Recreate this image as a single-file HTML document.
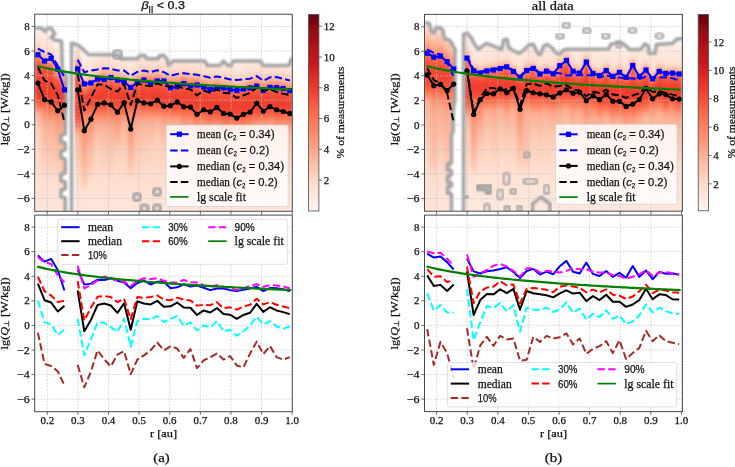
<!DOCTYPE html>
<html><head><meta charset="utf-8"><title>figure</title>
<style>html,body{margin:0;padding:0;background:#fff;width:735px;height:467px;overflow:hidden} svg{display:block}</style>
</head><body>
<svg width="735" height="467" viewBox="0 0 735 467">
<defs>
<style>text{stroke:#111;stroke-width:0.25;paint-order:stroke}</style>
<clipPath id="clipTL"><rect x="34.7" y="14.2" width="257.60" height="197.10"/></clipPath>
<clipPath id="clipBL"><rect x="34.7" y="215.1" width="257.60" height="196.60"/></clipPath>
<clipPath id="clipTR"><rect x="424.5" y="14.4" width="257.90" height="196.80"/></clipPath>
<clipPath id="clipBR"><rect x="424.5" y="215.1" width="257.90" height="196.50"/></clipPath>
<filter id="hblur" x="-5%" y="-5%" width="110%" height="110%"><feGaussianBlur stdDeviation="1.6"/></filter>
<filter id="gblur" x="-10%" y="-10%" width="120%" height="120%"><feGaussianBlur stdDeviation="0.9"/></filter>
<filter id="lblur"><feGaussianBlur stdDeviation="0.35"/></filter>
<linearGradient id="cbL" x1="0" y1="0" x2="0" y2="1"><stop offset="0.000" stop-color="#67000d"/><stop offset="0.050" stop-color="#800610"/><stop offset="0.100" stop-color="#990c13"/><stop offset="0.150" stop-color="#ad1117"/><stop offset="0.200" stop-color="#bc141a"/><stop offset="0.250" stop-color="#cb181d"/><stop offset="0.300" stop-color="#d92623"/><stop offset="0.350" stop-color="#e83429"/><stop offset="0.400" stop-color="#f14432"/><stop offset="0.450" stop-color="#f6573e"/><stop offset="0.500" stop-color="#fb6a4a"/><stop offset="0.550" stop-color="#fb7a5a"/><stop offset="0.600" stop-color="#fc8a6a"/><stop offset="0.650" stop-color="#fc9a7b"/><stop offset="0.700" stop-color="#fcab8e"/><stop offset="0.750" stop-color="#fcbba1"/><stop offset="0.800" stop-color="#fdcab5"/><stop offset="0.850" stop-color="#fed9c8"/><stop offset="0.900" stop-color="#fee4d8"/><stop offset="0.950" stop-color="#ffede4"/><stop offset="1.000" stop-color="#fff5f0"/></linearGradient>
<linearGradient id="cbR" x1="0" y1="0" x2="0" y2="1"><stop offset="0.000" stop-color="#67000d"/><stop offset="0.050" stop-color="#800610"/><stop offset="0.100" stop-color="#980c13"/><stop offset="0.150" stop-color="#ac1117"/><stop offset="0.200" stop-color="#bb141a"/><stop offset="0.250" stop-color="#ca181d"/><stop offset="0.300" stop-color="#d92523"/><stop offset="0.350" stop-color="#e73329"/><stop offset="0.400" stop-color="#f14331"/><stop offset="0.450" stop-color="#f6563d"/><stop offset="0.500" stop-color="#fb6949"/><stop offset="0.550" stop-color="#fb7959"/><stop offset="0.600" stop-color="#fc8969"/><stop offset="0.650" stop-color="#fc997a"/><stop offset="0.700" stop-color="#fca98c"/><stop offset="0.750" stop-color="#fcb99f"/><stop offset="0.800" stop-color="#fdc8b2"/><stop offset="0.850" stop-color="#fed7c6"/><stop offset="0.900" stop-color="#fee3d6"/><stop offset="0.950" stop-color="#ffebe2"/><stop offset="1.000" stop-color="#fff4ee"/></linearGradient>
<filter id="global" x="0" y="0" width="100%" height="100%" filterUnits="userSpaceOnUse"><feGaussianBlur stdDeviation="0.45"/></filter>
</defs>
<rect width="735" height="467" fill="#fff"/>
<g filter="url(#global)">
<g clip-path="url(#clipTL)"><g filter="url(#hblur)"><defs><linearGradient id="gTL0" gradientUnits="userSpaceOnUse" x1="0" y1="8.1" x2="0" y2="216.8"><stop offset="0.000" stop-color="#ffffff"/><stop offset="0.053" stop-color="#ffffff"/><stop offset="0.071" stop-color="#fff4ef"/><stop offset="0.088" stop-color="#fff1ea"/><stop offset="0.106" stop-color="#ffece3"/><stop offset="0.124" stop-color="#fee8dd"/><stop offset="0.141" stop-color="#fee4d8"/><stop offset="0.159" stop-color="#fee0d2"/><stop offset="0.176" stop-color="#fed9c9"/><stop offset="0.194" stop-color="#fdccb8"/><stop offset="0.212" stop-color="#fcb397"/><stop offset="0.229" stop-color="#fc8f6f"/><stop offset="0.247" stop-color="#fb6e4e"/><stop offset="0.265" stop-color="#f6573e"/><stop offset="0.282" stop-color="#f44f39"/><stop offset="0.300" stop-color="#f34b36"/><stop offset="0.318" stop-color="#f24834"/><stop offset="0.335" stop-color="#f14432"/><stop offset="0.353" stop-color="#f14130"/><stop offset="0.371" stop-color="#f03e2e"/><stop offset="0.388" stop-color="#ef3b2c"/><stop offset="0.406" stop-color="#ee3a2c"/><stop offset="0.424" stop-color="#f14130"/><stop offset="0.441" stop-color="#f4513a"/><stop offset="0.459" stop-color="#fa6446"/><stop offset="0.476" stop-color="#fb7c5c"/><stop offset="0.494" stop-color="#fc9c7e"/><stop offset="0.512" stop-color="#fcb398"/><stop offset="0.529" stop-color="#fcbca3"/><stop offset="0.547" stop-color="#fcc2aa"/><stop offset="0.565" stop-color="#fdc7b1"/><stop offset="0.582" stop-color="#fdccb7"/><stop offset="0.600" stop-color="#fdcfbc"/><stop offset="0.618" stop-color="#fdd1be"/><stop offset="0.635" stop-color="#fdd2c0"/><stop offset="0.653" stop-color="#fdd4c1"/><stop offset="0.671" stop-color="#fdd5c3"/><stop offset="0.688" stop-color="#fdd6c4"/><stop offset="0.706" stop-color="#fed7c6"/><stop offset="0.724" stop-color="#fed8c7"/><stop offset="0.741" stop-color="#fed9c9"/><stop offset="0.759" stop-color="#fedacb"/><stop offset="0.776" stop-color="#fedbcc"/><stop offset="0.794" stop-color="#feddce"/><stop offset="0.812" stop-color="#fedecf"/><stop offset="0.829" stop-color="#fedfd1"/><stop offset="0.847" stop-color="#fee0d2"/><stop offset="0.865" stop-color="#fee1d3"/><stop offset="0.882" stop-color="#fee1d4"/><stop offset="0.900" stop-color="#fee2d5"/><stop offset="0.918" stop-color="#fee3d6"/><stop offset="0.935" stop-color="#fee3d7"/><stop offset="0.953" stop-color="#fee4d8"/><stop offset="0.971" stop-color="#fee5d9"/><stop offset="0.988" stop-color="#fee5da"/></linearGradient><linearGradient id="gTL1" gradientUnits="userSpaceOnUse" x1="0" y1="8.1" x2="0" y2="216.8"><stop offset="0.000" stop-color="#ffffff"/><stop offset="0.088" stop-color="#ffffff"/><stop offset="0.106" stop-color="#fff3ed"/><stop offset="0.124" stop-color="#ffeee6"/><stop offset="0.141" stop-color="#fee9df"/><stop offset="0.159" stop-color="#fee5da"/><stop offset="0.176" stop-color="#fee2d4"/><stop offset="0.194" stop-color="#fedccd"/><stop offset="0.212" stop-color="#fdd2c0"/><stop offset="0.229" stop-color="#fcbfa6"/><stop offset="0.247" stop-color="#fc9d7f"/><stop offset="0.265" stop-color="#fb7a5a"/><stop offset="0.282" stop-color="#f85e42"/><stop offset="0.300" stop-color="#f4503a"/><stop offset="0.318" stop-color="#f34b36"/><stop offset="0.335" stop-color="#f24734"/><stop offset="0.353" stop-color="#f14331"/><stop offset="0.371" stop-color="#f03f2f"/><stop offset="0.388" stop-color="#ef3c2c"/><stop offset="0.406" stop-color="#ef3b2c"/><stop offset="0.424" stop-color="#f14130"/><stop offset="0.441" stop-color="#f5513a"/><stop offset="0.459" stop-color="#f96446"/><stop offset="0.476" stop-color="#fb7656"/><stop offset="0.494" stop-color="#fc8666"/><stop offset="0.512" stop-color="#fc9373"/><stop offset="0.529" stop-color="#fc9e80"/><stop offset="0.547" stop-color="#fca88b"/><stop offset="0.565" stop-color="#fcb095"/><stop offset="0.582" stop-color="#fcb59a"/><stop offset="0.600" stop-color="#fcb89e"/><stop offset="0.618" stop-color="#fcbba2"/><stop offset="0.635" stop-color="#fcbea5"/><stop offset="0.653" stop-color="#fcc1a9"/><stop offset="0.671" stop-color="#fcc4ad"/><stop offset="0.688" stop-color="#fdc7b1"/><stop offset="0.706" stop-color="#fdcab4"/><stop offset="0.724" stop-color="#fdcdb8"/><stop offset="0.741" stop-color="#fdd0bc"/><stop offset="0.759" stop-color="#fdd3c0"/><stop offset="0.776" stop-color="#fdd6c5"/><stop offset="0.794" stop-color="#fed9c9"/><stop offset="0.812" stop-color="#fedccd"/><stop offset="0.829" stop-color="#fedfd0"/><stop offset="0.847" stop-color="#fee0d2"/><stop offset="0.865" stop-color="#fee1d3"/><stop offset="0.882" stop-color="#fee1d4"/><stop offset="0.900" stop-color="#fee2d5"/><stop offset="0.918" stop-color="#fee3d6"/><stop offset="0.935" stop-color="#fee3d7"/><stop offset="0.953" stop-color="#fee4d8"/><stop offset="0.971" stop-color="#fee5d9"/><stop offset="0.988" stop-color="#fee5da"/></linearGradient><linearGradient id="gTL2" gradientUnits="userSpaceOnUse" x1="0" y1="8.1" x2="0" y2="216.8"><stop offset="0.000" stop-color="#ffffff"/><stop offset="0.088" stop-color="#ffffff"/><stop offset="0.106" stop-color="#fff4ee"/><stop offset="0.124" stop-color="#fff0e8"/><stop offset="0.141" stop-color="#ffebe2"/><stop offset="0.159" stop-color="#fee7dc"/><stop offset="0.176" stop-color="#fee3d7"/><stop offset="0.194" stop-color="#fee0d1"/><stop offset="0.212" stop-color="#fed8c7"/><stop offset="0.229" stop-color="#fdcab4"/><stop offset="0.247" stop-color="#fcae92"/><stop offset="0.265" stop-color="#fc8a6a"/><stop offset="0.282" stop-color="#fb6a4a"/><stop offset="0.300" stop-color="#f6553c"/><stop offset="0.318" stop-color="#f44d38"/><stop offset="0.335" stop-color="#f34935"/><stop offset="0.353" stop-color="#f24533"/><stop offset="0.371" stop-color="#f14130"/><stop offset="0.388" stop-color="#f03e2e"/><stop offset="0.406" stop-color="#ef3b2c"/><stop offset="0.424" stop-color="#ef3c2c"/><stop offset="0.441" stop-color="#f24633"/><stop offset="0.459" stop-color="#f6573e"/><stop offset="0.476" stop-color="#fb6b4b"/><stop offset="0.494" stop-color="#fb7d5d"/><stop offset="0.512" stop-color="#fc8b6b"/><stop offset="0.529" stop-color="#fc9778"/><stop offset="0.547" stop-color="#fca284"/><stop offset="0.565" stop-color="#fcac90"/><stop offset="0.582" stop-color="#fcb297"/><stop offset="0.600" stop-color="#fcb69c"/><stop offset="0.618" stop-color="#fcba9f"/><stop offset="0.635" stop-color="#fcbda3"/><stop offset="0.653" stop-color="#fcbfa7"/><stop offset="0.671" stop-color="#fcc2ab"/><stop offset="0.688" stop-color="#fdc5ae"/><stop offset="0.706" stop-color="#fdc8b2"/><stop offset="0.724" stop-color="#fdcbb6"/><stop offset="0.741" stop-color="#fdceba"/><stop offset="0.759" stop-color="#fdd1be"/><stop offset="0.776" stop-color="#fdd5c3"/><stop offset="0.794" stop-color="#fed8c8"/><stop offset="0.812" stop-color="#fedccc"/><stop offset="0.829" stop-color="#feded0"/><stop offset="0.847" stop-color="#fee0d2"/><stop offset="0.865" stop-color="#fee1d3"/><stop offset="0.882" stop-color="#fee1d4"/><stop offset="0.900" stop-color="#fee2d5"/><stop offset="0.918" stop-color="#fee3d6"/><stop offset="0.935" stop-color="#fee3d7"/><stop offset="0.953" stop-color="#fee4d8"/><stop offset="0.971" stop-color="#fee5d9"/><stop offset="0.988" stop-color="#fee5da"/></linearGradient><linearGradient id="gTL3" gradientUnits="userSpaceOnUse" x1="0" y1="8.1" x2="0" y2="216.8"><stop offset="0.000" stop-color="#ffffff"/><stop offset="0.141" stop-color="#ffffff"/><stop offset="0.159" stop-color="#fff4ef"/><stop offset="0.176" stop-color="#fff1ea"/><stop offset="0.194" stop-color="#ffece3"/><stop offset="0.212" stop-color="#fee7dc"/><stop offset="0.229" stop-color="#fee4d7"/><stop offset="0.247" stop-color="#fee0d2"/><stop offset="0.265" stop-color="#fed8c8"/><stop offset="0.282" stop-color="#fdcab5"/><stop offset="0.300" stop-color="#fcaf93"/><stop offset="0.318" stop-color="#fc8b6b"/><stop offset="0.335" stop-color="#fb6b4b"/><stop offset="0.353" stop-color="#f5543c"/><stop offset="0.371" stop-color="#f34935"/><stop offset="0.388" stop-color="#f14331"/><stop offset="0.406" stop-color="#f03d2d"/><stop offset="0.424" stop-color="#ef3d2d"/><stop offset="0.441" stop-color="#f24633"/><stop offset="0.459" stop-color="#f6573e"/><stop offset="0.476" stop-color="#fb6b4b"/><stop offset="0.494" stop-color="#fb7c5c"/><stop offset="0.512" stop-color="#fc8868"/><stop offset="0.529" stop-color="#fc9070"/><stop offset="0.547" stop-color="#fc9677"/><stop offset="0.565" stop-color="#fc9d7e"/><stop offset="0.582" stop-color="#fca385"/><stop offset="0.600" stop-color="#fca98d"/><stop offset="0.618" stop-color="#fcaf93"/><stop offset="0.635" stop-color="#fcb499"/><stop offset="0.653" stop-color="#fcb89d"/><stop offset="0.671" stop-color="#fcbba1"/><stop offset="0.688" stop-color="#fcbfa6"/><stop offset="0.706" stop-color="#fcc2aa"/><stop offset="0.724" stop-color="#fdc5af"/><stop offset="0.741" stop-color="#fdc9b3"/><stop offset="0.759" stop-color="#fdccb8"/><stop offset="0.776" stop-color="#fdd0bd"/><stop offset="0.794" stop-color="#fdd5c3"/><stop offset="0.812" stop-color="#fedaca"/><stop offset="0.829" stop-color="#fedecf"/><stop offset="0.847" stop-color="#fee0d2"/><stop offset="0.865" stop-color="#fee1d3"/><stop offset="0.882" stop-color="#fee1d4"/><stop offset="0.900" stop-color="#fee2d5"/><stop offset="0.918" stop-color="#fee3d6"/><stop offset="0.935" stop-color="#fee3d7"/><stop offset="0.953" stop-color="#fee4d8"/><stop offset="0.971" stop-color="#fee5d9"/><stop offset="0.988" stop-color="#fee5da"/></linearGradient><linearGradient id="gTL4" gradientUnits="userSpaceOnUse" x1="0" y1="8.1" x2="0" y2="216.8"><stop offset="0.000" stop-color="#ffffff"/><stop offset="0.176" stop-color="#ffffff"/><stop offset="0.194" stop-color="#fff4ee"/><stop offset="0.212" stop-color="#fff0e8"/><stop offset="0.229" stop-color="#ffebe2"/><stop offset="0.247" stop-color="#fee7dc"/><stop offset="0.265" stop-color="#fee3d7"/><stop offset="0.282" stop-color="#fee0d1"/><stop offset="0.300" stop-color="#fed8c7"/><stop offset="0.318" stop-color="#fdcab4"/><stop offset="0.335" stop-color="#fcae92"/><stop offset="0.353" stop-color="#fc8a6a"/><stop offset="0.371" stop-color="#fb694a"/><stop offset="0.388" stop-color="#f5523a"/><stop offset="0.406" stop-color="#f24633"/><stop offset="0.424" stop-color="#f03f2e"/><stop offset="0.441" stop-color="#f03e2e"/><stop offset="0.459" stop-color="#f24834"/><stop offset="0.476" stop-color="#f7593f"/><stop offset="0.494" stop-color="#fb6d4d"/><stop offset="0.512" stop-color="#fc7e5e"/><stop offset="0.529" stop-color="#fc8c6c"/><stop offset="0.547" stop-color="#fc9677"/><stop offset="0.565" stop-color="#fca082"/><stop offset="0.582" stop-color="#fca98c"/><stop offset="0.600" stop-color="#fcb094"/><stop offset="0.618" stop-color="#fcb499"/><stop offset="0.635" stop-color="#fcb69c"/><stop offset="0.653" stop-color="#fcb99e"/><stop offset="0.671" stop-color="#fcbba1"/><stop offset="0.688" stop-color="#fcbda4"/><stop offset="0.706" stop-color="#fcbfa6"/><stop offset="0.724" stop-color="#fcc1a9"/><stop offset="0.741" stop-color="#fcc3ac"/><stop offset="0.759" stop-color="#fdc5af"/><stop offset="0.776" stop-color="#fdc8b2"/><stop offset="0.794" stop-color="#fdcab4"/><stop offset="0.812" stop-color="#fdccb7"/><stop offset="0.829" stop-color="#fdd0bc"/><stop offset="0.847" stop-color="#fed7c6"/><stop offset="0.865" stop-color="#feded0"/><stop offset="0.882" stop-color="#fee1d3"/><stop offset="0.900" stop-color="#fee1d4"/><stop offset="0.918" stop-color="#fee2d5"/><stop offset="0.935" stop-color="#fee3d6"/><stop offset="0.953" stop-color="#fee4d7"/><stop offset="0.971" stop-color="#fee5d9"/><stop offset="0.988" stop-color="#fee5da"/></linearGradient><linearGradient id="gTL6" gradientUnits="userSpaceOnUse" x1="0" y1="8.1" x2="0" y2="216.8"><stop offset="0.000" stop-color="#ffffff"/><stop offset="0.106" stop-color="#ffffff"/><stop offset="0.124" stop-color="#fff3ec"/><stop offset="0.141" stop-color="#ffeee5"/><stop offset="0.159" stop-color="#fee9df"/><stop offset="0.176" stop-color="#fee5d9"/><stop offset="0.194" stop-color="#fee1d4"/><stop offset="0.212" stop-color="#fedccc"/><stop offset="0.229" stop-color="#fdd2bf"/><stop offset="0.247" stop-color="#fcbda3"/><stop offset="0.265" stop-color="#fc9b7c"/><stop offset="0.282" stop-color="#fb7858"/><stop offset="0.300" stop-color="#f85d42"/><stop offset="0.318" stop-color="#f5523a"/><stop offset="0.335" stop-color="#f44e38"/><stop offset="0.353" stop-color="#f34b36"/><stop offset="0.371" stop-color="#f34935"/><stop offset="0.388" stop-color="#f24633"/><stop offset="0.406" stop-color="#f14432"/><stop offset="0.424" stop-color="#f14130"/><stop offset="0.441" stop-color="#f03f2f"/><stop offset="0.459" stop-color="#ef3c2d"/><stop offset="0.476" stop-color="#ee3a2c"/><stop offset="0.494" stop-color="#ed392b"/><stop offset="0.512" stop-color="#f03e2e"/><stop offset="0.529" stop-color="#f34b36"/><stop offset="0.547" stop-color="#f85d42"/><stop offset="0.565" stop-color="#fb7353"/><stop offset="0.582" stop-color="#fc9171"/><stop offset="0.600" stop-color="#fcac90"/><stop offset="0.618" stop-color="#fcb79c"/><stop offset="0.635" stop-color="#fcbba1"/><stop offset="0.653" stop-color="#fcbea5"/><stop offset="0.671" stop-color="#fcc1a9"/><stop offset="0.688" stop-color="#fdc5ae"/><stop offset="0.706" stop-color="#fdc8b2"/><stop offset="0.724" stop-color="#fdcbb7"/><stop offset="0.741" stop-color="#fdcfbb"/><stop offset="0.759" stop-color="#fdd2bf"/><stop offset="0.776" stop-color="#fdd5c4"/><stop offset="0.794" stop-color="#fed9c8"/><stop offset="0.812" stop-color="#fedccd"/><stop offset="0.829" stop-color="#feded0"/><stop offset="0.847" stop-color="#fee0d2"/><stop offset="0.865" stop-color="#fee1d3"/><stop offset="0.882" stop-color="#fee1d4"/><stop offset="0.900" stop-color="#fee2d5"/><stop offset="0.918" stop-color="#fee3d6"/><stop offset="0.935" stop-color="#fee3d7"/><stop offset="0.953" stop-color="#fee4d8"/><stop offset="0.971" stop-color="#fee5d9"/><stop offset="0.988" stop-color="#fee5da"/></linearGradient><linearGradient id="gTL7" gradientUnits="userSpaceOnUse" x1="0" y1="8.1" x2="0" y2="216.8"><stop offset="0.000" stop-color="#ffffff"/><stop offset="0.212" stop-color="#ffffff"/><stop offset="0.229" stop-color="#fff3ed"/><stop offset="0.247" stop-color="#ffeee6"/><stop offset="0.265" stop-color="#fee9e0"/><stop offset="0.282" stop-color="#fee6da"/><stop offset="0.300" stop-color="#fee2d5"/><stop offset="0.318" stop-color="#feddce"/><stop offset="0.335" stop-color="#fdd4c2"/><stop offset="0.353" stop-color="#fcc1a9"/><stop offset="0.371" stop-color="#fca183"/><stop offset="0.388" stop-color="#fb7d5d"/><stop offset="0.406" stop-color="#f75c41"/><stop offset="0.424" stop-color="#f24633"/><stop offset="0.441" stop-color="#f14130"/><stop offset="0.459" stop-color="#f34c37"/><stop offset="0.476" stop-color="#f85e42"/><stop offset="0.494" stop-color="#fb7151"/><stop offset="0.512" stop-color="#fc8060"/><stop offset="0.529" stop-color="#fc8969"/><stop offset="0.547" stop-color="#fc8d6d"/><stop offset="0.565" stop-color="#fc9171"/><stop offset="0.582" stop-color="#fc9575"/><stop offset="0.600" stop-color="#fc9879"/><stop offset="0.618" stop-color="#fc9c7d"/><stop offset="0.635" stop-color="#fca082"/><stop offset="0.653" stop-color="#fca386"/><stop offset="0.671" stop-color="#fca78a"/><stop offset="0.688" stop-color="#fcab8e"/><stop offset="0.706" stop-color="#fcae93"/><stop offset="0.724" stop-color="#fcb297"/><stop offset="0.741" stop-color="#fcb69c"/><stop offset="0.759" stop-color="#fcbba1"/><stop offset="0.776" stop-color="#fcbfa6"/><stop offset="0.794" stop-color="#fcc2ab"/><stop offset="0.812" stop-color="#fdc6b0"/><stop offset="0.829" stop-color="#fdcbb6"/><stop offset="0.847" stop-color="#fdd2bf"/><stop offset="0.865" stop-color="#fedbcb"/><stop offset="0.882" stop-color="#fee0d2"/><stop offset="0.900" stop-color="#fee1d4"/><stop offset="0.918" stop-color="#fee2d5"/><stop offset="0.935" stop-color="#fee3d6"/><stop offset="0.953" stop-color="#fee4d7"/><stop offset="0.971" stop-color="#fee4d8"/><stop offset="0.988" stop-color="#fee5d9"/></linearGradient><linearGradient id="gTL8" gradientUnits="userSpaceOnUse" x1="0" y1="8.1" x2="0" y2="216.8"><stop offset="0.000" stop-color="#ffffff"/><stop offset="0.194" stop-color="#ffffff"/><stop offset="0.212" stop-color="#fff3ed"/><stop offset="0.229" stop-color="#ffeee6"/><stop offset="0.247" stop-color="#fee9e0"/><stop offset="0.265" stop-color="#fee6da"/><stop offset="0.282" stop-color="#fee2d5"/><stop offset="0.300" stop-color="#feddce"/><stop offset="0.318" stop-color="#fdd4c2"/><stop offset="0.335" stop-color="#fcc1a9"/><stop offset="0.353" stop-color="#fca183"/><stop offset="0.371" stop-color="#fb7d5d"/><stop offset="0.388" stop-color="#f85e42"/><stop offset="0.406" stop-color="#f34a36"/><stop offset="0.424" stop-color="#f0402f"/><stop offset="0.441" stop-color="#f0402f"/><stop offset="0.459" stop-color="#f34c37"/><stop offset="0.476" stop-color="#f85e42"/><stop offset="0.494" stop-color="#fb7151"/><stop offset="0.512" stop-color="#fc8161"/><stop offset="0.529" stop-color="#fc8b6b"/><stop offset="0.547" stop-color="#fc9171"/><stop offset="0.565" stop-color="#fc9778"/><stop offset="0.582" stop-color="#fc9d7f"/><stop offset="0.600" stop-color="#fca386"/><stop offset="0.618" stop-color="#fca98c"/><stop offset="0.635" stop-color="#fcaf93"/><stop offset="0.653" stop-color="#fcb498"/><stop offset="0.671" stop-color="#fcb89d"/><stop offset="0.688" stop-color="#fcbca2"/><stop offset="0.706" stop-color="#fcc0a7"/><stop offset="0.724" stop-color="#fcc4ad"/><stop offset="0.741" stop-color="#fdc8b2"/><stop offset="0.759" stop-color="#fdcbb7"/><stop offset="0.776" stop-color="#fdd0bc"/><stop offset="0.794" stop-color="#fdd5c3"/><stop offset="0.812" stop-color="#fedaca"/><stop offset="0.829" stop-color="#fedecf"/><stop offset="0.847" stop-color="#fee0d2"/><stop offset="0.865" stop-color="#fee1d3"/><stop offset="0.882" stop-color="#fee1d4"/><stop offset="0.900" stop-color="#fee2d5"/><stop offset="0.918" stop-color="#fee3d6"/><stop offset="0.935" stop-color="#fee3d7"/><stop offset="0.953" stop-color="#fee4d8"/><stop offset="0.971" stop-color="#fee5d9"/><stop offset="0.988" stop-color="#fee5da"/></linearGradient><linearGradient id="gTL9" gradientUnits="userSpaceOnUse" x1="0" y1="8.1" x2="0" y2="216.8"><stop offset="0.000" stop-color="#ffffff"/><stop offset="0.176" stop-color="#ffffff"/><stop offset="0.194" stop-color="#fff3ec"/><stop offset="0.212" stop-color="#ffeee5"/><stop offset="0.229" stop-color="#fee9df"/><stop offset="0.247" stop-color="#fee5d9"/><stop offset="0.265" stop-color="#fee1d4"/><stop offset="0.282" stop-color="#fedccc"/><stop offset="0.300" stop-color="#fdd2bf"/><stop offset="0.318" stop-color="#fcbda3"/><stop offset="0.335" stop-color="#fc9b7c"/><stop offset="0.353" stop-color="#fb7858"/><stop offset="0.371" stop-color="#f75b41"/><stop offset="0.388" stop-color="#f34c37"/><stop offset="0.406" stop-color="#f14431"/><stop offset="0.424" stop-color="#f03e2e"/><stop offset="0.441" stop-color="#f03e2e"/><stop offset="0.459" stop-color="#f34935"/><stop offset="0.476" stop-color="#f75b40"/><stop offset="0.494" stop-color="#fb6f4f"/><stop offset="0.512" stop-color="#fc8161"/><stop offset="0.529" stop-color="#fc9272"/><stop offset="0.547" stop-color="#fca285"/><stop offset="0.565" stop-color="#fcaf93"/><stop offset="0.582" stop-color="#fcb69c"/><stop offset="0.600" stop-color="#fcbca2"/><stop offset="0.618" stop-color="#fcc0a8"/><stop offset="0.635" stop-color="#fdc5ae"/><stop offset="0.653" stop-color="#fdc9b4"/><stop offset="0.671" stop-color="#fdcdb9"/><stop offset="0.688" stop-color="#fdd0bd"/><stop offset="0.706" stop-color="#fdd3c0"/><stop offset="0.724" stop-color="#fdd4c3"/><stop offset="0.741" stop-color="#fdd6c5"/><stop offset="0.759" stop-color="#fed8c7"/><stop offset="0.776" stop-color="#fedaca"/><stop offset="0.794" stop-color="#fedccc"/><stop offset="0.812" stop-color="#feddce"/><stop offset="0.829" stop-color="#fedfd0"/><stop offset="0.847" stop-color="#fee0d2"/><stop offset="0.865" stop-color="#fee1d3"/><stop offset="0.882" stop-color="#fee1d4"/><stop offset="0.900" stop-color="#fee2d5"/><stop offset="0.918" stop-color="#fee3d6"/><stop offset="0.935" stop-color="#fee3d7"/><stop offset="0.953" stop-color="#fee4d8"/><stop offset="0.971" stop-color="#fee5d9"/><stop offset="0.988" stop-color="#fee5da"/></linearGradient><linearGradient id="gTL10" gradientUnits="userSpaceOnUse" x1="0" y1="8.1" x2="0" y2="216.8"><stop offset="0.000" stop-color="#ffffff"/><stop offset="0.159" stop-color="#ffffff"/><stop offset="0.176" stop-color="#fff2ec"/><stop offset="0.194" stop-color="#ffede5"/><stop offset="0.212" stop-color="#fee9de"/><stop offset="0.229" stop-color="#fee5d9"/><stop offset="0.247" stop-color="#fee1d4"/><stop offset="0.265" stop-color="#fedbcc"/><stop offset="0.282" stop-color="#fdd1be"/><stop offset="0.300" stop-color="#fcbba1"/><stop offset="0.318" stop-color="#fc9979"/><stop offset="0.335" stop-color="#fb7656"/><stop offset="0.353" stop-color="#f75a40"/><stop offset="0.371" stop-color="#f44d37"/><stop offset="0.388" stop-color="#f24633"/><stop offset="0.406" stop-color="#f04130"/><stop offset="0.424" stop-color="#ef3c2d"/><stop offset="0.441" stop-color="#f03e2e"/><stop offset="0.459" stop-color="#f34935"/><stop offset="0.476" stop-color="#f75b40"/><stop offset="0.494" stop-color="#fb6f4f"/><stop offset="0.512" stop-color="#fc8161"/><stop offset="0.529" stop-color="#fc9272"/><stop offset="0.547" stop-color="#fca284"/><stop offset="0.565" stop-color="#fcae92"/><stop offset="0.582" stop-color="#fcb59a"/><stop offset="0.600" stop-color="#fcb99e"/><stop offset="0.618" stop-color="#fcbca3"/><stop offset="0.635" stop-color="#fcc0a7"/><stop offset="0.653" stop-color="#fcc3ac"/><stop offset="0.671" stop-color="#fdc6b0"/><stop offset="0.688" stop-color="#fdcab4"/><stop offset="0.706" stop-color="#fdcdb9"/><stop offset="0.724" stop-color="#fdd0bd"/><stop offset="0.741" stop-color="#fdd3c0"/><stop offset="0.759" stop-color="#fdd5c4"/><stop offset="0.776" stop-color="#fed8c7"/><stop offset="0.794" stop-color="#fedaca"/><stop offset="0.812" stop-color="#feddce"/><stop offset="0.829" stop-color="#fedfd0"/><stop offset="0.847" stop-color="#fee0d2"/><stop offset="0.865" stop-color="#fee1d3"/><stop offset="0.882" stop-color="#fee1d4"/><stop offset="0.900" stop-color="#fee2d5"/><stop offset="0.918" stop-color="#fee3d6"/><stop offset="0.935" stop-color="#fee3d7"/><stop offset="0.953" stop-color="#fee4d8"/><stop offset="0.971" stop-color="#fee5d9"/><stop offset="0.988" stop-color="#fee5da"/></linearGradient><linearGradient id="gTL11" gradientUnits="userSpaceOnUse" x1="0" y1="8.1" x2="0" y2="216.8"><stop offset="0.000" stop-color="#ffffff"/><stop offset="0.159" stop-color="#ffffff"/><stop offset="0.176" stop-color="#fff4ee"/><stop offset="0.194" stop-color="#ffefe8"/><stop offset="0.212" stop-color="#ffebe1"/><stop offset="0.229" stop-color="#fee7db"/><stop offset="0.247" stop-color="#fee3d6"/><stop offset="0.265" stop-color="#fedfd0"/><stop offset="0.282" stop-color="#fdd6c5"/><stop offset="0.300" stop-color="#fdc7b0"/><stop offset="0.318" stop-color="#fca98d"/><stop offset="0.335" stop-color="#fc8565"/><stop offset="0.353" stop-color="#fa6647"/><stop offset="0.371" stop-color="#f5513a"/><stop offset="0.388" stop-color="#f24834"/><stop offset="0.406" stop-color="#f14130"/><stop offset="0.424" stop-color="#ef3c2d"/><stop offset="0.441" stop-color="#f03f2e"/><stop offset="0.459" stop-color="#f34b37"/><stop offset="0.476" stop-color="#f85e42"/><stop offset="0.494" stop-color="#fb7151"/><stop offset="0.512" stop-color="#fc8262"/><stop offset="0.529" stop-color="#fc8f6f"/><stop offset="0.547" stop-color="#fc9a7c"/><stop offset="0.565" stop-color="#fca588"/><stop offset="0.582" stop-color="#fcae92"/><stop offset="0.600" stop-color="#fcb499"/><stop offset="0.618" stop-color="#fcb79d"/><stop offset="0.635" stop-color="#fcbba1"/><stop offset="0.653" stop-color="#fcbea5"/><stop offset="0.671" stop-color="#fcc1a9"/><stop offset="0.688" stop-color="#fcc4ad"/><stop offset="0.706" stop-color="#fdc7b1"/><stop offset="0.724" stop-color="#fdcab5"/><stop offset="0.741" stop-color="#fdcdb9"/><stop offset="0.759" stop-color="#fdd1be"/><stop offset="0.776" stop-color="#fdd4c3"/><stop offset="0.794" stop-color="#fed8c8"/><stop offset="0.812" stop-color="#fedccc"/><stop offset="0.829" stop-color="#feded0"/><stop offset="0.847" stop-color="#fee0d2"/><stop offset="0.865" stop-color="#fee1d3"/><stop offset="0.882" stop-color="#fee1d4"/><stop offset="0.900" stop-color="#fee2d5"/><stop offset="0.918" stop-color="#fee3d6"/><stop offset="0.935" stop-color="#fee3d7"/><stop offset="0.953" stop-color="#fee4d8"/><stop offset="0.971" stop-color="#fee5d9"/><stop offset="0.988" stop-color="#fee5da"/></linearGradient><linearGradient id="gTL12" gradientUnits="userSpaceOnUse" x1="0" y1="8.1" x2="0" y2="216.8"><stop offset="0.000" stop-color="#ffffff"/><stop offset="0.176" stop-color="#ffffff"/><stop offset="0.194" stop-color="#fff3ed"/><stop offset="0.212" stop-color="#ffeee6"/><stop offset="0.229" stop-color="#fee9df"/><stop offset="0.247" stop-color="#fee6da"/><stop offset="0.265" stop-color="#fee2d5"/><stop offset="0.282" stop-color="#feddcd"/><stop offset="0.300" stop-color="#fdd3c1"/><stop offset="0.318" stop-color="#fcc0a7"/><stop offset="0.335" stop-color="#fc9f80"/><stop offset="0.353" stop-color="#fb7b5b"/><stop offset="0.371" stop-color="#f85d42"/><stop offset="0.388" stop-color="#f34d37"/><stop offset="0.406" stop-color="#f14432"/><stop offset="0.424" stop-color="#f03e2e"/><stop offset="0.441" stop-color="#f03e2e"/><stop offset="0.459" stop-color="#f34935"/><stop offset="0.476" stop-color="#f75b40"/><stop offset="0.494" stop-color="#fb6f4f"/><stop offset="0.512" stop-color="#fc7f5f"/><stop offset="0.529" stop-color="#fc8c6c"/><stop offset="0.547" stop-color="#fc9575"/><stop offset="0.565" stop-color="#fc9d7e"/><stop offset="0.582" stop-color="#fca588"/><stop offset="0.600" stop-color="#fcad91"/><stop offset="0.618" stop-color="#fcb499"/><stop offset="0.635" stop-color="#fcbba1"/><stop offset="0.653" stop-color="#fcc1a9"/><stop offset="0.671" stop-color="#fdc7b0"/><stop offset="0.688" stop-color="#fdccb7"/><stop offset="0.706" stop-color="#fdd0bd"/><stop offset="0.724" stop-color="#fdd3c0"/><stop offset="0.741" stop-color="#fdd5c3"/><stop offset="0.759" stop-color="#fed7c6"/><stop offset="0.776" stop-color="#fed9c9"/><stop offset="0.794" stop-color="#fedbcb"/><stop offset="0.812" stop-color="#feddce"/><stop offset="0.829" stop-color="#fedfd0"/><stop offset="0.847" stop-color="#fee0d2"/><stop offset="0.865" stop-color="#fee1d3"/><stop offset="0.882" stop-color="#fee1d4"/><stop offset="0.900" stop-color="#fee2d5"/><stop offset="0.918" stop-color="#fee3d6"/><stop offset="0.935" stop-color="#fee3d7"/><stop offset="0.953" stop-color="#fee4d8"/><stop offset="0.971" stop-color="#fee5d9"/><stop offset="0.988" stop-color="#fee5da"/></linearGradient><linearGradient id="gTL13" gradientUnits="userSpaceOnUse" x1="0" y1="8.1" x2="0" y2="216.8"><stop offset="0.000" stop-color="#ffffff"/><stop offset="0.176" stop-color="#ffffff"/><stop offset="0.194" stop-color="#fff4ee"/><stop offset="0.212" stop-color="#ffefe8"/><stop offset="0.229" stop-color="#feeae1"/><stop offset="0.247" stop-color="#fee6db"/><stop offset="0.265" stop-color="#fee3d6"/><stop offset="0.282" stop-color="#feded0"/><stop offset="0.300" stop-color="#fdd6c4"/><stop offset="0.318" stop-color="#fdc5ae"/><stop offset="0.335" stop-color="#fca78a"/><stop offset="0.353" stop-color="#fc8363"/><stop offset="0.371" stop-color="#f96346"/><stop offset="0.388" stop-color="#f44f39"/><stop offset="0.406" stop-color="#f24532"/><stop offset="0.424" stop-color="#f03e2e"/><stop offset="0.441" stop-color="#f03e2e"/><stop offset="0.459" stop-color="#f34935"/><stop offset="0.476" stop-color="#f75b40"/><stop offset="0.494" stop-color="#fb6f4f"/><stop offset="0.512" stop-color="#fc8363"/><stop offset="0.529" stop-color="#fc9a7b"/><stop offset="0.547" stop-color="#fcac90"/><stop offset="0.565" stop-color="#fcb59b"/><stop offset="0.582" stop-color="#fcbaa0"/><stop offset="0.600" stop-color="#fcbea5"/><stop offset="0.618" stop-color="#fcc2aa"/><stop offset="0.635" stop-color="#fdc6af"/><stop offset="0.653" stop-color="#fdcab4"/><stop offset="0.671" stop-color="#fdcdb9"/><stop offset="0.688" stop-color="#fdd0bd"/><stop offset="0.706" stop-color="#fdd2c0"/><stop offset="0.724" stop-color="#fdd4c2"/><stop offset="0.741" stop-color="#fdd6c5"/><stop offset="0.759" stop-color="#fed8c7"/><stop offset="0.776" stop-color="#fedaca"/><stop offset="0.794" stop-color="#fedbcc"/><stop offset="0.812" stop-color="#feddce"/><stop offset="0.829" stop-color="#fedfd0"/><stop offset="0.847" stop-color="#fee0d2"/><stop offset="0.865" stop-color="#fee1d3"/><stop offset="0.882" stop-color="#fee1d4"/><stop offset="0.900" stop-color="#fee2d5"/><stop offset="0.918" stop-color="#fee3d6"/><stop offset="0.935" stop-color="#fee3d7"/><stop offset="0.953" stop-color="#fee4d8"/><stop offset="0.971" stop-color="#fee5d9"/><stop offset="0.988" stop-color="#fee5da"/></linearGradient><linearGradient id="gTL14" gradientUnits="userSpaceOnUse" x1="0" y1="8.1" x2="0" y2="216.8"><stop offset="0.000" stop-color="#ffffff"/><stop offset="0.194" stop-color="#ffffff"/><stop offset="0.212" stop-color="#fff4ee"/><stop offset="0.229" stop-color="#fff0e8"/><stop offset="0.247" stop-color="#ffebe1"/><stop offset="0.265" stop-color="#fee7dc"/><stop offset="0.282" stop-color="#fee3d7"/><stop offset="0.300" stop-color="#fedfd1"/><stop offset="0.318" stop-color="#fed8c7"/><stop offset="0.335" stop-color="#fdc9b3"/><stop offset="0.353" stop-color="#fcad91"/><stop offset="0.371" stop-color="#fc8969"/><stop offset="0.388" stop-color="#fa6748"/><stop offset="0.406" stop-color="#f44d37"/><stop offset="0.424" stop-color="#f04130"/><stop offset="0.441" stop-color="#f14432"/><stop offset="0.459" stop-color="#f5523b"/><stop offset="0.476" stop-color="#fa6647"/><stop offset="0.494" stop-color="#fb7858"/><stop offset="0.512" stop-color="#fc8565"/><stop offset="0.529" stop-color="#fc8c6c"/><stop offset="0.547" stop-color="#fc9070"/><stop offset="0.565" stop-color="#fc9575"/><stop offset="0.582" stop-color="#fc997a"/><stop offset="0.600" stop-color="#fc9e7f"/><stop offset="0.618" stop-color="#fca284"/><stop offset="0.635" stop-color="#fca689"/><stop offset="0.653" stop-color="#fcab8e"/><stop offset="0.671" stop-color="#fcaf94"/><stop offset="0.688" stop-color="#fcb499"/><stop offset="0.706" stop-color="#fcb99f"/><stop offset="0.724" stop-color="#fcbea5"/><stop offset="0.741" stop-color="#fcc2ab"/><stop offset="0.759" stop-color="#fdc7b1"/><stop offset="0.776" stop-color="#fdccb7"/><stop offset="0.794" stop-color="#fdd2bf"/><stop offset="0.812" stop-color="#fed8c8"/><stop offset="0.829" stop-color="#fedecf"/><stop offset="0.847" stop-color="#fee0d2"/><stop offset="0.865" stop-color="#fee1d3"/><stop offset="0.882" stop-color="#fee1d4"/><stop offset="0.900" stop-color="#fee2d5"/><stop offset="0.918" stop-color="#fee3d6"/><stop offset="0.935" stop-color="#fee3d7"/><stop offset="0.953" stop-color="#fee4d8"/><stop offset="0.971" stop-color="#fee5d9"/><stop offset="0.988" stop-color="#fee5da"/></linearGradient><linearGradient id="gTL15" gradientUnits="userSpaceOnUse" x1="0" y1="8.1" x2="0" y2="216.8"><stop offset="0.000" stop-color="#ffffff"/><stop offset="0.176" stop-color="#ffffff"/><stop offset="0.194" stop-color="#fff3ed"/><stop offset="0.212" stop-color="#ffeee6"/><stop offset="0.229" stop-color="#fee9df"/><stop offset="0.247" stop-color="#fee6da"/><stop offset="0.265" stop-color="#fee2d5"/><stop offset="0.282" stop-color="#feddcd"/><stop offset="0.300" stop-color="#fdd3c1"/><stop offset="0.318" stop-color="#fcc0a7"/><stop offset="0.335" stop-color="#fc9f80"/><stop offset="0.353" stop-color="#fb7b5b"/><stop offset="0.371" stop-color="#f85d42"/><stop offset="0.388" stop-color="#f34b36"/><stop offset="0.406" stop-color="#f14230"/><stop offset="0.424" stop-color="#f03d2d"/><stop offset="0.441" stop-color="#f14331"/><stop offset="0.459" stop-color="#f5523b"/><stop offset="0.476" stop-color="#fa6647"/><stop offset="0.494" stop-color="#fb7858"/><stop offset="0.512" stop-color="#fc8a6a"/><stop offset="0.529" stop-color="#fc9a7b"/><stop offset="0.547" stop-color="#fca88b"/><stop offset="0.565" stop-color="#fcb196"/><stop offset="0.582" stop-color="#fcb69c"/><stop offset="0.600" stop-color="#fcbaa0"/><stop offset="0.618" stop-color="#fcbda4"/><stop offset="0.635" stop-color="#fcc0a8"/><stop offset="0.653" stop-color="#fcc3ac"/><stop offset="0.671" stop-color="#fdc7b0"/><stop offset="0.688" stop-color="#fdcab4"/><stop offset="0.706" stop-color="#fdcdb9"/><stop offset="0.724" stop-color="#fdd0bc"/><stop offset="0.741" stop-color="#fdd2c0"/><stop offset="0.759" stop-color="#fdd5c4"/><stop offset="0.776" stop-color="#fed8c7"/><stop offset="0.794" stop-color="#fedaca"/><stop offset="0.812" stop-color="#feddce"/><stop offset="0.829" stop-color="#fedfd0"/><stop offset="0.847" stop-color="#fee0d2"/><stop offset="0.865" stop-color="#fee1d3"/><stop offset="0.882" stop-color="#fee1d4"/><stop offset="0.900" stop-color="#fee2d5"/><stop offset="0.918" stop-color="#fee3d6"/><stop offset="0.935" stop-color="#fee3d7"/><stop offset="0.953" stop-color="#fee4d8"/><stop offset="0.971" stop-color="#fee5d9"/><stop offset="0.988" stop-color="#fee5da"/></linearGradient><linearGradient id="gTL16" gradientUnits="userSpaceOnUse" x1="0" y1="8.1" x2="0" y2="216.8"><stop offset="0.000" stop-color="#ffffff"/><stop offset="0.159" stop-color="#ffffff"/><stop offset="0.176" stop-color="#fff4ee"/><stop offset="0.194" stop-color="#ffefe8"/><stop offset="0.212" stop-color="#ffebe1"/><stop offset="0.229" stop-color="#fee7db"/><stop offset="0.247" stop-color="#fee3d6"/><stop offset="0.265" stop-color="#fedfd0"/><stop offset="0.282" stop-color="#fdd6c5"/><stop offset="0.300" stop-color="#fdc7b0"/><stop offset="0.318" stop-color="#fca98d"/><stop offset="0.335" stop-color="#fc8565"/><stop offset="0.353" stop-color="#fa6647"/><stop offset="0.371" stop-color="#f5513a"/><stop offset="0.388" stop-color="#f24733"/><stop offset="0.406" stop-color="#f0402f"/><stop offset="0.424" stop-color="#ef3c2d"/><stop offset="0.441" stop-color="#f14331"/><stop offset="0.459" stop-color="#f5523b"/><stop offset="0.476" stop-color="#fa6647"/><stop offset="0.494" stop-color="#fb7959"/><stop offset="0.512" stop-color="#fc8c6c"/><stop offset="0.529" stop-color="#fc9f81"/><stop offset="0.547" stop-color="#fcad92"/><stop offset="0.565" stop-color="#fcb59a"/><stop offset="0.582" stop-color="#fcb99f"/><stop offset="0.600" stop-color="#fcbda3"/><stop offset="0.618" stop-color="#fcc0a7"/><stop offset="0.635" stop-color="#fcc3ac"/><stop offset="0.653" stop-color="#fdc6b0"/><stop offset="0.671" stop-color="#fdcab5"/><stop offset="0.688" stop-color="#fdcdb9"/><stop offset="0.706" stop-color="#fdd0bd"/><stop offset="0.724" stop-color="#fdd2c0"/><stop offset="0.741" stop-color="#fdd4c3"/><stop offset="0.759" stop-color="#fdd7c6"/><stop offset="0.776" stop-color="#fed9c8"/><stop offset="0.794" stop-color="#fedbcb"/><stop offset="0.812" stop-color="#feddce"/><stop offset="0.829" stop-color="#fedfd0"/><stop offset="0.847" stop-color="#fee0d2"/><stop offset="0.865" stop-color="#fee1d3"/><stop offset="0.882" stop-color="#fee1d4"/><stop offset="0.900" stop-color="#fee2d5"/><stop offset="0.918" stop-color="#fee3d6"/><stop offset="0.935" stop-color="#fee3d7"/><stop offset="0.953" stop-color="#fee4d8"/><stop offset="0.971" stop-color="#fee5d9"/><stop offset="0.988" stop-color="#fee5da"/></linearGradient><linearGradient id="gTL17" gradientUnits="userSpaceOnUse" x1="0" y1="8.1" x2="0" y2="216.8"><stop offset="0.000" stop-color="#ffffff"/><stop offset="0.159" stop-color="#ffffff"/><stop offset="0.176" stop-color="#fff4ef"/><stop offset="0.194" stop-color="#fff1ea"/><stop offset="0.212" stop-color="#ffece3"/><stop offset="0.229" stop-color="#fee8dd"/><stop offset="0.247" stop-color="#fee4d7"/><stop offset="0.265" stop-color="#fee0d2"/><stop offset="0.282" stop-color="#fed9c8"/><stop offset="0.300" stop-color="#fdcbb7"/><stop offset="0.318" stop-color="#fcb196"/><stop offset="0.335" stop-color="#fc8e6e"/><stop offset="0.353" stop-color="#fb6c4c"/><stop offset="0.371" stop-color="#f5543c"/><stop offset="0.388" stop-color="#f24834"/><stop offset="0.406" stop-color="#f0402f"/><stop offset="0.424" stop-color="#ef3d2d"/><stop offset="0.441" stop-color="#f14331"/><stop offset="0.459" stop-color="#f5523b"/><stop offset="0.476" stop-color="#fa6647"/><stop offset="0.494" stop-color="#fb7959"/><stop offset="0.512" stop-color="#fc8b6b"/><stop offset="0.529" stop-color="#fc9d7f"/><stop offset="0.547" stop-color="#fcac90"/><stop offset="0.565" stop-color="#fcb59a"/><stop offset="0.582" stop-color="#fcbaa0"/><stop offset="0.600" stop-color="#fcbea5"/><stop offset="0.618" stop-color="#fcc2aa"/><stop offset="0.635" stop-color="#fdc6b0"/><stop offset="0.653" stop-color="#fdcab5"/><stop offset="0.671" stop-color="#fdceba"/><stop offset="0.688" stop-color="#fdd1be"/><stop offset="0.706" stop-color="#fdd3c0"/><stop offset="0.724" stop-color="#fdd4c3"/><stop offset="0.741" stop-color="#fdd6c5"/><stop offset="0.759" stop-color="#fed8c7"/><stop offset="0.776" stop-color="#fedaca"/><stop offset="0.794" stop-color="#fedccc"/><stop offset="0.812" stop-color="#feddce"/><stop offset="0.829" stop-color="#fedfd0"/><stop offset="0.847" stop-color="#fee0d2"/><stop offset="0.865" stop-color="#fee1d3"/><stop offset="0.882" stop-color="#fee1d4"/><stop offset="0.900" stop-color="#fee2d5"/><stop offset="0.918" stop-color="#fee3d6"/><stop offset="0.935" stop-color="#fee3d7"/><stop offset="0.953" stop-color="#fee4d8"/><stop offset="0.971" stop-color="#fee5d9"/><stop offset="0.988" stop-color="#fee5da"/></linearGradient><linearGradient id="gTL18" gradientUnits="userSpaceOnUse" x1="0" y1="8.1" x2="0" y2="216.8"><stop offset="0.000" stop-color="#ffffff"/><stop offset="0.159" stop-color="#ffffff"/><stop offset="0.176" stop-color="#fff4ee"/><stop offset="0.194" stop-color="#ffefe8"/><stop offset="0.212" stop-color="#ffebe1"/><stop offset="0.229" stop-color="#fee7db"/><stop offset="0.247" stop-color="#fee3d6"/><stop offset="0.265" stop-color="#fedfd0"/><stop offset="0.282" stop-color="#fdd6c5"/><stop offset="0.300" stop-color="#fdc7b0"/><stop offset="0.318" stop-color="#fca98d"/><stop offset="0.335" stop-color="#fc8565"/><stop offset="0.353" stop-color="#fa6647"/><stop offset="0.371" stop-color="#f5513a"/><stop offset="0.388" stop-color="#f24734"/><stop offset="0.406" stop-color="#f04130"/><stop offset="0.424" stop-color="#ef3c2d"/><stop offset="0.441" stop-color="#f0402f"/><stop offset="0.459" stop-color="#f44e38"/><stop offset="0.476" stop-color="#f96144"/><stop offset="0.494" stop-color="#fb7555"/><stop offset="0.512" stop-color="#fc8c6c"/><stop offset="0.529" stop-color="#fca588"/><stop offset="0.547" stop-color="#fcb499"/><stop offset="0.565" stop-color="#fcbba1"/><stop offset="0.582" stop-color="#fcc0a8"/><stop offset="0.600" stop-color="#fdc5ae"/><stop offset="0.618" stop-color="#fdc9b4"/><stop offset="0.635" stop-color="#fdceba"/><stop offset="0.653" stop-color="#fdd0bd"/><stop offset="0.671" stop-color="#fdd2c0"/><stop offset="0.688" stop-color="#fdd4c2"/><stop offset="0.706" stop-color="#fdd5c3"/><stop offset="0.724" stop-color="#fdd6c5"/><stop offset="0.741" stop-color="#fed8c7"/><stop offset="0.759" stop-color="#fed9c9"/><stop offset="0.776" stop-color="#fedbcb"/><stop offset="0.794" stop-color="#fedccd"/><stop offset="0.812" stop-color="#fedecf"/><stop offset="0.829" stop-color="#fedfd1"/><stop offset="0.847" stop-color="#fee0d2"/><stop offset="0.865" stop-color="#fee1d3"/><stop offset="0.882" stop-color="#fee1d4"/><stop offset="0.900" stop-color="#fee2d5"/><stop offset="0.918" stop-color="#fee3d6"/><stop offset="0.935" stop-color="#fee3d7"/><stop offset="0.953" stop-color="#fee4d8"/><stop offset="0.971" stop-color="#fee5d9"/><stop offset="0.988" stop-color="#fee5da"/></linearGradient><linearGradient id="gTL19" gradientUnits="userSpaceOnUse" x1="0" y1="8.1" x2="0" y2="216.8"><stop offset="0.000" stop-color="#ffffff"/><stop offset="0.176" stop-color="#ffffff"/><stop offset="0.194" stop-color="#fff3ed"/><stop offset="0.212" stop-color="#ffeee6"/><stop offset="0.229" stop-color="#fee9df"/><stop offset="0.247" stop-color="#fee6da"/><stop offset="0.265" stop-color="#fee2d5"/><stop offset="0.282" stop-color="#feddcd"/><stop offset="0.300" stop-color="#fdd3c1"/><stop offset="0.318" stop-color="#fcc0a7"/><stop offset="0.335" stop-color="#fc9f80"/><stop offset="0.353" stop-color="#fb7b5b"/><stop offset="0.371" stop-color="#f85d42"/><stop offset="0.388" stop-color="#f34c37"/><stop offset="0.406" stop-color="#f14331"/><stop offset="0.424" stop-color="#f03d2d"/><stop offset="0.441" stop-color="#f0402f"/><stop offset="0.459" stop-color="#f44e38"/><stop offset="0.476" stop-color="#f96144"/><stop offset="0.494" stop-color="#fb7454"/><stop offset="0.512" stop-color="#fc8666"/><stop offset="0.529" stop-color="#fc9677"/><stop offset="0.547" stop-color="#fca588"/><stop offset="0.565" stop-color="#fcb095"/><stop offset="0.582" stop-color="#fcb79d"/><stop offset="0.600" stop-color="#fcbca3"/><stop offset="0.618" stop-color="#fcc1a8"/><stop offset="0.635" stop-color="#fdc5ae"/><stop offset="0.653" stop-color="#fdc9b4"/><stop offset="0.671" stop-color="#fdcdb9"/><stop offset="0.688" stop-color="#fdd0bd"/><stop offset="0.706" stop-color="#fdd3c0"/><stop offset="0.724" stop-color="#fdd4c3"/><stop offset="0.741" stop-color="#fdd6c5"/><stop offset="0.759" stop-color="#fed8c7"/><stop offset="0.776" stop-color="#fedaca"/><stop offset="0.794" stop-color="#fedccc"/><stop offset="0.812" stop-color="#feddce"/><stop offset="0.829" stop-color="#fedfd0"/><stop offset="0.847" stop-color="#fee0d2"/><stop offset="0.865" stop-color="#fee1d3"/><stop offset="0.882" stop-color="#fee1d4"/><stop offset="0.900" stop-color="#fee2d5"/><stop offset="0.918" stop-color="#fee3d6"/><stop offset="0.935" stop-color="#fee3d7"/><stop offset="0.953" stop-color="#fee4d8"/><stop offset="0.971" stop-color="#fee5d9"/><stop offset="0.988" stop-color="#fee5da"/></linearGradient><linearGradient id="gTL20" gradientUnits="userSpaceOnUse" x1="0" y1="8.1" x2="0" y2="216.8"><stop offset="0.000" stop-color="#ffffff"/><stop offset="0.176" stop-color="#ffffff"/><stop offset="0.194" stop-color="#fff4ef"/><stop offset="0.212" stop-color="#fff1ea"/><stop offset="0.229" stop-color="#ffece3"/><stop offset="0.247" stop-color="#fee7dc"/><stop offset="0.265" stop-color="#fee4d7"/><stop offset="0.282" stop-color="#fee0d2"/><stop offset="0.300" stop-color="#fed8c8"/><stop offset="0.318" stop-color="#fdcab5"/><stop offset="0.335" stop-color="#fcaf93"/><stop offset="0.353" stop-color="#fc8b6b"/><stop offset="0.371" stop-color="#fb6a4a"/><stop offset="0.388" stop-color="#f5523b"/><stop offset="0.406" stop-color="#f24734"/><stop offset="0.424" stop-color="#f03f2f"/><stop offset="0.441" stop-color="#f03d2d"/><stop offset="0.459" stop-color="#f24633"/><stop offset="0.476" stop-color="#f6573e"/><stop offset="0.494" stop-color="#fb6b4b"/><stop offset="0.512" stop-color="#fc7e5e"/><stop offset="0.529" stop-color="#fc9575"/><stop offset="0.547" stop-color="#fcaa8d"/><stop offset="0.565" stop-color="#fcb59a"/><stop offset="0.582" stop-color="#fcbba2"/><stop offset="0.600" stop-color="#fcc0a8"/><stop offset="0.618" stop-color="#fdc5ae"/><stop offset="0.635" stop-color="#fdc9b4"/><stop offset="0.653" stop-color="#fdceba"/><stop offset="0.671" stop-color="#fdd0bd"/><stop offset="0.688" stop-color="#fdd2c0"/><stop offset="0.706" stop-color="#fdd4c2"/><stop offset="0.724" stop-color="#fdd6c4"/><stop offset="0.741" stop-color="#fed7c6"/><stop offset="0.759" stop-color="#fed9c8"/><stop offset="0.776" stop-color="#fedaca"/><stop offset="0.794" stop-color="#fedccd"/><stop offset="0.812" stop-color="#feddcf"/><stop offset="0.829" stop-color="#fedfd0"/><stop offset="0.847" stop-color="#fee0d2"/><stop offset="0.865" stop-color="#fee1d3"/><stop offset="0.882" stop-color="#fee1d4"/><stop offset="0.900" stop-color="#fee2d5"/><stop offset="0.918" stop-color="#fee3d6"/><stop offset="0.935" stop-color="#fee3d7"/><stop offset="0.953" stop-color="#fee4d8"/><stop offset="0.971" stop-color="#fee5d9"/><stop offset="0.988" stop-color="#fee5da"/></linearGradient><linearGradient id="gTL21" gradientUnits="userSpaceOnUse" x1="0" y1="8.1" x2="0" y2="216.8"><stop offset="0.000" stop-color="#ffffff"/><stop offset="0.176" stop-color="#ffffff"/><stop offset="0.194" stop-color="#fff4ef"/><stop offset="0.212" stop-color="#fff1ea"/><stop offset="0.229" stop-color="#ffece3"/><stop offset="0.247" stop-color="#fee7dc"/><stop offset="0.265" stop-color="#fee4d7"/><stop offset="0.282" stop-color="#fee0d2"/><stop offset="0.300" stop-color="#fed8c8"/><stop offset="0.318" stop-color="#fdcab5"/><stop offset="0.335" stop-color="#fcaf93"/><stop offset="0.353" stop-color="#fc8b6b"/><stop offset="0.371" stop-color="#fb6a4a"/><stop offset="0.388" stop-color="#f5533b"/><stop offset="0.406" stop-color="#f24734"/><stop offset="0.424" stop-color="#f0402f"/><stop offset="0.441" stop-color="#ef3d2d"/><stop offset="0.459" stop-color="#f14432"/><stop offset="0.476" stop-color="#f5543c"/><stop offset="0.494" stop-color="#fb6849"/><stop offset="0.512" stop-color="#fc7f5f"/><stop offset="0.529" stop-color="#fc9c7d"/><stop offset="0.547" stop-color="#fcb195"/><stop offset="0.565" stop-color="#fcb99f"/><stop offset="0.582" stop-color="#fcbda4"/><stop offset="0.600" stop-color="#fcc1a9"/><stop offset="0.618" stop-color="#fdc5ae"/><stop offset="0.635" stop-color="#fdc8b3"/><stop offset="0.653" stop-color="#fdccb8"/><stop offset="0.671" stop-color="#fdcfbc"/><stop offset="0.688" stop-color="#fdd1bf"/><stop offset="0.706" stop-color="#fdd3c1"/><stop offset="0.724" stop-color="#fdd5c3"/><stop offset="0.741" stop-color="#fdd7c6"/><stop offset="0.759" stop-color="#fed8c8"/><stop offset="0.776" stop-color="#fedaca"/><stop offset="0.794" stop-color="#fedccc"/><stop offset="0.812" stop-color="#feddce"/><stop offset="0.829" stop-color="#fedfd0"/><stop offset="0.847" stop-color="#fee0d2"/><stop offset="0.865" stop-color="#fee1d3"/><stop offset="0.882" stop-color="#fee1d4"/><stop offset="0.900" stop-color="#fee2d5"/><stop offset="0.918" stop-color="#fee3d6"/><stop offset="0.935" stop-color="#fee3d7"/><stop offset="0.953" stop-color="#fee4d8"/><stop offset="0.971" stop-color="#fee5d9"/><stop offset="0.988" stop-color="#fee5da"/></linearGradient><linearGradient id="gTL22" gradientUnits="userSpaceOnUse" x1="0" y1="8.1" x2="0" y2="216.8"><stop offset="0.000" stop-color="#ffffff"/><stop offset="0.176" stop-color="#ffffff"/><stop offset="0.194" stop-color="#fff2ec"/><stop offset="0.212" stop-color="#ffede5"/><stop offset="0.229" stop-color="#fee9de"/><stop offset="0.247" stop-color="#fee5d9"/><stop offset="0.265" stop-color="#fee1d3"/><stop offset="0.282" stop-color="#fedbcb"/><stop offset="0.300" stop-color="#fdd0bc"/><stop offset="0.318" stop-color="#fcb99f"/><stop offset="0.335" stop-color="#fc9677"/><stop offset="0.353" stop-color="#fb7353"/><stop offset="0.371" stop-color="#f7593f"/><stop offset="0.388" stop-color="#f34c37"/><stop offset="0.406" stop-color="#f24532"/><stop offset="0.424" stop-color="#f03f2e"/><stop offset="0.441" stop-color="#ef3c2d"/><stop offset="0.459" stop-color="#f14230"/><stop offset="0.476" stop-color="#f5513a"/><stop offset="0.494" stop-color="#fa6446"/><stop offset="0.512" stop-color="#fb7757"/><stop offset="0.529" stop-color="#fc8868"/><stop offset="0.547" stop-color="#fc9879"/><stop offset="0.565" stop-color="#fca688"/><stop offset="0.582" stop-color="#fcb094"/><stop offset="0.600" stop-color="#fcb69c"/><stop offset="0.618" stop-color="#fcbba1"/><stop offset="0.635" stop-color="#fcbfa6"/><stop offset="0.653" stop-color="#fcc2ab"/><stop offset="0.671" stop-color="#fdc6b0"/><stop offset="0.688" stop-color="#fdcab5"/><stop offset="0.706" stop-color="#fdceba"/><stop offset="0.724" stop-color="#fdd1be"/><stop offset="0.741" stop-color="#fdd3c1"/><stop offset="0.759" stop-color="#fdd6c4"/><stop offset="0.776" stop-color="#fed8c8"/><stop offset="0.794" stop-color="#fedbcb"/><stop offset="0.812" stop-color="#feddce"/><stop offset="0.829" stop-color="#fedfd0"/><stop offset="0.847" stop-color="#fee0d2"/><stop offset="0.865" stop-color="#fee1d3"/><stop offset="0.882" stop-color="#fee1d4"/><stop offset="0.900" stop-color="#fee2d5"/><stop offset="0.918" stop-color="#fee3d6"/><stop offset="0.935" stop-color="#fee3d7"/><stop offset="0.953" stop-color="#fee4d8"/><stop offset="0.971" stop-color="#fee5d9"/><stop offset="0.988" stop-color="#fee5da"/></linearGradient><linearGradient id="gTL23" gradientUnits="userSpaceOnUse" x1="0" y1="8.1" x2="0" y2="216.8"><stop offset="0.000" stop-color="#ffffff"/><stop offset="0.176" stop-color="#ffffff"/><stop offset="0.194" stop-color="#fff4ee"/><stop offset="0.212" stop-color="#fff0e8"/><stop offset="0.229" stop-color="#ffebe1"/><stop offset="0.247" stop-color="#fee7dc"/><stop offset="0.265" stop-color="#fee3d7"/><stop offset="0.282" stop-color="#fedfd1"/><stop offset="0.300" stop-color="#fed7c6"/><stop offset="0.318" stop-color="#fdc8b2"/><stop offset="0.335" stop-color="#fcac90"/><stop offset="0.353" stop-color="#fc8868"/><stop offset="0.371" stop-color="#fa6848"/><stop offset="0.388" stop-color="#f5523a"/><stop offset="0.406" stop-color="#f24734"/><stop offset="0.424" stop-color="#f0402f"/><stop offset="0.441" stop-color="#ef3c2d"/><stop offset="0.459" stop-color="#f14130"/><stop offset="0.476" stop-color="#f45039"/><stop offset="0.494" stop-color="#f96346"/><stop offset="0.512" stop-color="#fb7656"/><stop offset="0.529" stop-color="#fc8a6a"/><stop offset="0.547" stop-color="#fc9e80"/><stop offset="0.565" stop-color="#fcae92"/><stop offset="0.582" stop-color="#fcb79c"/><stop offset="0.600" stop-color="#fcbca3"/><stop offset="0.618" stop-color="#fcc1a9"/><stop offset="0.635" stop-color="#fdc6af"/><stop offset="0.653" stop-color="#fdcbb6"/><stop offset="0.671" stop-color="#fdcebb"/><stop offset="0.688" stop-color="#fdd1be"/><stop offset="0.706" stop-color="#fdd3c1"/><stop offset="0.724" stop-color="#fdd5c3"/><stop offset="0.741" stop-color="#fdd6c5"/><stop offset="0.759" stop-color="#fed8c8"/><stop offset="0.776" stop-color="#fedaca"/><stop offset="0.794" stop-color="#fedccc"/><stop offset="0.812" stop-color="#feddce"/><stop offset="0.829" stop-color="#fedfd0"/><stop offset="0.847" stop-color="#fee0d2"/><stop offset="0.865" stop-color="#fee1d3"/><stop offset="0.882" stop-color="#fee1d4"/><stop offset="0.900" stop-color="#fee2d5"/><stop offset="0.918" stop-color="#fee3d6"/><stop offset="0.935" stop-color="#fee3d7"/><stop offset="0.953" stop-color="#fee4d8"/><stop offset="0.971" stop-color="#fee5d9"/><stop offset="0.988" stop-color="#fee5da"/></linearGradient><linearGradient id="gTL24" gradientUnits="userSpaceOnUse" x1="0" y1="8.1" x2="0" y2="216.8"><stop offset="0.000" stop-color="#ffffff"/><stop offset="0.176" stop-color="#ffffff"/><stop offset="0.194" stop-color="#fff4ef"/><stop offset="0.212" stop-color="#fff1ea"/><stop offset="0.229" stop-color="#ffece3"/><stop offset="0.247" stop-color="#fee7dc"/><stop offset="0.265" stop-color="#fee4d7"/><stop offset="0.282" stop-color="#fee0d2"/><stop offset="0.300" stop-color="#fed8c8"/><stop offset="0.318" stop-color="#fdcab5"/><stop offset="0.335" stop-color="#fcaf93"/><stop offset="0.353" stop-color="#fc8b6b"/><stop offset="0.371" stop-color="#fb6b4b"/><stop offset="0.388" stop-color="#f5543c"/><stop offset="0.406" stop-color="#f34a35"/><stop offset="0.424" stop-color="#f14331"/><stop offset="0.441" stop-color="#f03e2e"/><stop offset="0.459" stop-color="#ef3c2d"/><stop offset="0.476" stop-color="#f14432"/><stop offset="0.494" stop-color="#f6553c"/><stop offset="0.512" stop-color="#fb6849"/><stop offset="0.529" stop-color="#fb7b5b"/><stop offset="0.547" stop-color="#fc8a6a"/><stop offset="0.565" stop-color="#fc9879"/><stop offset="0.582" stop-color="#fca487"/><stop offset="0.600" stop-color="#fcae92"/><stop offset="0.618" stop-color="#fcb499"/><stop offset="0.635" stop-color="#fcb89e"/><stop offset="0.653" stop-color="#fcbca2"/><stop offset="0.671" stop-color="#fcbfa6"/><stop offset="0.688" stop-color="#fcc2aa"/><stop offset="0.706" stop-color="#fdc5af"/><stop offset="0.724" stop-color="#fdc8b3"/><stop offset="0.741" stop-color="#fdccb7"/><stop offset="0.759" stop-color="#fdcfbc"/><stop offset="0.776" stop-color="#fdd3c1"/><stop offset="0.794" stop-color="#fed7c6"/><stop offset="0.812" stop-color="#fedbcc"/><stop offset="0.829" stop-color="#feded0"/><stop offset="0.847" stop-color="#fee0d2"/><stop offset="0.865" stop-color="#fee1d3"/><stop offset="0.882" stop-color="#fee1d4"/><stop offset="0.900" stop-color="#fee2d5"/><stop offset="0.918" stop-color="#fee3d6"/><stop offset="0.935" stop-color="#fee3d7"/><stop offset="0.953" stop-color="#fee4d8"/><stop offset="0.971" stop-color="#fee5d9"/><stop offset="0.988" stop-color="#fee5da"/></linearGradient><linearGradient id="gTL25" gradientUnits="userSpaceOnUse" x1="0" y1="8.1" x2="0" y2="216.8"><stop offset="0.000" stop-color="#ffffff"/><stop offset="0.194" stop-color="#ffffff"/><stop offset="0.212" stop-color="#fff4ee"/><stop offset="0.229" stop-color="#ffefe8"/><stop offset="0.247" stop-color="#feeae1"/><stop offset="0.265" stop-color="#fee6db"/><stop offset="0.282" stop-color="#fee2d6"/><stop offset="0.300" stop-color="#fedecf"/><stop offset="0.318" stop-color="#fdd5c3"/><stop offset="0.335" stop-color="#fcc4ac"/><stop offset="0.353" stop-color="#fca587"/><stop offset="0.371" stop-color="#fc8161"/><stop offset="0.388" stop-color="#f96245"/><stop offset="0.406" stop-color="#f44f39"/><stop offset="0.424" stop-color="#f24633"/><stop offset="0.441" stop-color="#f03f2f"/><stop offset="0.459" stop-color="#ef3d2d"/><stop offset="0.476" stop-color="#f14532"/><stop offset="0.494" stop-color="#f6553c"/><stop offset="0.512" stop-color="#fb6949"/><stop offset="0.529" stop-color="#fb7b5b"/><stop offset="0.547" stop-color="#fc8f6f"/><stop offset="0.565" stop-color="#fca284"/><stop offset="0.582" stop-color="#fcaf94"/><stop offset="0.600" stop-color="#fcb69b"/><stop offset="0.618" stop-color="#fcbaa0"/><stop offset="0.635" stop-color="#fcbea5"/><stop offset="0.653" stop-color="#fcc1a9"/><stop offset="0.671" stop-color="#fdc5ae"/><stop offset="0.688" stop-color="#fdc8b2"/><stop offset="0.706" stop-color="#fdccb7"/><stop offset="0.724" stop-color="#fdcfbb"/><stop offset="0.741" stop-color="#fdd2bf"/><stop offset="0.759" stop-color="#fdd5c3"/><stop offset="0.776" stop-color="#fed7c7"/><stop offset="0.794" stop-color="#fedaca"/><stop offset="0.812" stop-color="#feddcd"/><stop offset="0.829" stop-color="#fedfd0"/><stop offset="0.847" stop-color="#fee0d2"/><stop offset="0.865" stop-color="#fee1d3"/><stop offset="0.882" stop-color="#fee1d4"/><stop offset="0.900" stop-color="#fee2d5"/><stop offset="0.918" stop-color="#fee3d6"/><stop offset="0.935" stop-color="#fee3d7"/><stop offset="0.953" stop-color="#fee4d8"/><stop offset="0.971" stop-color="#fee5d9"/><stop offset="0.988" stop-color="#fee5da"/></linearGradient><linearGradient id="gTL26" gradientUnits="userSpaceOnUse" x1="0" y1="8.1" x2="0" y2="216.8"><stop offset="0.000" stop-color="#ffffff"/><stop offset="0.194" stop-color="#ffffff"/><stop offset="0.212" stop-color="#fff4ef"/><stop offset="0.229" stop-color="#fff1ea"/><stop offset="0.247" stop-color="#ffece3"/><stop offset="0.265" stop-color="#fee8dd"/><stop offset="0.282" stop-color="#fee4d8"/><stop offset="0.300" stop-color="#fee0d3"/><stop offset="0.318" stop-color="#fedaca"/><stop offset="0.335" stop-color="#fdcdb9"/><stop offset="0.353" stop-color="#fcb59a"/><stop offset="0.371" stop-color="#fc9171"/><stop offset="0.388" stop-color="#fb6f4f"/><stop offset="0.406" stop-color="#f6563d"/><stop offset="0.424" stop-color="#f34a35"/><stop offset="0.441" stop-color="#f14231"/><stop offset="0.459" stop-color="#ef3d2d"/><stop offset="0.476" stop-color="#f03f2e"/><stop offset="0.494" stop-color="#f34b36"/><stop offset="0.512" stop-color="#f85d42"/><stop offset="0.529" stop-color="#fb7151"/><stop offset="0.547" stop-color="#fc8464"/><stop offset="0.565" stop-color="#fc9879"/><stop offset="0.582" stop-color="#fcaa8d"/><stop offset="0.600" stop-color="#fcb499"/><stop offset="0.618" stop-color="#fcba9f"/><stop offset="0.635" stop-color="#fcbea5"/><stop offset="0.653" stop-color="#fcc2aa"/><stop offset="0.671" stop-color="#fdc6b0"/><stop offset="0.688" stop-color="#fdcab5"/><stop offset="0.706" stop-color="#fdceba"/><stop offset="0.724" stop-color="#fdd1be"/><stop offset="0.741" stop-color="#fdd4c2"/><stop offset="0.759" stop-color="#fdd6c5"/><stop offset="0.776" stop-color="#fed8c8"/><stop offset="0.794" stop-color="#fedbcb"/><stop offset="0.812" stop-color="#feddce"/><stop offset="0.829" stop-color="#fedfd0"/><stop offset="0.847" stop-color="#fee0d2"/><stop offset="0.865" stop-color="#fee1d3"/><stop offset="0.882" stop-color="#fee1d4"/><stop offset="0.900" stop-color="#fee2d5"/><stop offset="0.918" stop-color="#fee3d6"/><stop offset="0.935" stop-color="#fee3d7"/><stop offset="0.953" stop-color="#fee4d8"/><stop offset="0.971" stop-color="#fee5d9"/><stop offset="0.988" stop-color="#fee5da"/></linearGradient><linearGradient id="gTL27" gradientUnits="userSpaceOnUse" x1="0" y1="8.1" x2="0" y2="216.8"><stop offset="0.000" stop-color="#ffffff"/><stop offset="0.194" stop-color="#ffffff"/><stop offset="0.212" stop-color="#fff4ee"/><stop offset="0.229" stop-color="#ffefe8"/><stop offset="0.247" stop-color="#feeae1"/><stop offset="0.265" stop-color="#fee6db"/><stop offset="0.282" stop-color="#fee2d6"/><stop offset="0.300" stop-color="#fedecf"/><stop offset="0.318" stop-color="#fdd5c3"/><stop offset="0.335" stop-color="#fcc4ac"/><stop offset="0.353" stop-color="#fca587"/><stop offset="0.371" stop-color="#fc8161"/><stop offset="0.388" stop-color="#f96245"/><stop offset="0.406" stop-color="#f45039"/><stop offset="0.424" stop-color="#f24734"/><stop offset="0.441" stop-color="#f14130"/><stop offset="0.459" stop-color="#ef3c2d"/><stop offset="0.476" stop-color="#f03f2e"/><stop offset="0.494" stop-color="#f34b36"/><stop offset="0.512" stop-color="#f85d42"/><stop offset="0.529" stop-color="#fb7353"/><stop offset="0.547" stop-color="#fc8e6e"/><stop offset="0.565" stop-color="#fca98d"/><stop offset="0.582" stop-color="#fcb69c"/><stop offset="0.600" stop-color="#fcbca2"/><stop offset="0.618" stop-color="#fcbfa7"/><stop offset="0.635" stop-color="#fcc3ac"/><stop offset="0.653" stop-color="#fdc7b1"/><stop offset="0.671" stop-color="#fdcbb6"/><stop offset="0.688" stop-color="#fdceba"/><stop offset="0.706" stop-color="#fdd1be"/><stop offset="0.724" stop-color="#fdd3c1"/><stop offset="0.741" stop-color="#fdd5c4"/><stop offset="0.759" stop-color="#fed7c6"/><stop offset="0.776" stop-color="#fed9c9"/><stop offset="0.794" stop-color="#fedbcc"/><stop offset="0.812" stop-color="#feddce"/><stop offset="0.829" stop-color="#fedfd0"/><stop offset="0.847" stop-color="#fee0d2"/><stop offset="0.865" stop-color="#fee1d3"/><stop offset="0.882" stop-color="#fee1d4"/><stop offset="0.900" stop-color="#fee2d5"/><stop offset="0.918" stop-color="#fee3d6"/><stop offset="0.935" stop-color="#fee3d7"/><stop offset="0.953" stop-color="#fee4d8"/><stop offset="0.971" stop-color="#fee5d9"/><stop offset="0.988" stop-color="#fee5da"/></linearGradient><linearGradient id="gTL28" gradientUnits="userSpaceOnUse" x1="0" y1="8.1" x2="0" y2="216.8"><stop offset="0.000" stop-color="#ffffff"/><stop offset="0.194" stop-color="#ffffff"/><stop offset="0.212" stop-color="#fff4ef"/><stop offset="0.229" stop-color="#fff1ea"/><stop offset="0.247" stop-color="#ffece3"/><stop offset="0.265" stop-color="#fee8dd"/><stop offset="0.282" stop-color="#fee4d8"/><stop offset="0.300" stop-color="#fee0d3"/><stop offset="0.318" stop-color="#fedaca"/><stop offset="0.335" stop-color="#fdcdb9"/><stop offset="0.353" stop-color="#fcb59a"/><stop offset="0.371" stop-color="#fc9171"/><stop offset="0.388" stop-color="#fb7050"/><stop offset="0.406" stop-color="#f6563d"/><stop offset="0.424" stop-color="#f34b36"/><stop offset="0.441" stop-color="#f14432"/><stop offset="0.459" stop-color="#f03e2e"/><stop offset="0.476" stop-color="#ef3c2d"/><stop offset="0.494" stop-color="#f14432"/><stop offset="0.512" stop-color="#f6553c"/><stop offset="0.529" stop-color="#fb6949"/><stop offset="0.547" stop-color="#fb7b5b"/><stop offset="0.565" stop-color="#fc8c6c"/><stop offset="0.582" stop-color="#fc9c7e"/><stop offset="0.600" stop-color="#fcaa8e"/><stop offset="0.618" stop-color="#fcb499"/><stop offset="0.635" stop-color="#fcba9f"/><stop offset="0.653" stop-color="#fcbea5"/><stop offset="0.671" stop-color="#fcc3ab"/><stop offset="0.688" stop-color="#fdc7b1"/><stop offset="0.706" stop-color="#fdcbb7"/><stop offset="0.724" stop-color="#fdcfbc"/><stop offset="0.741" stop-color="#fdd2c0"/><stop offset="0.759" stop-color="#fdd5c4"/><stop offset="0.776" stop-color="#fed8c7"/><stop offset="0.794" stop-color="#fedaca"/><stop offset="0.812" stop-color="#feddce"/><stop offset="0.829" stop-color="#fedfd0"/><stop offset="0.847" stop-color="#fee0d2"/><stop offset="0.865" stop-color="#fee1d3"/><stop offset="0.882" stop-color="#fee1d4"/><stop offset="0.900" stop-color="#fee2d5"/><stop offset="0.918" stop-color="#fee3d6"/><stop offset="0.935" stop-color="#fee3d7"/><stop offset="0.953" stop-color="#fee4d8"/><stop offset="0.971" stop-color="#fee5d9"/><stop offset="0.988" stop-color="#fee5da"/></linearGradient><linearGradient id="gTL29" gradientUnits="userSpaceOnUse" x1="0" y1="8.1" x2="0" y2="216.8"><stop offset="0.000" stop-color="#ffffff"/><stop offset="0.212" stop-color="#ffffff"/><stop offset="0.229" stop-color="#fff3ed"/><stop offset="0.247" stop-color="#ffeee6"/><stop offset="0.265" stop-color="#feeae0"/><stop offset="0.282" stop-color="#fee6da"/><stop offset="0.300" stop-color="#fee2d5"/><stop offset="0.318" stop-color="#feddce"/><stop offset="0.335" stop-color="#fdd4c3"/><stop offset="0.353" stop-color="#fcc2aa"/><stop offset="0.371" stop-color="#fca285"/><stop offset="0.388" stop-color="#fc7e5e"/><stop offset="0.406" stop-color="#f86044"/><stop offset="0.424" stop-color="#f44e38"/><stop offset="0.441" stop-color="#f24633"/><stop offset="0.459" stop-color="#f03f2f"/><stop offset="0.476" stop-color="#ef3c2d"/><stop offset="0.494" stop-color="#f14231"/><stop offset="0.512" stop-color="#f5523b"/><stop offset="0.529" stop-color="#fa6547"/><stop offset="0.547" stop-color="#fb7858"/><stop offset="0.565" stop-color="#fc8c6c"/><stop offset="0.582" stop-color="#fc9f81"/><stop offset="0.600" stop-color="#fcae92"/><stop offset="0.618" stop-color="#fcb79c"/><stop offset="0.635" stop-color="#fcbda3"/><stop offset="0.653" stop-color="#fcc1a9"/><stop offset="0.671" stop-color="#fdc6b0"/><stop offset="0.688" stop-color="#fdcbb6"/><stop offset="0.706" stop-color="#fdcfbb"/><stop offset="0.724" stop-color="#fdd2bf"/><stop offset="0.741" stop-color="#fdd4c2"/><stop offset="0.759" stop-color="#fdd6c5"/><stop offset="0.776" stop-color="#fed9c8"/><stop offset="0.794" stop-color="#fedbcb"/><stop offset="0.812" stop-color="#feddce"/><stop offset="0.829" stop-color="#fedfd0"/><stop offset="0.847" stop-color="#fee0d2"/><stop offset="0.865" stop-color="#fee1d3"/><stop offset="0.882" stop-color="#fee1d4"/><stop offset="0.900" stop-color="#fee2d5"/><stop offset="0.918" stop-color="#fee3d6"/><stop offset="0.935" stop-color="#fee3d7"/><stop offset="0.953" stop-color="#fee4d8"/><stop offset="0.971" stop-color="#fee5d9"/><stop offset="0.988" stop-color="#fee5da"/></linearGradient><linearGradient id="gTL30" gradientUnits="userSpaceOnUse" x1="0" y1="8.1" x2="0" y2="216.8"><stop offset="0.000" stop-color="#ffffff"/><stop offset="0.212" stop-color="#ffffff"/><stop offset="0.229" stop-color="#fff4ef"/><stop offset="0.247" stop-color="#fff1ea"/><stop offset="0.265" stop-color="#ffece3"/><stop offset="0.282" stop-color="#fee8dd"/><stop offset="0.300" stop-color="#fee4d7"/><stop offset="0.318" stop-color="#fee0d2"/><stop offset="0.335" stop-color="#fed9c8"/><stop offset="0.353" stop-color="#fdcbb7"/><stop offset="0.371" stop-color="#fcb196"/><stop offset="0.388" stop-color="#fc8e6e"/><stop offset="0.406" stop-color="#fb6c4c"/><stop offset="0.424" stop-color="#f5543c"/><stop offset="0.441" stop-color="#f24834"/><stop offset="0.459" stop-color="#f04030"/><stop offset="0.476" stop-color="#ef3d2d"/><stop offset="0.494" stop-color="#f14331"/><stop offset="0.512" stop-color="#f5523b"/><stop offset="0.529" stop-color="#fa6547"/><stop offset="0.547" stop-color="#fb7858"/><stop offset="0.565" stop-color="#fc8868"/><stop offset="0.582" stop-color="#fc9575"/><stop offset="0.600" stop-color="#fca082"/><stop offset="0.618" stop-color="#fcab8e"/><stop offset="0.635" stop-color="#fcb398"/><stop offset="0.653" stop-color="#fcb89e"/><stop offset="0.671" stop-color="#fcbda3"/><stop offset="0.688" stop-color="#fcc1a9"/><stop offset="0.706" stop-color="#fdc5ae"/><stop offset="0.724" stop-color="#fdc9b4"/><stop offset="0.741" stop-color="#fdcdb9"/><stop offset="0.759" stop-color="#fdd1bf"/><stop offset="0.776" stop-color="#fdd5c3"/><stop offset="0.794" stop-color="#fed9c8"/><stop offset="0.812" stop-color="#fedccd"/><stop offset="0.829" stop-color="#feded0"/><stop offset="0.847" stop-color="#fee0d2"/><stop offset="0.865" stop-color="#fee1d3"/><stop offset="0.882" stop-color="#fee1d4"/><stop offset="0.900" stop-color="#fee2d5"/><stop offset="0.918" stop-color="#fee3d6"/><stop offset="0.935" stop-color="#fee3d7"/><stop offset="0.953" stop-color="#fee4d8"/><stop offset="0.971" stop-color="#fee5d9"/><stop offset="0.988" stop-color="#fee5da"/></linearGradient><linearGradient id="gTL31" gradientUnits="userSpaceOnUse" x1="0" y1="8.1" x2="0" y2="216.8"><stop offset="0.000" stop-color="#ffffff"/><stop offset="0.212" stop-color="#ffffff"/><stop offset="0.229" stop-color="#fff3ed"/><stop offset="0.247" stop-color="#ffeee6"/><stop offset="0.265" stop-color="#feeae0"/><stop offset="0.282" stop-color="#fee6da"/><stop offset="0.300" stop-color="#fee2d5"/><stop offset="0.318" stop-color="#feddce"/><stop offset="0.335" stop-color="#fdd4c3"/><stop offset="0.353" stop-color="#fcc2aa"/><stop offset="0.371" stop-color="#fca285"/><stop offset="0.388" stop-color="#fc7e5e"/><stop offset="0.406" stop-color="#f86044"/><stop offset="0.424" stop-color="#f44e38"/><stop offset="0.441" stop-color="#f24633"/><stop offset="0.459" stop-color="#f03f2f"/><stop offset="0.476" stop-color="#ef3c2d"/><stop offset="0.494" stop-color="#f14231"/><stop offset="0.512" stop-color="#f5523b"/><stop offset="0.529" stop-color="#fa6547"/><stop offset="0.547" stop-color="#fb7858"/><stop offset="0.565" stop-color="#fc8a6a"/><stop offset="0.582" stop-color="#fc9b7c"/><stop offset="0.600" stop-color="#fca98d"/><stop offset="0.618" stop-color="#fcb397"/><stop offset="0.635" stop-color="#fcb79d"/><stop offset="0.653" stop-color="#fcbba1"/><stop offset="0.671" stop-color="#fcbfa6"/><stop offset="0.688" stop-color="#fcc2aa"/><stop offset="0.706" stop-color="#fdc5af"/><stop offset="0.724" stop-color="#fdc9b3"/><stop offset="0.741" stop-color="#fdccb8"/><stop offset="0.759" stop-color="#fdd0bd"/><stop offset="0.776" stop-color="#fdd4c2"/><stop offset="0.794" stop-color="#fed8c7"/><stop offset="0.812" stop-color="#fedccc"/><stop offset="0.829" stop-color="#feded0"/><stop offset="0.847" stop-color="#fee0d2"/><stop offset="0.865" stop-color="#fee1d3"/><stop offset="0.882" stop-color="#fee1d4"/><stop offset="0.900" stop-color="#fee2d5"/><stop offset="0.918" stop-color="#fee3d6"/><stop offset="0.935" stop-color="#fee3d7"/><stop offset="0.953" stop-color="#fee4d8"/><stop offset="0.971" stop-color="#fee5d9"/><stop offset="0.988" stop-color="#fee5da"/></linearGradient><linearGradient id="gTL32" gradientUnits="userSpaceOnUse" x1="0" y1="8.1" x2="0" y2="216.8"><stop offset="0.000" stop-color="#ffffff"/><stop offset="0.194" stop-color="#ffffff"/><stop offset="0.212" stop-color="#fff4ee"/><stop offset="0.229" stop-color="#fff0e8"/><stop offset="0.247" stop-color="#ffebe1"/><stop offset="0.265" stop-color="#fee7dc"/><stop offset="0.282" stop-color="#fee3d7"/><stop offset="0.300" stop-color="#fedfd1"/><stop offset="0.318" stop-color="#fed7c6"/><stop offset="0.335" stop-color="#fdc8b2"/><stop offset="0.353" stop-color="#fcac90"/><stop offset="0.371" stop-color="#fc8868"/><stop offset="0.388" stop-color="#fa6849"/><stop offset="0.406" stop-color="#f5523b"/><stop offset="0.424" stop-color="#f24835"/><stop offset="0.441" stop-color="#f14230"/><stop offset="0.459" stop-color="#ef3d2d"/><stop offset="0.476" stop-color="#f03e2e"/><stop offset="0.494" stop-color="#f34a35"/><stop offset="0.512" stop-color="#f75c41"/><stop offset="0.529" stop-color="#fb7050"/><stop offset="0.547" stop-color="#fc8464"/><stop offset="0.565" stop-color="#fc9c7d"/><stop offset="0.582" stop-color="#fcae92"/><stop offset="0.600" stop-color="#fcb79d"/><stop offset="0.618" stop-color="#fcbda3"/><stop offset="0.635" stop-color="#fcc1a9"/><stop offset="0.653" stop-color="#fdc5af"/><stop offset="0.671" stop-color="#fdcab5"/><stop offset="0.688" stop-color="#fdceba"/><stop offset="0.706" stop-color="#fdd1be"/><stop offset="0.724" stop-color="#fdd3c1"/><stop offset="0.741" stop-color="#fdd5c4"/><stop offset="0.759" stop-color="#fed7c6"/><stop offset="0.776" stop-color="#fed9c9"/><stop offset="0.794" stop-color="#fedbcc"/><stop offset="0.812" stop-color="#feddce"/><stop offset="0.829" stop-color="#fedfd0"/><stop offset="0.847" stop-color="#fee0d2"/><stop offset="0.865" stop-color="#fee1d3"/><stop offset="0.882" stop-color="#fee1d4"/><stop offset="0.900" stop-color="#fee2d5"/><stop offset="0.918" stop-color="#fee3d6"/><stop offset="0.935" stop-color="#fee3d7"/><stop offset="0.953" stop-color="#fee4d8"/><stop offset="0.971" stop-color="#fee5d9"/><stop offset="0.988" stop-color="#fee5da"/></linearGradient><linearGradient id="gTL33" gradientUnits="userSpaceOnUse" x1="0" y1="8.1" x2="0" y2="216.8"><stop offset="0.000" stop-color="#ffffff"/><stop offset="0.194" stop-color="#ffffff"/><stop offset="0.212" stop-color="#fff3ec"/><stop offset="0.229" stop-color="#ffeee6"/><stop offset="0.247" stop-color="#fee9df"/><stop offset="0.265" stop-color="#fee5da"/><stop offset="0.282" stop-color="#fee2d4"/><stop offset="0.300" stop-color="#fedccd"/><stop offset="0.318" stop-color="#fdd2bf"/><stop offset="0.335" stop-color="#fcbea5"/><stop offset="0.353" stop-color="#fc9c7e"/><stop offset="0.371" stop-color="#fb7959"/><stop offset="0.388" stop-color="#f85c41"/><stop offset="0.406" stop-color="#f44d38"/><stop offset="0.424" stop-color="#f24633"/><stop offset="0.441" stop-color="#f0402f"/><stop offset="0.459" stop-color="#ef3c2d"/><stop offset="0.476" stop-color="#f0402f"/><stop offset="0.494" stop-color="#f44e38"/><stop offset="0.512" stop-color="#f96044"/><stop offset="0.529" stop-color="#fb7656"/><stop offset="0.547" stop-color="#fc9474"/><stop offset="0.565" stop-color="#fcb094"/><stop offset="0.582" stop-color="#fcbda3"/><stop offset="0.600" stop-color="#fcc3ac"/><stop offset="0.618" stop-color="#fdc9b4"/><stop offset="0.635" stop-color="#fdceba"/><stop offset="0.653" stop-color="#fdd1be"/><stop offset="0.671" stop-color="#fdd2c0"/><stop offset="0.688" stop-color="#fdd4c2"/><stop offset="0.706" stop-color="#fdd5c4"/><stop offset="0.724" stop-color="#fdd7c6"/><stop offset="0.741" stop-color="#fed8c7"/><stop offset="0.759" stop-color="#fed9c9"/><stop offset="0.776" stop-color="#fedbcb"/><stop offset="0.794" stop-color="#fedccd"/><stop offset="0.812" stop-color="#fedecf"/><stop offset="0.829" stop-color="#fedfd1"/><stop offset="0.847" stop-color="#fee0d2"/><stop offset="0.865" stop-color="#fee1d3"/><stop offset="0.882" stop-color="#fee1d4"/><stop offset="0.900" stop-color="#fee2d5"/><stop offset="0.918" stop-color="#fee3d6"/><stop offset="0.935" stop-color="#fee3d7"/><stop offset="0.953" stop-color="#fee4d8"/><stop offset="0.971" stop-color="#fee5d9"/><stop offset="0.988" stop-color="#fee5da"/></linearGradient><linearGradient id="gTL34" gradientUnits="userSpaceOnUse" x1="0" y1="8.1" x2="0" y2="216.8"><stop offset="0.000" stop-color="#ffffff"/><stop offset="0.194" stop-color="#ffffff"/><stop offset="0.212" stop-color="#fff4ef"/><stop offset="0.229" stop-color="#fff1ea"/><stop offset="0.247" stop-color="#ffece3"/><stop offset="0.265" stop-color="#fee8dd"/><stop offset="0.282" stop-color="#fee4d8"/><stop offset="0.300" stop-color="#fee0d3"/><stop offset="0.318" stop-color="#fedaca"/><stop offset="0.335" stop-color="#fdcdb9"/><stop offset="0.353" stop-color="#fcb59a"/><stop offset="0.371" stop-color="#fc9171"/><stop offset="0.388" stop-color="#fb6f4f"/><stop offset="0.406" stop-color="#f6553d"/><stop offset="0.424" stop-color="#f24834"/><stop offset="0.441" stop-color="#f0402f"/><stop offset="0.459" stop-color="#f03d2d"/><stop offset="0.476" stop-color="#f14532"/><stop offset="0.494" stop-color="#f6553c"/><stop offset="0.512" stop-color="#fb6949"/><stop offset="0.529" stop-color="#fb7c5c"/><stop offset="0.547" stop-color="#fc9070"/><stop offset="0.565" stop-color="#fca487"/><stop offset="0.582" stop-color="#fcb296"/><stop offset="0.600" stop-color="#fcb89e"/><stop offset="0.618" stop-color="#fcbda4"/><stop offset="0.635" stop-color="#fcc1a9"/><stop offset="0.653" stop-color="#fdc5af"/><stop offset="0.671" stop-color="#fdcab4"/><stop offset="0.688" stop-color="#fdcdb9"/><stop offset="0.706" stop-color="#fdd1be"/><stop offset="0.724" stop-color="#fdd3c1"/><stop offset="0.741" stop-color="#fdd5c3"/><stop offset="0.759" stop-color="#fed7c6"/><stop offset="0.776" stop-color="#fed9c9"/><stop offset="0.794" stop-color="#fedbcb"/><stop offset="0.812" stop-color="#feddce"/><stop offset="0.829" stop-color="#fedfd0"/><stop offset="0.847" stop-color="#fee0d2"/><stop offset="0.865" stop-color="#fee1d3"/><stop offset="0.882" stop-color="#fee1d4"/><stop offset="0.900" stop-color="#fee2d5"/><stop offset="0.918" stop-color="#fee3d6"/><stop offset="0.935" stop-color="#fee3d7"/><stop offset="0.953" stop-color="#fee4d8"/><stop offset="0.971" stop-color="#fee5d9"/><stop offset="0.988" stop-color="#fee5da"/></linearGradient><linearGradient id="gTL35" gradientUnits="userSpaceOnUse" x1="0" y1="8.1" x2="0" y2="216.8"><stop offset="0.000" stop-color="#ffffff"/><stop offset="0.194" stop-color="#ffffff"/><stop offset="0.212" stop-color="#fff4ee"/><stop offset="0.229" stop-color="#ffefe8"/><stop offset="0.247" stop-color="#feeae1"/><stop offset="0.265" stop-color="#fee6db"/><stop offset="0.282" stop-color="#fee2d6"/><stop offset="0.300" stop-color="#fedecf"/><stop offset="0.318" stop-color="#fdd5c3"/><stop offset="0.335" stop-color="#fcc4ac"/><stop offset="0.353" stop-color="#fca587"/><stop offset="0.371" stop-color="#fc8161"/><stop offset="0.388" stop-color="#f96245"/><stop offset="0.406" stop-color="#f44f39"/><stop offset="0.424" stop-color="#f24633"/><stop offset="0.441" stop-color="#f03f2f"/><stop offset="0.459" stop-color="#ef3d2d"/><stop offset="0.476" stop-color="#f14532"/><stop offset="0.494" stop-color="#f6553c"/><stop offset="0.512" stop-color="#fb6949"/><stop offset="0.529" stop-color="#fb7e5e"/><stop offset="0.547" stop-color="#fc9879"/><stop offset="0.565" stop-color="#fcaf93"/><stop offset="0.582" stop-color="#fcb99f"/><stop offset="0.600" stop-color="#fcbfa6"/><stop offset="0.618" stop-color="#fcc4ad"/><stop offset="0.635" stop-color="#fdc9b4"/><stop offset="0.653" stop-color="#fdceba"/><stop offset="0.671" stop-color="#fdd1be"/><stop offset="0.688" stop-color="#fdd2c0"/><stop offset="0.706" stop-color="#fdd4c2"/><stop offset="0.724" stop-color="#fdd6c4"/><stop offset="0.741" stop-color="#fed7c6"/><stop offset="0.759" stop-color="#fed9c8"/><stop offset="0.776" stop-color="#fedaca"/><stop offset="0.794" stop-color="#fedccd"/><stop offset="0.812" stop-color="#feddcf"/><stop offset="0.829" stop-color="#fedfd0"/><stop offset="0.847" stop-color="#fee0d2"/><stop offset="0.865" stop-color="#fee1d3"/><stop offset="0.882" stop-color="#fee1d4"/><stop offset="0.900" stop-color="#fee2d5"/><stop offset="0.918" stop-color="#fee3d6"/><stop offset="0.935" stop-color="#fee3d7"/><stop offset="0.953" stop-color="#fee4d8"/><stop offset="0.971" stop-color="#fee5d9"/><stop offset="0.988" stop-color="#fee5da"/></linearGradient><linearGradient id="gTL36" gradientUnits="userSpaceOnUse" x1="0" y1="8.1" x2="0" y2="216.8"><stop offset="0.000" stop-color="#ffffff"/><stop offset="0.194" stop-color="#ffffff"/><stop offset="0.212" stop-color="#fff4ee"/><stop offset="0.229" stop-color="#ffefe8"/><stop offset="0.247" stop-color="#ffebe1"/><stop offset="0.265" stop-color="#fee7db"/><stop offset="0.282" stop-color="#fee3d6"/><stop offset="0.300" stop-color="#fedfd0"/><stop offset="0.318" stop-color="#fdd6c5"/><stop offset="0.335" stop-color="#fdc7b0"/><stop offset="0.353" stop-color="#fca98d"/><stop offset="0.371" stop-color="#fc8565"/><stop offset="0.388" stop-color="#fa6647"/><stop offset="0.406" stop-color="#f5513a"/><stop offset="0.424" stop-color="#f24734"/><stop offset="0.441" stop-color="#f04130"/><stop offset="0.459" stop-color="#ef3c2d"/><stop offset="0.476" stop-color="#f0402f"/><stop offset="0.494" stop-color="#f44e38"/><stop offset="0.512" stop-color="#f96044"/><stop offset="0.529" stop-color="#fb7454"/><stop offset="0.547" stop-color="#fc8868"/><stop offset="0.565" stop-color="#fc9c7d"/><stop offset="0.582" stop-color="#fcac90"/><stop offset="0.600" stop-color="#fcb59b"/><stop offset="0.618" stop-color="#fcbaa0"/><stop offset="0.635" stop-color="#fcbfa6"/><stop offset="0.653" stop-color="#fcc3ab"/><stop offset="0.671" stop-color="#fdc7b0"/><stop offset="0.688" stop-color="#fdcbb6"/><stop offset="0.706" stop-color="#fdcebb"/><stop offset="0.724" stop-color="#fdd1be"/><stop offset="0.741" stop-color="#fdd4c2"/><stop offset="0.759" stop-color="#fdd6c5"/><stop offset="0.776" stop-color="#fed8c8"/><stop offset="0.794" stop-color="#fedbcb"/><stop offset="0.812" stop-color="#feddce"/><stop offset="0.829" stop-color="#fedfd0"/><stop offset="0.847" stop-color="#fee0d2"/><stop offset="0.865" stop-color="#fee1d3"/><stop offset="0.882" stop-color="#fee1d4"/><stop offset="0.900" stop-color="#fee2d5"/><stop offset="0.918" stop-color="#fee3d6"/><stop offset="0.935" stop-color="#fee3d7"/><stop offset="0.953" stop-color="#fee4d8"/><stop offset="0.971" stop-color="#fee5d9"/><stop offset="0.988" stop-color="#fee5da"/></linearGradient><linearGradient id="gTL37" gradientUnits="userSpaceOnUse" x1="0" y1="8.1" x2="0" y2="216.8"><stop offset="0.000" stop-color="#ffffff"/><stop offset="0.194" stop-color="#ffffff"/><stop offset="0.212" stop-color="#fff4ef"/><stop offset="0.229" stop-color="#fff1ea"/><stop offset="0.247" stop-color="#ffece3"/><stop offset="0.265" stop-color="#fee7dd"/><stop offset="0.282" stop-color="#fee4d7"/><stop offset="0.300" stop-color="#fee0d2"/><stop offset="0.318" stop-color="#fed9c8"/><stop offset="0.335" stop-color="#fdcbb6"/><stop offset="0.353" stop-color="#fcb095"/><stop offset="0.371" stop-color="#fc8c6c"/><stop offset="0.388" stop-color="#fb6b4b"/><stop offset="0.406" stop-color="#f5533b"/><stop offset="0.424" stop-color="#f24734"/><stop offset="0.441" stop-color="#f0402f"/><stop offset="0.459" stop-color="#ef3d2d"/><stop offset="0.476" stop-color="#f14532"/><stop offset="0.494" stop-color="#f6553c"/><stop offset="0.512" stop-color="#fb6949"/><stop offset="0.529" stop-color="#fb7b5b"/><stop offset="0.547" stop-color="#fc8b6b"/><stop offset="0.565" stop-color="#fc9a7b"/><stop offset="0.582" stop-color="#fca88b"/><stop offset="0.600" stop-color="#fcb196"/><stop offset="0.618" stop-color="#fcb79d"/><stop offset="0.635" stop-color="#fcbca2"/><stop offset="0.653" stop-color="#fcc0a7"/><stop offset="0.671" stop-color="#fcc4ad"/><stop offset="0.688" stop-color="#fdc8b2"/><stop offset="0.706" stop-color="#fdccb7"/><stop offset="0.724" stop-color="#fdcfbc"/><stop offset="0.741" stop-color="#fdd2c0"/><stop offset="0.759" stop-color="#fdd5c4"/><stop offset="0.776" stop-color="#fed8c7"/><stop offset="0.794" stop-color="#fedaca"/><stop offset="0.812" stop-color="#feddce"/><stop offset="0.829" stop-color="#fedfd0"/><stop offset="0.847" stop-color="#fee0d2"/><stop offset="0.865" stop-color="#fee1d3"/><stop offset="0.882" stop-color="#fee1d4"/><stop offset="0.900" stop-color="#fee2d5"/><stop offset="0.918" stop-color="#fee3d6"/><stop offset="0.935" stop-color="#fee3d7"/><stop offset="0.953" stop-color="#fee4d8"/><stop offset="0.971" stop-color="#fee5d9"/><stop offset="0.988" stop-color="#fee5da"/></linearGradient><linearGradient id="gTL38" gradientUnits="userSpaceOnUse" x1="0" y1="8.1" x2="0" y2="216.8"><stop offset="0.000" stop-color="#ffffff"/><stop offset="0.212" stop-color="#ffffff"/><stop offset="0.229" stop-color="#fff3ed"/><stop offset="0.247" stop-color="#ffeee6"/><stop offset="0.265" stop-color="#feeae0"/><stop offset="0.282" stop-color="#fee6da"/><stop offset="0.300" stop-color="#fee2d5"/><stop offset="0.318" stop-color="#feddce"/><stop offset="0.335" stop-color="#fdd4c3"/><stop offset="0.353" stop-color="#fcc2aa"/><stop offset="0.371" stop-color="#fca285"/><stop offset="0.388" stop-color="#fc7e5e"/><stop offset="0.406" stop-color="#f86043"/><stop offset="0.424" stop-color="#f44d37"/><stop offset="0.441" stop-color="#f14431"/><stop offset="0.459" stop-color="#f03d2e"/><stop offset="0.476" stop-color="#f0402f"/><stop offset="0.494" stop-color="#f34d37"/><stop offset="0.512" stop-color="#f85f43"/><stop offset="0.529" stop-color="#fb7353"/><stop offset="0.547" stop-color="#fc8767"/><stop offset="0.565" stop-color="#fc9b7d"/><stop offset="0.582" stop-color="#fcac90"/><stop offset="0.600" stop-color="#fcb59b"/><stop offset="0.618" stop-color="#fcbaa0"/><stop offset="0.635" stop-color="#fcbfa6"/><stop offset="0.653" stop-color="#fcc3ab"/><stop offset="0.671" stop-color="#fdc7b0"/><stop offset="0.688" stop-color="#fdcbb6"/><stop offset="0.706" stop-color="#fdcebb"/><stop offset="0.724" stop-color="#fdd1be"/><stop offset="0.741" stop-color="#fdd4c2"/><stop offset="0.759" stop-color="#fdd6c5"/><stop offset="0.776" stop-color="#fed8c8"/><stop offset="0.794" stop-color="#fedbcb"/><stop offset="0.812" stop-color="#feddce"/><stop offset="0.829" stop-color="#fedfd0"/><stop offset="0.847" stop-color="#fee0d2"/><stop offset="0.865" stop-color="#fee1d3"/><stop offset="0.882" stop-color="#fee1d4"/><stop offset="0.900" stop-color="#fee2d5"/><stop offset="0.918" stop-color="#fee3d6"/><stop offset="0.935" stop-color="#fee3d7"/><stop offset="0.953" stop-color="#fee4d8"/><stop offset="0.971" stop-color="#fee5d9"/><stop offset="0.988" stop-color="#fee5da"/></linearGradient></defs><rect x="34.59" y="8.1" width="6.98" height="208.8" fill="url(#gTL0)"/><rect x="41.22" y="8.1" width="6.98" height="208.8" fill="url(#gTL1)"/><rect x="47.84" y="8.1" width="6.98" height="208.8" fill="url(#gTL2)"/><rect x="54.48" y="8.1" width="6.98" height="208.8" fill="url(#gTL3)"/><rect x="61.11" y="8.1" width="6.98" height="208.8" fill="url(#gTL4)"/><rect x="74.37" y="8.1" width="6.98" height="208.8" fill="url(#gTL6)"/><rect x="81.00" y="8.1" width="6.98" height="208.8" fill="url(#gTL7)"/><rect x="87.62" y="8.1" width="6.98" height="208.8" fill="url(#gTL8)"/><rect x="94.25" y="8.1" width="6.98" height="208.8" fill="url(#gTL9)"/><rect x="100.88" y="8.1" width="6.98" height="208.8" fill="url(#gTL10)"/><rect x="107.51" y="8.1" width="6.98" height="208.8" fill="url(#gTL11)"/><rect x="114.15" y="8.1" width="6.98" height="208.8" fill="url(#gTL12)"/><rect x="120.78" y="8.1" width="6.98" height="208.8" fill="url(#gTL13)"/><rect x="127.41" y="8.1" width="6.98" height="208.8" fill="url(#gTL14)"/><rect x="134.03" y="8.1" width="6.98" height="208.8" fill="url(#gTL15)"/><rect x="140.66" y="8.1" width="6.98" height="208.8" fill="url(#gTL16)"/><rect x="147.29" y="8.1" width="6.98" height="208.8" fill="url(#gTL17)"/><rect x="153.93" y="8.1" width="6.98" height="208.8" fill="url(#gTL18)"/><rect x="160.56" y="8.1" width="6.98" height="208.8" fill="url(#gTL19)"/><rect x="167.19" y="8.1" width="6.98" height="208.8" fill="url(#gTL20)"/><rect x="173.81" y="8.1" width="6.98" height="208.8" fill="url(#gTL21)"/><rect x="180.44" y="8.1" width="6.98" height="208.8" fill="url(#gTL22)"/><rect x="187.08" y="8.1" width="6.98" height="208.8" fill="url(#gTL23)"/><rect x="193.71" y="8.1" width="6.98" height="208.8" fill="url(#gTL24)"/><rect x="200.34" y="8.1" width="6.98" height="208.8" fill="url(#gTL25)"/><rect x="206.97" y="8.1" width="6.98" height="208.8" fill="url(#gTL26)"/><rect x="213.59" y="8.1" width="6.98" height="208.8" fill="url(#gTL27)"/><rect x="220.22" y="8.1" width="6.98" height="208.8" fill="url(#gTL28)"/><rect x="226.86" y="8.1" width="6.98" height="208.8" fill="url(#gTL29)"/><rect x="233.49" y="8.1" width="6.98" height="208.8" fill="url(#gTL30)"/><rect x="240.12" y="8.1" width="6.98" height="208.8" fill="url(#gTL31)"/><rect x="246.75" y="8.1" width="6.98" height="208.8" fill="url(#gTL32)"/><rect x="253.38" y="8.1" width="6.98" height="208.8" fill="url(#gTL33)"/><rect x="260.00" y="8.1" width="6.98" height="208.8" fill="url(#gTL34)"/><rect x="266.63" y="8.1" width="6.98" height="208.8" fill="url(#gTL35)"/><rect x="273.26" y="8.1" width="6.98" height="208.8" fill="url(#gTL36)"/><rect x="279.89" y="8.1" width="6.98" height="208.8" fill="url(#gTL37)"/><rect x="286.52" y="8.1" width="6.98" height="208.8" fill="url(#gTL38)"/></g></g>
<g clip-path="url(#clipTR)"><g filter="url(#hblur)"><defs><linearGradient id="gTR0" gradientUnits="userSpaceOnUse" x1="0" y1="8.3" x2="0" y2="217.0"><stop offset="0.000" stop-color="#ffffff"/><stop offset="0.018" stop-color="#ffffff"/><stop offset="0.035" stop-color="#fff1ea"/><stop offset="0.053" stop-color="#fee9df"/><stop offset="0.071" stop-color="#fee2d5"/><stop offset="0.088" stop-color="#fedaca"/><stop offset="0.106" stop-color="#fdd1bd"/><stop offset="0.124" stop-color="#fdc7b1"/><stop offset="0.141" stop-color="#fcbda4"/><stop offset="0.159" stop-color="#fcb196"/><stop offset="0.176" stop-color="#fca284"/><stop offset="0.194" stop-color="#fc8f6f"/><stop offset="0.212" stop-color="#fb7b5b"/><stop offset="0.229" stop-color="#fa6547"/><stop offset="0.247" stop-color="#f6563d"/><stop offset="0.265" stop-color="#f44f39"/><stop offset="0.282" stop-color="#f34a35"/><stop offset="0.300" stop-color="#f24532"/><stop offset="0.318" stop-color="#f14130"/><stop offset="0.335" stop-color="#f14231"/><stop offset="0.353" stop-color="#f24935"/><stop offset="0.371" stop-color="#f5533b"/><stop offset="0.388" stop-color="#f96245"/><stop offset="0.406" stop-color="#fb7555"/><stop offset="0.424" stop-color="#fc8f6f"/><stop offset="0.441" stop-color="#fca689"/><stop offset="0.459" stop-color="#fcb094"/><stop offset="0.476" stop-color="#fcb398"/><stop offset="0.494" stop-color="#fcb69c"/><stop offset="0.512" stop-color="#fcba9f"/><stop offset="0.529" stop-color="#fcbca3"/><stop offset="0.547" stop-color="#fcbfa7"/><stop offset="0.565" stop-color="#fcc2aa"/><stop offset="0.582" stop-color="#fdc4ad"/><stop offset="0.600" stop-color="#fdc6b0"/><stop offset="0.618" stop-color="#fdc8b3"/><stop offset="0.635" stop-color="#fdcab5"/><stop offset="0.653" stop-color="#fdccb8"/><stop offset="0.671" stop-color="#fdceba"/><stop offset="0.688" stop-color="#fdd0bd"/><stop offset="0.706" stop-color="#fdd2bf"/><stop offset="0.724" stop-color="#fdd4c2"/><stop offset="0.741" stop-color="#fdd6c4"/><stop offset="0.759" stop-color="#fed8c7"/><stop offset="0.776" stop-color="#fedaca"/><stop offset="0.794" stop-color="#fedbcc"/><stop offset="0.812" stop-color="#feddce"/><stop offset="0.829" stop-color="#fedecf"/><stop offset="0.847" stop-color="#fedfd1"/><stop offset="0.865" stop-color="#fee0d3"/><stop offset="0.882" stop-color="#fee1d4"/><stop offset="0.900" stop-color="#fee2d5"/><stop offset="0.918" stop-color="#fee3d6"/><stop offset="0.935" stop-color="#fee3d7"/><stop offset="0.953" stop-color="#fee4d8"/><stop offset="0.971" stop-color="#fee5d9"/><stop offset="0.988" stop-color="#fee5da"/></linearGradient><linearGradient id="gTR1" gradientUnits="userSpaceOnUse" x1="0" y1="8.3" x2="0" y2="217.0"><stop offset="0.000" stop-color="#ffffff"/><stop offset="0.018" stop-color="#ffffff"/><stop offset="0.035" stop-color="#fff3ed"/><stop offset="0.053" stop-color="#ffece4"/><stop offset="0.071" stop-color="#fee5d9"/><stop offset="0.088" stop-color="#fee0d2"/><stop offset="0.106" stop-color="#fed7c6"/><stop offset="0.124" stop-color="#fdcebb"/><stop offset="0.141" stop-color="#fdc6af"/><stop offset="0.159" stop-color="#fcbda4"/><stop offset="0.176" stop-color="#fcb296"/><stop offset="0.194" stop-color="#fca385"/><stop offset="0.212" stop-color="#fc9171"/><stop offset="0.229" stop-color="#fb7c5c"/><stop offset="0.247" stop-color="#fa6748"/><stop offset="0.265" stop-color="#f6553d"/><stop offset="0.282" stop-color="#f44d37"/><stop offset="0.300" stop-color="#f24734"/><stop offset="0.318" stop-color="#f14231"/><stop offset="0.335" stop-color="#f14231"/><stop offset="0.353" stop-color="#f24935"/><stop offset="0.371" stop-color="#f5533b"/><stop offset="0.388" stop-color="#f96245"/><stop offset="0.406" stop-color="#fb7353"/><stop offset="0.424" stop-color="#fc8161"/><stop offset="0.441" stop-color="#fc8c6c"/><stop offset="0.459" stop-color="#fc9576"/><stop offset="0.476" stop-color="#fc9e80"/><stop offset="0.494" stop-color="#fca689"/><stop offset="0.512" stop-color="#fcab8f"/><stop offset="0.529" stop-color="#fcae92"/><stop offset="0.547" stop-color="#fcb094"/><stop offset="0.565" stop-color="#fcb196"/><stop offset="0.582" stop-color="#fcb398"/><stop offset="0.600" stop-color="#fcb59a"/><stop offset="0.618" stop-color="#fcb79c"/><stop offset="0.635" stop-color="#fcb99f"/><stop offset="0.653" stop-color="#fcbba1"/><stop offset="0.671" stop-color="#fcbca3"/><stop offset="0.688" stop-color="#fcbea5"/><stop offset="0.706" stop-color="#fcc0a7"/><stop offset="0.724" stop-color="#fcc2aa"/><stop offset="0.741" stop-color="#fdc4ae"/><stop offset="0.759" stop-color="#fdcab5"/><stop offset="0.776" stop-color="#fdd2c0"/><stop offset="0.794" stop-color="#fed9c9"/><stop offset="0.812" stop-color="#fedccd"/><stop offset="0.829" stop-color="#fedecf"/><stop offset="0.847" stop-color="#fedfd1"/><stop offset="0.865" stop-color="#fee0d3"/><stop offset="0.882" stop-color="#fee1d4"/><stop offset="0.900" stop-color="#fee2d5"/><stop offset="0.918" stop-color="#fee3d6"/><stop offset="0.935" stop-color="#fee3d7"/><stop offset="0.953" stop-color="#fee4d8"/><stop offset="0.971" stop-color="#fee5d9"/><stop offset="0.988" stop-color="#fee5da"/></linearGradient><linearGradient id="gTR2" gradientUnits="userSpaceOnUse" x1="0" y1="8.3" x2="0" y2="217.0"><stop offset="0.000" stop-color="#ffffff"/><stop offset="0.018" stop-color="#ffffff"/><stop offset="0.035" stop-color="#fff3ed"/><stop offset="0.053" stop-color="#ffece3"/><stop offset="0.071" stop-color="#fee5d9"/><stop offset="0.088" stop-color="#feded0"/><stop offset="0.106" stop-color="#fdd5c4"/><stop offset="0.124" stop-color="#fdcdb8"/><stop offset="0.141" stop-color="#fcc4ad"/><stop offset="0.159" stop-color="#fcbba1"/><stop offset="0.176" stop-color="#fcae92"/><stop offset="0.194" stop-color="#fc9e80"/><stop offset="0.212" stop-color="#fc8c6c"/><stop offset="0.229" stop-color="#fb7757"/><stop offset="0.247" stop-color="#f96144"/><stop offset="0.265" stop-color="#f5533b"/><stop offset="0.282" stop-color="#f34c37"/><stop offset="0.300" stop-color="#f24633"/><stop offset="0.318" stop-color="#f14230"/><stop offset="0.335" stop-color="#f14231"/><stop offset="0.353" stop-color="#f24935"/><stop offset="0.371" stop-color="#f5533b"/><stop offset="0.388" stop-color="#f96245"/><stop offset="0.406" stop-color="#fb7353"/><stop offset="0.424" stop-color="#fc8363"/><stop offset="0.441" stop-color="#fc9171"/><stop offset="0.459" stop-color="#fc9e80"/><stop offset="0.476" stop-color="#fca88b"/><stop offset="0.494" stop-color="#fcae92"/><stop offset="0.512" stop-color="#fcb195"/><stop offset="0.529" stop-color="#fcb498"/><stop offset="0.547" stop-color="#fcb69c"/><stop offset="0.565" stop-color="#fcb99f"/><stop offset="0.582" stop-color="#fcbca2"/><stop offset="0.600" stop-color="#fcbea6"/><stop offset="0.618" stop-color="#fcc1a9"/><stop offset="0.635" stop-color="#fcc4ac"/><stop offset="0.653" stop-color="#fdc6b0"/><stop offset="0.671" stop-color="#fdc9b3"/><stop offset="0.688" stop-color="#fdccb7"/><stop offset="0.706" stop-color="#fdceba"/><stop offset="0.724" stop-color="#fdd1be"/><stop offset="0.741" stop-color="#fdd4c2"/><stop offset="0.759" stop-color="#fdd6c5"/><stop offset="0.776" stop-color="#fed9c9"/><stop offset="0.794" stop-color="#fedbcc"/><stop offset="0.812" stop-color="#feddce"/><stop offset="0.829" stop-color="#fedecf"/><stop offset="0.847" stop-color="#fedfd1"/><stop offset="0.865" stop-color="#fee0d3"/><stop offset="0.882" stop-color="#fee1d4"/><stop offset="0.900" stop-color="#fee2d5"/><stop offset="0.918" stop-color="#fee3d6"/><stop offset="0.935" stop-color="#fee3d7"/><stop offset="0.953" stop-color="#fee4d8"/><stop offset="0.971" stop-color="#fee5d9"/><stop offset="0.988" stop-color="#fee5da"/></linearGradient><linearGradient id="gTR3" gradientUnits="userSpaceOnUse" x1="0" y1="8.3" x2="0" y2="217.0"><stop offset="0.000" stop-color="#ffffff"/><stop offset="0.053" stop-color="#ffffff"/><stop offset="0.071" stop-color="#fff1ea"/><stop offset="0.088" stop-color="#fee9df"/><stop offset="0.106" stop-color="#fee2d5"/><stop offset="0.124" stop-color="#fedbcb"/><stop offset="0.141" stop-color="#fdd2bf"/><stop offset="0.159" stop-color="#fdc9b3"/><stop offset="0.176" stop-color="#fcc0a7"/><stop offset="0.194" stop-color="#fcb59a"/><stop offset="0.212" stop-color="#fca78a"/><stop offset="0.229" stop-color="#fc9575"/><stop offset="0.247" stop-color="#fc8161"/><stop offset="0.265" stop-color="#fb6c4c"/><stop offset="0.282" stop-color="#f6573e"/><stop offset="0.300" stop-color="#f34b36"/><stop offset="0.318" stop-color="#f14432"/><stop offset="0.335" stop-color="#f14331"/><stop offset="0.353" stop-color="#f24935"/><stop offset="0.371" stop-color="#f5533b"/><stop offset="0.388" stop-color="#f96245"/><stop offset="0.406" stop-color="#fb7252"/><stop offset="0.424" stop-color="#fc8161"/><stop offset="0.441" stop-color="#fc8b6b"/><stop offset="0.459" stop-color="#fc9474"/><stop offset="0.476" stop-color="#fc9c7d"/><stop offset="0.494" stop-color="#fca486"/><stop offset="0.512" stop-color="#fcaa8d"/><stop offset="0.529" stop-color="#fcad91"/><stop offset="0.547" stop-color="#fcb095"/><stop offset="0.565" stop-color="#fcb397"/><stop offset="0.582" stop-color="#fcb59a"/><stop offset="0.600" stop-color="#fcb89d"/><stop offset="0.618" stop-color="#fcbaa0"/><stop offset="0.635" stop-color="#fcbda3"/><stop offset="0.653" stop-color="#fcbfa6"/><stop offset="0.671" stop-color="#fcc1a9"/><stop offset="0.688" stop-color="#fcc4ad"/><stop offset="0.706" stop-color="#fdc7b1"/><stop offset="0.724" stop-color="#fdcbb7"/><stop offset="0.741" stop-color="#fdcfbc"/><stop offset="0.759" stop-color="#fdd3c1"/><stop offset="0.776" stop-color="#fed7c7"/><stop offset="0.794" stop-color="#fedbcb"/><stop offset="0.812" stop-color="#feddce"/><stop offset="0.829" stop-color="#fedecf"/><stop offset="0.847" stop-color="#fedfd1"/><stop offset="0.865" stop-color="#fee0d3"/><stop offset="0.882" stop-color="#fee1d4"/><stop offset="0.900" stop-color="#fee2d5"/><stop offset="0.918" stop-color="#fee3d6"/><stop offset="0.935" stop-color="#fee3d7"/><stop offset="0.953" stop-color="#fee4d8"/><stop offset="0.971" stop-color="#fee5d9"/><stop offset="0.988" stop-color="#fee5da"/></linearGradient><linearGradient id="gTR4" gradientUnits="userSpaceOnUse" x1="0" y1="8.3" x2="0" y2="217.0"><stop offset="0.000" stop-color="#ffffff"/><stop offset="0.071" stop-color="#ffffff"/><stop offset="0.088" stop-color="#fff4ee"/><stop offset="0.106" stop-color="#ffefe7"/><stop offset="0.124" stop-color="#fee7dd"/><stop offset="0.141" stop-color="#fee2d4"/><stop offset="0.159" stop-color="#fedaca"/><stop offset="0.176" stop-color="#fdd1be"/><stop offset="0.194" stop-color="#fdc8b2"/><stop offset="0.212" stop-color="#fcbfa7"/><stop offset="0.229" stop-color="#fcb59a"/><stop offset="0.247" stop-color="#fca78a"/><stop offset="0.265" stop-color="#fc9575"/><stop offset="0.282" stop-color="#fc8161"/><stop offset="0.300" stop-color="#fb6a4a"/><stop offset="0.318" stop-color="#f5513a"/><stop offset="0.335" stop-color="#f24633"/><stop offset="0.353" stop-color="#f34935"/><stop offset="0.371" stop-color="#f5533b"/><stop offset="0.388" stop-color="#f96245"/><stop offset="0.406" stop-color="#fb7252"/><stop offset="0.424" stop-color="#fc8161"/><stop offset="0.441" stop-color="#fc8b6b"/><stop offset="0.459" stop-color="#fc9373"/><stop offset="0.476" stop-color="#fc9b7d"/><stop offset="0.494" stop-color="#fca385"/><stop offset="0.512" stop-color="#fca98c"/><stop offset="0.529" stop-color="#fcac90"/><stop offset="0.547" stop-color="#fcae92"/><stop offset="0.565" stop-color="#fcaf94"/><stop offset="0.582" stop-color="#fcb195"/><stop offset="0.600" stop-color="#fcb397"/><stop offset="0.618" stop-color="#fcb499"/><stop offset="0.635" stop-color="#fcb69b"/><stop offset="0.653" stop-color="#fcb79d"/><stop offset="0.671" stop-color="#fcb99e"/><stop offset="0.688" stop-color="#fcbaa0"/><stop offset="0.706" stop-color="#fcbca2"/><stop offset="0.724" stop-color="#fcbda4"/><stop offset="0.741" stop-color="#fcbfa6"/><stop offset="0.759" stop-color="#fcc0a8"/><stop offset="0.776" stop-color="#fcc2aa"/><stop offset="0.794" stop-color="#fdc6b0"/><stop offset="0.812" stop-color="#fdd2bf"/><stop offset="0.829" stop-color="#fedbcc"/><stop offset="0.847" stop-color="#feded0"/><stop offset="0.865" stop-color="#fee0d2"/><stop offset="0.882" stop-color="#fee1d3"/><stop offset="0.900" stop-color="#fee1d4"/><stop offset="0.918" stop-color="#fee2d5"/><stop offset="0.935" stop-color="#fee3d6"/><stop offset="0.953" stop-color="#fee4d7"/><stop offset="0.971" stop-color="#fee5d9"/><stop offset="0.988" stop-color="#fee5da"/></linearGradient><linearGradient id="gTR6" gradientUnits="userSpaceOnUse" x1="0" y1="8.3" x2="0" y2="217.0"><stop offset="0.000" stop-color="#ffffff"/><stop offset="0.035" stop-color="#ffffff"/><stop offset="0.053" stop-color="#fff4ef"/><stop offset="0.071" stop-color="#fff1eb"/><stop offset="0.088" stop-color="#ffede5"/><stop offset="0.106" stop-color="#feeae1"/><stop offset="0.124" stop-color="#fee8de"/><stop offset="0.141" stop-color="#fee6db"/><stop offset="0.159" stop-color="#fee5d9"/><stop offset="0.176" stop-color="#fee3d6"/><stop offset="0.194" stop-color="#fedfd0"/><stop offset="0.212" stop-color="#fdccb8"/><stop offset="0.229" stop-color="#fca588"/><stop offset="0.247" stop-color="#fb7a5a"/><stop offset="0.265" stop-color="#f85d42"/><stop offset="0.282" stop-color="#f5523b"/><stop offset="0.300" stop-color="#f44d38"/><stop offset="0.318" stop-color="#f34935"/><stop offset="0.335" stop-color="#f24532"/><stop offset="0.353" stop-color="#f04130"/><stop offset="0.371" stop-color="#ef3d2d"/><stop offset="0.388" stop-color="#ee3a2c"/><stop offset="0.406" stop-color="#ee3a2c"/><stop offset="0.424" stop-color="#f0402f"/><stop offset="0.441" stop-color="#f34a36"/><stop offset="0.459" stop-color="#f75a40"/><stop offset="0.476" stop-color="#fb7151"/><stop offset="0.494" stop-color="#fc8e6e"/><stop offset="0.512" stop-color="#fca98d"/><stop offset="0.529" stop-color="#fcb89d"/><stop offset="0.547" stop-color="#fcbfa7"/><stop offset="0.565" stop-color="#fdc6af"/><stop offset="0.582" stop-color="#fdcab5"/><stop offset="0.600" stop-color="#fdcdb8"/><stop offset="0.618" stop-color="#fdcfbb"/><stop offset="0.635" stop-color="#fdd1be"/><stop offset="0.653" stop-color="#fdd2c0"/><stop offset="0.671" stop-color="#fdd4c2"/><stop offset="0.688" stop-color="#fdd6c5"/><stop offset="0.706" stop-color="#fed8c7"/><stop offset="0.724" stop-color="#fedaca"/><stop offset="0.741" stop-color="#fedccc"/><stop offset="0.759" stop-color="#fedecf"/><stop offset="0.776" stop-color="#fee0d1"/><stop offset="0.794" stop-color="#fee1d3"/><stop offset="0.812" stop-color="#fee2d4"/><stop offset="0.829" stop-color="#fee2d5"/><stop offset="0.847" stop-color="#fee3d6"/><stop offset="0.865" stop-color="#fee4d7"/><stop offset="0.882" stop-color="#fee4d8"/><stop offset="0.900" stop-color="#fee5d9"/><stop offset="0.918" stop-color="#fee6da"/><stop offset="0.935" stop-color="#fee7db"/><stop offset="0.953" stop-color="#fee7dc"/><stop offset="0.971" stop-color="#fee8dd"/><stop offset="0.988" stop-color="#fee9de"/></linearGradient><linearGradient id="gTR7" gradientUnits="userSpaceOnUse" x1="0" y1="8.3" x2="0" y2="217.0"><stop offset="0.000" stop-color="#ffffff"/><stop offset="0.141" stop-color="#ffffff"/><stop offset="0.159" stop-color="#fff4ef"/><stop offset="0.176" stop-color="#fff1eb"/><stop offset="0.194" stop-color="#ffede4"/><stop offset="0.212" stop-color="#fee9df"/><stop offset="0.229" stop-color="#fee6db"/><stop offset="0.247" stop-color="#fee3d6"/><stop offset="0.265" stop-color="#fed8c8"/><stop offset="0.282" stop-color="#fcbba1"/><stop offset="0.300" stop-color="#fc8d6d"/><stop offset="0.318" stop-color="#fa6648"/><stop offset="0.335" stop-color="#f44e38"/><stop offset="0.353" stop-color="#f14231"/><stop offset="0.371" stop-color="#ef3c2d"/><stop offset="0.388" stop-color="#f03e2e"/><stop offset="0.406" stop-color="#f24633"/><stop offset="0.424" stop-color="#f5543c"/><stop offset="0.441" stop-color="#fa6748"/><stop offset="0.459" stop-color="#fb7858"/><stop offset="0.476" stop-color="#fc8464"/><stop offset="0.494" stop-color="#fc8969"/><stop offset="0.512" stop-color="#fc8d6d"/><stop offset="0.529" stop-color="#fc9171"/><stop offset="0.547" stop-color="#fc9576"/><stop offset="0.565" stop-color="#fc997a"/><stop offset="0.582" stop-color="#fc9d7f"/><stop offset="0.600" stop-color="#fca184"/><stop offset="0.618" stop-color="#fca588"/><stop offset="0.635" stop-color="#fca98d"/><stop offset="0.653" stop-color="#fcae92"/><stop offset="0.671" stop-color="#fcb297"/><stop offset="0.688" stop-color="#fcb79c"/><stop offset="0.706" stop-color="#fcbba1"/><stop offset="0.724" stop-color="#fcbfa7"/><stop offset="0.741" stop-color="#fcc4ad"/><stop offset="0.759" stop-color="#fdc9b4"/><stop offset="0.776" stop-color="#fdd3c0"/><stop offset="0.794" stop-color="#feddce"/><stop offset="0.812" stop-color="#fee1d4"/><stop offset="0.829" stop-color="#fee2d5"/><stop offset="0.847" stop-color="#fee3d6"/><stop offset="0.865" stop-color="#fee4d7"/><stop offset="0.882" stop-color="#fee4d8"/><stop offset="0.900" stop-color="#fee5d9"/><stop offset="0.918" stop-color="#fee6da"/><stop offset="0.935" stop-color="#fee7db"/><stop offset="0.953" stop-color="#fee7dc"/><stop offset="0.971" stop-color="#fee8dd"/><stop offset="0.988" stop-color="#fee9de"/></linearGradient><linearGradient id="gTR8" gradientUnits="userSpaceOnUse" x1="0" y1="8.3" x2="0" y2="217.0"><stop offset="0.000" stop-color="#ffffff"/><stop offset="0.141" stop-color="#ffffff"/><stop offset="0.159" stop-color="#fff3ed"/><stop offset="0.176" stop-color="#ffeee6"/><stop offset="0.194" stop-color="#feeae1"/><stop offset="0.212" stop-color="#fee8dd"/><stop offset="0.229" stop-color="#fee6da"/><stop offset="0.247" stop-color="#fee3d7"/><stop offset="0.265" stop-color="#fee0d2"/><stop offset="0.282" stop-color="#fdceba"/><stop offset="0.300" stop-color="#fca98c"/><stop offset="0.318" stop-color="#fb7c5c"/><stop offset="0.335" stop-color="#f75a3f"/><stop offset="0.353" stop-color="#f24633"/><stop offset="0.371" stop-color="#f03d2d"/><stop offset="0.388" stop-color="#f03e2e"/><stop offset="0.406" stop-color="#f24533"/><stop offset="0.424" stop-color="#f5523b"/><stop offset="0.441" stop-color="#fa6547"/><stop offset="0.459" stop-color="#fb7757"/><stop offset="0.476" stop-color="#fc8565"/><stop offset="0.494" stop-color="#fc8f6f"/><stop offset="0.512" stop-color="#fc9777"/><stop offset="0.529" stop-color="#fc9f81"/><stop offset="0.547" stop-color="#fca78a"/><stop offset="0.565" stop-color="#fcad91"/><stop offset="0.582" stop-color="#fcb498"/><stop offset="0.600" stop-color="#fcb99f"/><stop offset="0.618" stop-color="#fcbfa6"/><stop offset="0.635" stop-color="#fcc4ad"/><stop offset="0.653" stop-color="#fdc9b3"/><stop offset="0.671" stop-color="#fdccb8"/><stop offset="0.688" stop-color="#fdcfbc"/><stop offset="0.706" stop-color="#fdd2c0"/><stop offset="0.724" stop-color="#fdd5c4"/><stop offset="0.741" stop-color="#fed8c8"/><stop offset="0.759" stop-color="#fedbcc"/><stop offset="0.776" stop-color="#feded0"/><stop offset="0.794" stop-color="#fee1d3"/><stop offset="0.812" stop-color="#fee2d4"/><stop offset="0.829" stop-color="#fee2d5"/><stop offset="0.847" stop-color="#fee3d6"/><stop offset="0.865" stop-color="#fee4d7"/><stop offset="0.882" stop-color="#fee4d8"/><stop offset="0.900" stop-color="#fee5d9"/><stop offset="0.918" stop-color="#fee6da"/><stop offset="0.935" stop-color="#fee7db"/><stop offset="0.953" stop-color="#fee7dc"/><stop offset="0.971" stop-color="#fee8dd"/><stop offset="0.988" stop-color="#fee9de"/></linearGradient><linearGradient id="gTR9" gradientUnits="userSpaceOnUse" x1="0" y1="8.3" x2="0" y2="217.0"><stop offset="0.000" stop-color="#ffffff"/><stop offset="0.124" stop-color="#ffffff"/><stop offset="0.141" stop-color="#fff3ed"/><stop offset="0.159" stop-color="#ffeee6"/><stop offset="0.176" stop-color="#ffebe1"/><stop offset="0.194" stop-color="#fee8de"/><stop offset="0.212" stop-color="#fee6db"/><stop offset="0.229" stop-color="#fee4d8"/><stop offset="0.247" stop-color="#fee2d4"/><stop offset="0.265" stop-color="#fed7c7"/><stop offset="0.282" stop-color="#fcbaa0"/><stop offset="0.300" stop-color="#fc8d6d"/><stop offset="0.318" stop-color="#fa6648"/><stop offset="0.335" stop-color="#f44f39"/><stop offset="0.353" stop-color="#f14331"/><stop offset="0.371" stop-color="#ef3c2d"/><stop offset="0.388" stop-color="#f03d2e"/><stop offset="0.406" stop-color="#f24533"/><stop offset="0.424" stop-color="#f5523b"/><stop offset="0.441" stop-color="#fa6647"/><stop offset="0.459" stop-color="#fb7d5d"/><stop offset="0.476" stop-color="#fc9979"/><stop offset="0.494" stop-color="#fcab8f"/><stop offset="0.512" stop-color="#fcb397"/><stop offset="0.529" stop-color="#fcb79d"/><stop offset="0.547" stop-color="#fcbba1"/><stop offset="0.565" stop-color="#fcbfa7"/><stop offset="0.582" stop-color="#fcc3ac"/><stop offset="0.600" stop-color="#fdc7b1"/><stop offset="0.618" stop-color="#fdcab5"/><stop offset="0.635" stop-color="#fdcdb8"/><stop offset="0.653" stop-color="#fdcfbb"/><stop offset="0.671" stop-color="#fdd1bf"/><stop offset="0.688" stop-color="#fdd4c2"/><stop offset="0.706" stop-color="#fdd6c5"/><stop offset="0.724" stop-color="#fed8c8"/><stop offset="0.741" stop-color="#fedbcb"/><stop offset="0.759" stop-color="#feddce"/><stop offset="0.776" stop-color="#fedfd1"/><stop offset="0.794" stop-color="#fee1d3"/><stop offset="0.812" stop-color="#fee2d4"/><stop offset="0.829" stop-color="#fee2d5"/><stop offset="0.847" stop-color="#fee3d6"/><stop offset="0.865" stop-color="#fee4d7"/><stop offset="0.882" stop-color="#fee4d8"/><stop offset="0.900" stop-color="#fee5d9"/><stop offset="0.918" stop-color="#fee6da"/><stop offset="0.935" stop-color="#fee7db"/><stop offset="0.953" stop-color="#fee7dc"/><stop offset="0.971" stop-color="#fee8dd"/><stop offset="0.988" stop-color="#fee9de"/></linearGradient><linearGradient id="gTR10" gradientUnits="userSpaceOnUse" x1="0" y1="8.3" x2="0" y2="217.0"><stop offset="0.000" stop-color="#ffffff"/><stop offset="0.088" stop-color="#ffffff"/><stop offset="0.106" stop-color="#fff4ef"/><stop offset="0.124" stop-color="#fff1eb"/><stop offset="0.141" stop-color="#ffede5"/><stop offset="0.159" stop-color="#feeae1"/><stop offset="0.176" stop-color="#fee9de"/><stop offset="0.194" stop-color="#fee7dc"/><stop offset="0.212" stop-color="#fee5d9"/><stop offset="0.229" stop-color="#fee3d6"/><stop offset="0.247" stop-color="#fee0d2"/><stop offset="0.265" stop-color="#fdd2c0"/><stop offset="0.282" stop-color="#fcb094"/><stop offset="0.300" stop-color="#fc8363"/><stop offset="0.318" stop-color="#f86043"/><stop offset="0.335" stop-color="#f34c37"/><stop offset="0.353" stop-color="#f14130"/><stop offset="0.371" stop-color="#ef3c2c"/><stop offset="0.388" stop-color="#f03e2e"/><stop offset="0.406" stop-color="#f24633"/><stop offset="0.424" stop-color="#f5543c"/><stop offset="0.441" stop-color="#fa6848"/><stop offset="0.459" stop-color="#fb7d5d"/><stop offset="0.476" stop-color="#fc9474"/><stop offset="0.494" stop-color="#fca78a"/><stop offset="0.512" stop-color="#fcaf93"/><stop offset="0.529" stop-color="#fcb398"/><stop offset="0.547" stop-color="#fcb69c"/><stop offset="0.565" stop-color="#fcba9f"/><stop offset="0.582" stop-color="#fcbda3"/><stop offset="0.600" stop-color="#fcc0a8"/><stop offset="0.618" stop-color="#fcc3ac"/><stop offset="0.635" stop-color="#fdc6b0"/><stop offset="0.653" stop-color="#fdc9b4"/><stop offset="0.671" stop-color="#fdccb8"/><stop offset="0.688" stop-color="#fdcfbc"/><stop offset="0.706" stop-color="#fdd2c0"/><stop offset="0.724" stop-color="#fdd5c4"/><stop offset="0.741" stop-color="#fed8c8"/><stop offset="0.759" stop-color="#fedbcc"/><stop offset="0.776" stop-color="#feded0"/><stop offset="0.794" stop-color="#fee1d3"/><stop offset="0.812" stop-color="#fee2d4"/><stop offset="0.829" stop-color="#fee2d5"/><stop offset="0.847" stop-color="#fee3d6"/><stop offset="0.865" stop-color="#fee4d7"/><stop offset="0.882" stop-color="#fee4d8"/><stop offset="0.900" stop-color="#fee5d9"/><stop offset="0.918" stop-color="#fee6da"/><stop offset="0.935" stop-color="#fee7db"/><stop offset="0.953" stop-color="#fee7dc"/><stop offset="0.971" stop-color="#fee8dd"/><stop offset="0.988" stop-color="#fee9de"/></linearGradient><linearGradient id="gTR11" gradientUnits="userSpaceOnUse" x1="0" y1="8.3" x2="0" y2="217.0"><stop offset="0.000" stop-color="#ffffff"/><stop offset="0.088" stop-color="#ffffff"/><stop offset="0.106" stop-color="#fff4ee"/><stop offset="0.124" stop-color="#fff0e9"/><stop offset="0.141" stop-color="#ffece3"/><stop offset="0.159" stop-color="#feeae0"/><stop offset="0.176" stop-color="#fee8dd"/><stop offset="0.194" stop-color="#fee6da"/><stop offset="0.212" stop-color="#fee4d8"/><stop offset="0.229" stop-color="#fee2d5"/><stop offset="0.247" stop-color="#feddce"/><stop offset="0.265" stop-color="#fdc7b1"/><stop offset="0.282" stop-color="#fc9e7f"/><stop offset="0.300" stop-color="#fb7353"/><stop offset="0.318" stop-color="#f6563d"/><stop offset="0.335" stop-color="#f24834"/><stop offset="0.353" stop-color="#f03f2f"/><stop offset="0.371" stop-color="#ef3b2c"/><stop offset="0.388" stop-color="#f03f2f"/><stop offset="0.406" stop-color="#f34935"/><stop offset="0.424" stop-color="#f6583f"/><stop offset="0.441" stop-color="#fb6e4e"/><stop offset="0.459" stop-color="#fc8969"/><stop offset="0.476" stop-color="#fca487"/><stop offset="0.494" stop-color="#fcb095"/><stop offset="0.512" stop-color="#fcb59a"/><stop offset="0.529" stop-color="#fcb99f"/><stop offset="0.547" stop-color="#fcbda4"/><stop offset="0.565" stop-color="#fcc1a9"/><stop offset="0.582" stop-color="#fdc4ad"/><stop offset="0.600" stop-color="#fdc8b2"/><stop offset="0.618" stop-color="#fdcbb6"/><stop offset="0.635" stop-color="#fdcdb9"/><stop offset="0.653" stop-color="#fdcfbc"/><stop offset="0.671" stop-color="#fdd2bf"/><stop offset="0.688" stop-color="#fdd4c2"/><stop offset="0.706" stop-color="#fdd6c5"/><stop offset="0.724" stop-color="#fed8c8"/><stop offset="0.741" stop-color="#fedbcb"/><stop offset="0.759" stop-color="#feddce"/><stop offset="0.776" stop-color="#fedfd1"/><stop offset="0.794" stop-color="#fee1d3"/><stop offset="0.812" stop-color="#fee2d4"/><stop offset="0.829" stop-color="#fee2d5"/><stop offset="0.847" stop-color="#fee3d6"/><stop offset="0.865" stop-color="#fee4d7"/><stop offset="0.882" stop-color="#fee4d8"/><stop offset="0.900" stop-color="#fee5d9"/><stop offset="0.918" stop-color="#fee6da"/><stop offset="0.935" stop-color="#fee7db"/><stop offset="0.953" stop-color="#fee7dc"/><stop offset="0.971" stop-color="#fee8dd"/><stop offset="0.988" stop-color="#fee9de"/></linearGradient><linearGradient id="gTR12" gradientUnits="userSpaceOnUse" x1="0" y1="8.3" x2="0" y2="217.0"><stop offset="0.000" stop-color="#ffffff"/><stop offset="0.106" stop-color="#ffffff"/><stop offset="0.124" stop-color="#fff3ed"/><stop offset="0.141" stop-color="#ffeee6"/><stop offset="0.159" stop-color="#ffebe1"/><stop offset="0.176" stop-color="#fee8de"/><stop offset="0.194" stop-color="#fee6db"/><stop offset="0.212" stop-color="#fee4d8"/><stop offset="0.229" stop-color="#fee1d4"/><stop offset="0.247" stop-color="#fdd5c4"/><stop offset="0.265" stop-color="#fcb69b"/><stop offset="0.282" stop-color="#fc8969"/><stop offset="0.300" stop-color="#fa6446"/><stop offset="0.318" stop-color="#f45039"/><stop offset="0.335" stop-color="#f24633"/><stop offset="0.353" stop-color="#f03e2e"/><stop offset="0.371" stop-color="#ef3b2c"/><stop offset="0.388" stop-color="#f03f2f"/><stop offset="0.406" stop-color="#f34935"/><stop offset="0.424" stop-color="#f6583e"/><stop offset="0.441" stop-color="#fb6c4c"/><stop offset="0.459" stop-color="#fc7e5e"/><stop offset="0.476" stop-color="#fc9070"/><stop offset="0.494" stop-color="#fca082"/><stop offset="0.512" stop-color="#fcab8e"/><stop offset="0.529" stop-color="#fcb196"/><stop offset="0.547" stop-color="#fcb69b"/><stop offset="0.565" stop-color="#fcbba1"/><stop offset="0.582" stop-color="#fcbfa7"/><stop offset="0.600" stop-color="#fcc3ac"/><stop offset="0.618" stop-color="#fdc8b2"/><stop offset="0.635" stop-color="#fdcbb6"/><stop offset="0.653" stop-color="#fdceba"/><stop offset="0.671" stop-color="#fdd0bd"/><stop offset="0.688" stop-color="#fdd3c0"/><stop offset="0.706" stop-color="#fdd5c4"/><stop offset="0.724" stop-color="#fed8c7"/><stop offset="0.741" stop-color="#fedaca"/><stop offset="0.759" stop-color="#feddcd"/><stop offset="0.776" stop-color="#fedfd1"/><stop offset="0.794" stop-color="#fee1d3"/><stop offset="0.812" stop-color="#fee2d4"/><stop offset="0.829" stop-color="#fee2d5"/><stop offset="0.847" stop-color="#fee3d6"/><stop offset="0.865" stop-color="#fee4d7"/><stop offset="0.882" stop-color="#fee4d8"/><stop offset="0.900" stop-color="#fee5d9"/><stop offset="0.918" stop-color="#fee6da"/><stop offset="0.935" stop-color="#fee7db"/><stop offset="0.953" stop-color="#fee7dc"/><stop offset="0.971" stop-color="#fee8dd"/><stop offset="0.988" stop-color="#fee9de"/></linearGradient><linearGradient id="gTR13" gradientUnits="userSpaceOnUse" x1="0" y1="8.3" x2="0" y2="217.0"><stop offset="0.000" stop-color="#ffffff"/><stop offset="0.124" stop-color="#ffffff"/><stop offset="0.141" stop-color="#fff4ee"/><stop offset="0.159" stop-color="#fff0e8"/><stop offset="0.176" stop-color="#ffebe2"/><stop offset="0.194" stop-color="#fee9df"/><stop offset="0.212" stop-color="#fee7db"/><stop offset="0.229" stop-color="#fee4d8"/><stop offset="0.247" stop-color="#fee2d5"/><stop offset="0.265" stop-color="#fedaca"/><stop offset="0.282" stop-color="#fcc0a8"/><stop offset="0.300" stop-color="#fc9475"/><stop offset="0.318" stop-color="#fb6b4b"/><stop offset="0.335" stop-color="#f44d38"/><stop offset="0.353" stop-color="#f03f2f"/><stop offset="0.371" stop-color="#f03d2d"/><stop offset="0.388" stop-color="#f14432"/><stop offset="0.406" stop-color="#f4513a"/><stop offset="0.424" stop-color="#f96346"/><stop offset="0.441" stop-color="#fb7858"/><stop offset="0.459" stop-color="#fc8f6f"/><stop offset="0.476" stop-color="#fca486"/><stop offset="0.494" stop-color="#fcae92"/><stop offset="0.512" stop-color="#fcb398"/><stop offset="0.529" stop-color="#fcb79c"/><stop offset="0.547" stop-color="#fcbba1"/><stop offset="0.565" stop-color="#fcbea6"/><stop offset="0.582" stop-color="#fcc2aa"/><stop offset="0.600" stop-color="#fdc6af"/><stop offset="0.618" stop-color="#fdc9b3"/><stop offset="0.635" stop-color="#fdccb7"/><stop offset="0.653" stop-color="#fdceba"/><stop offset="0.671" stop-color="#fdd1be"/><stop offset="0.688" stop-color="#fdd3c1"/><stop offset="0.706" stop-color="#fdd5c4"/><stop offset="0.724" stop-color="#fed8c7"/><stop offset="0.741" stop-color="#fedaca"/><stop offset="0.759" stop-color="#feddce"/><stop offset="0.776" stop-color="#fedfd1"/><stop offset="0.794" stop-color="#fee1d3"/><stop offset="0.812" stop-color="#fee2d4"/><stop offset="0.829" stop-color="#fee2d5"/><stop offset="0.847" stop-color="#fee3d6"/><stop offset="0.865" stop-color="#fee4d7"/><stop offset="0.882" stop-color="#fee4d8"/><stop offset="0.900" stop-color="#fee5d9"/><stop offset="0.918" stop-color="#fee6da"/><stop offset="0.935" stop-color="#fee7db"/><stop offset="0.953" stop-color="#fee7dc"/><stop offset="0.971" stop-color="#fee8dd"/><stop offset="0.988" stop-color="#fee9de"/></linearGradient><linearGradient id="gTR14" gradientUnits="userSpaceOnUse" x1="0" y1="8.3" x2="0" y2="217.0"><stop offset="0.000" stop-color="#ffffff"/><stop offset="0.141" stop-color="#ffffff"/><stop offset="0.159" stop-color="#fff4ef"/><stop offset="0.176" stop-color="#fff1eb"/><stop offset="0.194" stop-color="#ffede5"/><stop offset="0.212" stop-color="#feeae0"/><stop offset="0.229" stop-color="#fee8dd"/><stop offset="0.247" stop-color="#fee6da"/><stop offset="0.265" stop-color="#fee4d7"/><stop offset="0.282" stop-color="#fee1d3"/><stop offset="0.300" stop-color="#fdd3c1"/><stop offset="0.318" stop-color="#fcb296"/><stop offset="0.335" stop-color="#fc8363"/><stop offset="0.353" stop-color="#f75a40"/><stop offset="0.371" stop-color="#f14231"/><stop offset="0.388" stop-color="#f0402f"/><stop offset="0.406" stop-color="#f34935"/><stop offset="0.424" stop-color="#f6583e"/><stop offset="0.441" stop-color="#fb6c4c"/><stop offset="0.459" stop-color="#fb7c5c"/><stop offset="0.476" stop-color="#fc8666"/><stop offset="0.494" stop-color="#fc8c6c"/><stop offset="0.512" stop-color="#fc9171"/><stop offset="0.529" stop-color="#fc9677"/><stop offset="0.547" stop-color="#fc9b7d"/><stop offset="0.565" stop-color="#fca082"/><stop offset="0.582" stop-color="#fca588"/><stop offset="0.600" stop-color="#fcaa8e"/><stop offset="0.618" stop-color="#fcaf93"/><stop offset="0.635" stop-color="#fcb498"/><stop offset="0.653" stop-color="#fcb89e"/><stop offset="0.671" stop-color="#fcbca3"/><stop offset="0.688" stop-color="#fcc1a8"/><stop offset="0.706" stop-color="#fdc5ae"/><stop offset="0.724" stop-color="#fdc9b4"/><stop offset="0.741" stop-color="#fdcfbb"/><stop offset="0.759" stop-color="#fdd5c3"/><stop offset="0.776" stop-color="#fedbcb"/><stop offset="0.794" stop-color="#fee0d2"/><stop offset="0.812" stop-color="#fee1d4"/><stop offset="0.829" stop-color="#fee2d5"/><stop offset="0.847" stop-color="#fee3d6"/><stop offset="0.865" stop-color="#fee4d7"/><stop offset="0.882" stop-color="#fee4d8"/><stop offset="0.900" stop-color="#fee5d9"/><stop offset="0.918" stop-color="#fee6da"/><stop offset="0.935" stop-color="#fee7db"/><stop offset="0.953" stop-color="#fee7dc"/><stop offset="0.971" stop-color="#fee8dd"/><stop offset="0.988" stop-color="#fee9de"/></linearGradient><linearGradient id="gTR15" gradientUnits="userSpaceOnUse" x1="0" y1="8.3" x2="0" y2="217.0"><stop offset="0.000" stop-color="#ffffff"/><stop offset="0.106" stop-color="#ffffff"/><stop offset="0.124" stop-color="#fff4ef"/><stop offset="0.141" stop-color="#fff1eb"/><stop offset="0.159" stop-color="#ffede4"/><stop offset="0.176" stop-color="#feeae0"/><stop offset="0.194" stop-color="#fee8dd"/><stop offset="0.212" stop-color="#fee6da"/><stop offset="0.229" stop-color="#fee4d7"/><stop offset="0.247" stop-color="#fee1d3"/><stop offset="0.265" stop-color="#fdd5c4"/><stop offset="0.282" stop-color="#fcb69b"/><stop offset="0.300" stop-color="#fc8868"/><stop offset="0.318" stop-color="#f96346"/><stop offset="0.335" stop-color="#f34d37"/><stop offset="0.353" stop-color="#f14130"/><stop offset="0.371" stop-color="#ef3c2d"/><stop offset="0.388" stop-color="#f03f2f"/><stop offset="0.406" stop-color="#f24835"/><stop offset="0.424" stop-color="#f6573e"/><stop offset="0.441" stop-color="#fb6c4c"/><stop offset="0.459" stop-color="#fc8161"/><stop offset="0.476" stop-color="#fc9778"/><stop offset="0.494" stop-color="#fca78b"/><stop offset="0.512" stop-color="#fcae92"/><stop offset="0.529" stop-color="#fcb195"/><stop offset="0.547" stop-color="#fcb398"/><stop offset="0.565" stop-color="#fcb59b"/><stop offset="0.582" stop-color="#fcb89d"/><stop offset="0.600" stop-color="#fcbaa0"/><stop offset="0.618" stop-color="#fcbda3"/><stop offset="0.635" stop-color="#fcbfa6"/><stop offset="0.653" stop-color="#fcc1a9"/><stop offset="0.671" stop-color="#fcc3ac"/><stop offset="0.688" stop-color="#fdc5af"/><stop offset="0.706" stop-color="#fdc8b2"/><stop offset="0.724" stop-color="#fdcbb6"/><stop offset="0.741" stop-color="#fdd0bd"/><stop offset="0.759" stop-color="#fdd6c4"/><stop offset="0.776" stop-color="#fedbcc"/><stop offset="0.794" stop-color="#fee0d2"/><stop offset="0.812" stop-color="#fee1d4"/><stop offset="0.829" stop-color="#fee2d5"/><stop offset="0.847" stop-color="#fee3d6"/><stop offset="0.865" stop-color="#fee4d7"/><stop offset="0.882" stop-color="#fee4d8"/><stop offset="0.900" stop-color="#fee5d9"/><stop offset="0.918" stop-color="#fee6da"/><stop offset="0.935" stop-color="#fee7db"/><stop offset="0.953" stop-color="#fee7dc"/><stop offset="0.971" stop-color="#fee8dd"/><stop offset="0.988" stop-color="#fee9de"/></linearGradient><linearGradient id="gTR16" gradientUnits="userSpaceOnUse" x1="0" y1="8.3" x2="0" y2="217.0"><stop offset="0.000" stop-color="#ffffff"/><stop offset="0.106" stop-color="#ffffff"/><stop offset="0.124" stop-color="#fff4ef"/><stop offset="0.141" stop-color="#fff1eb"/><stop offset="0.159" stop-color="#ffede4"/><stop offset="0.176" stop-color="#fee9df"/><stop offset="0.194" stop-color="#fee7dc"/><stop offset="0.212" stop-color="#fee5d9"/><stop offset="0.229" stop-color="#fee3d6"/><stop offset="0.247" stop-color="#feddce"/><stop offset="0.265" stop-color="#fdc6b0"/><stop offset="0.282" stop-color="#fc9c7e"/><stop offset="0.300" stop-color="#fb7252"/><stop offset="0.318" stop-color="#f6563d"/><stop offset="0.335" stop-color="#f34935"/><stop offset="0.353" stop-color="#f04030"/><stop offset="0.371" stop-color="#ef3b2c"/><stop offset="0.388" stop-color="#f03d2d"/><stop offset="0.406" stop-color="#f24533"/><stop offset="0.424" stop-color="#f5523b"/><stop offset="0.441" stop-color="#fa6547"/><stop offset="0.459" stop-color="#fb7a5a"/><stop offset="0.476" stop-color="#fc8f6f"/><stop offset="0.494" stop-color="#fca386"/><stop offset="0.512" stop-color="#fcae93"/><stop offset="0.529" stop-color="#fcb499"/><stop offset="0.547" stop-color="#fcb99f"/><stop offset="0.565" stop-color="#fcbea5"/><stop offset="0.582" stop-color="#fcc2aa"/><stop offset="0.600" stop-color="#fdc6b0"/><stop offset="0.618" stop-color="#fdcab5"/><stop offset="0.635" stop-color="#fdcdb8"/><stop offset="0.653" stop-color="#fdcfbb"/><stop offset="0.671" stop-color="#fdd1bf"/><stop offset="0.688" stop-color="#fdd4c2"/><stop offset="0.706" stop-color="#fdd6c5"/><stop offset="0.724" stop-color="#fed8c8"/><stop offset="0.741" stop-color="#fedbcb"/><stop offset="0.759" stop-color="#feddce"/><stop offset="0.776" stop-color="#fedfd1"/><stop offset="0.794" stop-color="#fee1d3"/><stop offset="0.812" stop-color="#fee2d4"/><stop offset="0.829" stop-color="#fee2d5"/><stop offset="0.847" stop-color="#fee3d6"/><stop offset="0.865" stop-color="#fee4d7"/><stop offset="0.882" stop-color="#fee4d8"/><stop offset="0.900" stop-color="#fee5d9"/><stop offset="0.918" stop-color="#fee6da"/><stop offset="0.935" stop-color="#fee7db"/><stop offset="0.953" stop-color="#fee7dc"/><stop offset="0.971" stop-color="#fee8dd"/><stop offset="0.988" stop-color="#fee9de"/></linearGradient><linearGradient id="gTR17" gradientUnits="userSpaceOnUse" x1="0" y1="8.3" x2="0" y2="217.0"><stop offset="0.000" stop-color="#ffffff"/><stop offset="0.124" stop-color="#ffffff"/><stop offset="0.141" stop-color="#fff4ef"/><stop offset="0.159" stop-color="#fff1eb"/><stop offset="0.176" stop-color="#ffede4"/><stop offset="0.194" stop-color="#feeae0"/><stop offset="0.212" stop-color="#fee8dd"/><stop offset="0.229" stop-color="#fee6da"/><stop offset="0.247" stop-color="#fee4d7"/><stop offset="0.265" stop-color="#fee1d3"/><stop offset="0.282" stop-color="#fdd4c3"/><stop offset="0.300" stop-color="#fcb59a"/><stop offset="0.318" stop-color="#fc8767"/><stop offset="0.335" stop-color="#f96144"/><stop offset="0.353" stop-color="#f34935"/><stop offset="0.371" stop-color="#f03e2e"/><stop offset="0.388" stop-color="#f03e2e"/><stop offset="0.406" stop-color="#f24533"/><stop offset="0.424" stop-color="#f5523b"/><stop offset="0.441" stop-color="#fa6547"/><stop offset="0.459" stop-color="#fb7959"/><stop offset="0.476" stop-color="#fc8e6e"/><stop offset="0.494" stop-color="#fca284"/><stop offset="0.512" stop-color="#fcad91"/><stop offset="0.529" stop-color="#fcb297"/><stop offset="0.547" stop-color="#fcb69c"/><stop offset="0.565" stop-color="#fcbaa0"/><stop offset="0.582" stop-color="#fcbea5"/><stop offset="0.600" stop-color="#fcc2aa"/><stop offset="0.618" stop-color="#fdc6af"/><stop offset="0.635" stop-color="#fdc9b4"/><stop offset="0.653" stop-color="#fdccb8"/><stop offset="0.671" stop-color="#fdcfbb"/><stop offset="0.688" stop-color="#fdd1bf"/><stop offset="0.706" stop-color="#fdd4c2"/><stop offset="0.724" stop-color="#fed7c6"/><stop offset="0.741" stop-color="#fed9c9"/><stop offset="0.759" stop-color="#fedccd"/><stop offset="0.776" stop-color="#fedfd0"/><stop offset="0.794" stop-color="#fee1d3"/><stop offset="0.812" stop-color="#fee2d4"/><stop offset="0.829" stop-color="#fee2d5"/><stop offset="0.847" stop-color="#fee3d6"/><stop offset="0.865" stop-color="#fee4d7"/><stop offset="0.882" stop-color="#fee4d8"/><stop offset="0.900" stop-color="#fee5d9"/><stop offset="0.918" stop-color="#fee6da"/><stop offset="0.935" stop-color="#fee7db"/><stop offset="0.953" stop-color="#fee7dc"/><stop offset="0.971" stop-color="#fee8dd"/><stop offset="0.988" stop-color="#fee9de"/></linearGradient><linearGradient id="gTR18" gradientUnits="userSpaceOnUse" x1="0" y1="8.3" x2="0" y2="217.0"><stop offset="0.000" stop-color="#ffffff"/><stop offset="0.124" stop-color="#ffffff"/><stop offset="0.141" stop-color="#fff4ee"/><stop offset="0.159" stop-color="#fff0e8"/><stop offset="0.176" stop-color="#ffebe2"/><stop offset="0.194" stop-color="#fee9de"/><stop offset="0.212" stop-color="#fee7db"/><stop offset="0.229" stop-color="#fee4d8"/><stop offset="0.247" stop-color="#fee2d5"/><stop offset="0.265" stop-color="#fed9c8"/><stop offset="0.282" stop-color="#fcbda3"/><stop offset="0.300" stop-color="#fc9070"/><stop offset="0.318" stop-color="#fb6949"/><stop offset="0.335" stop-color="#f45039"/><stop offset="0.353" stop-color="#f14331"/><stop offset="0.371" stop-color="#ef3c2d"/><stop offset="0.388" stop-color="#f03d2e"/><stop offset="0.406" stop-color="#f24533"/><stop offset="0.424" stop-color="#f5523b"/><stop offset="0.441" stop-color="#fa6547"/><stop offset="0.459" stop-color="#fb7b5b"/><stop offset="0.476" stop-color="#fc9374"/><stop offset="0.494" stop-color="#fca88b"/><stop offset="0.512" stop-color="#fcb196"/><stop offset="0.529" stop-color="#fcb69c"/><stop offset="0.547" stop-color="#fcbba1"/><stop offset="0.565" stop-color="#fcbfa7"/><stop offset="0.582" stop-color="#fcc3ac"/><stop offset="0.600" stop-color="#fdc7b1"/><stop offset="0.618" stop-color="#fdcbb6"/><stop offset="0.635" stop-color="#fdcdb9"/><stop offset="0.653" stop-color="#fdcfbc"/><stop offset="0.671" stop-color="#fdd2bf"/><stop offset="0.688" stop-color="#fdd4c2"/><stop offset="0.706" stop-color="#fdd6c5"/><stop offset="0.724" stop-color="#fed8c8"/><stop offset="0.741" stop-color="#fedbcb"/><stop offset="0.759" stop-color="#feddce"/><stop offset="0.776" stop-color="#fedfd1"/><stop offset="0.794" stop-color="#fee1d3"/><stop offset="0.812" stop-color="#fee2d4"/><stop offset="0.829" stop-color="#fee2d5"/><stop offset="0.847" stop-color="#fee3d6"/><stop offset="0.865" stop-color="#fee4d7"/><stop offset="0.882" stop-color="#fee4d8"/><stop offset="0.900" stop-color="#fee5d9"/><stop offset="0.918" stop-color="#fee6da"/><stop offset="0.935" stop-color="#fee7db"/><stop offset="0.953" stop-color="#fee7dc"/><stop offset="0.971" stop-color="#fee8dd"/><stop offset="0.988" stop-color="#fee9de"/></linearGradient><linearGradient id="gTR19" gradientUnits="userSpaceOnUse" x1="0" y1="8.3" x2="0" y2="217.0"><stop offset="0.000" stop-color="#ffffff"/><stop offset="0.124" stop-color="#ffffff"/><stop offset="0.141" stop-color="#fff4ee"/><stop offset="0.159" stop-color="#fff0e9"/><stop offset="0.176" stop-color="#ffece3"/><stop offset="0.194" stop-color="#fee9e0"/><stop offset="0.212" stop-color="#fee7dd"/><stop offset="0.229" stop-color="#fee5da"/><stop offset="0.247" stop-color="#fee3d7"/><stop offset="0.265" stop-color="#fee1d3"/><stop offset="0.282" stop-color="#fdd3c1"/><stop offset="0.300" stop-color="#fcb296"/><stop offset="0.318" stop-color="#fc8464"/><stop offset="0.335" stop-color="#f85f43"/><stop offset="0.353" stop-color="#f24834"/><stop offset="0.371" stop-color="#f03e2e"/><stop offset="0.388" stop-color="#f03e2e"/><stop offset="0.406" stop-color="#f24533"/><stop offset="0.424" stop-color="#f5523b"/><stop offset="0.441" stop-color="#fa6547"/><stop offset="0.459" stop-color="#fb7959"/><stop offset="0.476" stop-color="#fc8b6b"/><stop offset="0.494" stop-color="#fc9c7e"/><stop offset="0.512" stop-color="#fca98d"/><stop offset="0.529" stop-color="#fcb195"/><stop offset="0.547" stop-color="#fcb69b"/><stop offset="0.565" stop-color="#fcbba1"/><stop offset="0.582" stop-color="#fcc0a7"/><stop offset="0.600" stop-color="#fdc4ad"/><stop offset="0.618" stop-color="#fdc8b3"/><stop offset="0.635" stop-color="#fdccb7"/><stop offset="0.653" stop-color="#fdceba"/><stop offset="0.671" stop-color="#fdd1be"/><stop offset="0.688" stop-color="#fdd3c1"/><stop offset="0.706" stop-color="#fdd5c4"/><stop offset="0.724" stop-color="#fed8c7"/><stop offset="0.741" stop-color="#fedaca"/><stop offset="0.759" stop-color="#feddce"/><stop offset="0.776" stop-color="#fedfd1"/><stop offset="0.794" stop-color="#fee1d3"/><stop offset="0.812" stop-color="#fee2d4"/><stop offset="0.829" stop-color="#fee2d5"/><stop offset="0.847" stop-color="#fee3d6"/><stop offset="0.865" stop-color="#fee4d7"/><stop offset="0.882" stop-color="#fee4d8"/><stop offset="0.900" stop-color="#fee5d9"/><stop offset="0.918" stop-color="#fee6da"/><stop offset="0.935" stop-color="#fee7db"/><stop offset="0.953" stop-color="#fee7dc"/><stop offset="0.971" stop-color="#fee8dd"/><stop offset="0.988" stop-color="#fee9de"/></linearGradient><linearGradient id="gTR20" gradientUnits="userSpaceOnUse" x1="0" y1="8.3" x2="0" y2="217.0"><stop offset="0.000" stop-color="#ffffff"/><stop offset="0.124" stop-color="#ffffff"/><stop offset="0.141" stop-color="#fff4ef"/><stop offset="0.159" stop-color="#fff1eb"/><stop offset="0.176" stop-color="#ffece4"/><stop offset="0.194" stop-color="#fee8de"/><stop offset="0.212" stop-color="#fee5d9"/><stop offset="0.229" stop-color="#fee1d3"/><stop offset="0.247" stop-color="#fdcfbb"/><stop offset="0.265" stop-color="#fca98c"/><stop offset="0.282" stop-color="#fb7c5c"/><stop offset="0.300" stop-color="#f85c41"/><stop offset="0.318" stop-color="#f44d38"/><stop offset="0.335" stop-color="#f24532"/><stop offset="0.353" stop-color="#f03e2e"/><stop offset="0.371" stop-color="#ef3b2c"/><stop offset="0.388" stop-color="#f03e2e"/><stop offset="0.406" stop-color="#f24734"/><stop offset="0.424" stop-color="#f6563d"/><stop offset="0.441" stop-color="#fb6a4a"/><stop offset="0.459" stop-color="#fb7d5d"/><stop offset="0.476" stop-color="#fc9272"/><stop offset="0.494" stop-color="#fca487"/><stop offset="0.512" stop-color="#fcaf93"/><stop offset="0.529" stop-color="#fcb499"/><stop offset="0.547" stop-color="#fcb99f"/><stop offset="0.565" stop-color="#fcbda4"/><stop offset="0.582" stop-color="#fcc2aa"/><stop offset="0.600" stop-color="#fdc6af"/><stop offset="0.618" stop-color="#fdcab4"/><stop offset="0.635" stop-color="#fdccb8"/><stop offset="0.653" stop-color="#fdcfbb"/><stop offset="0.671" stop-color="#fdd1be"/><stop offset="0.688" stop-color="#fdd3c1"/><stop offset="0.706" stop-color="#fdd6c4"/><stop offset="0.724" stop-color="#fed8c8"/><stop offset="0.741" stop-color="#fedacb"/><stop offset="0.759" stop-color="#feddce"/><stop offset="0.776" stop-color="#fedfd1"/><stop offset="0.794" stop-color="#fee1d3"/><stop offset="0.812" stop-color="#fee2d4"/><stop offset="0.829" stop-color="#fee2d5"/><stop offset="0.847" stop-color="#fee3d6"/><stop offset="0.865" stop-color="#fee4d7"/><stop offset="0.882" stop-color="#fee4d8"/><stop offset="0.900" stop-color="#fee5d9"/><stop offset="0.918" stop-color="#fee6da"/><stop offset="0.935" stop-color="#fee7db"/><stop offset="0.953" stop-color="#fee7dc"/><stop offset="0.971" stop-color="#fee8dd"/><stop offset="0.988" stop-color="#fee9de"/></linearGradient><linearGradient id="gTR21" gradientUnits="userSpaceOnUse" x1="0" y1="8.3" x2="0" y2="217.0"><stop offset="0.000" stop-color="#ffffff"/><stop offset="0.124" stop-color="#ffffff"/><stop offset="0.141" stop-color="#fff4ee"/><stop offset="0.159" stop-color="#ffefe8"/><stop offset="0.176" stop-color="#feeae0"/><stop offset="0.194" stop-color="#fee5d9"/><stop offset="0.212" stop-color="#fedccd"/><stop offset="0.229" stop-color="#fcc1a9"/><stop offset="0.247" stop-color="#fc9475"/><stop offset="0.265" stop-color="#fb6d4d"/><stop offset="0.282" stop-color="#f6563d"/><stop offset="0.300" stop-color="#f44d37"/><stop offset="0.318" stop-color="#f24733"/><stop offset="0.335" stop-color="#f04130"/><stop offset="0.353" stop-color="#ef3c2c"/><stop offset="0.371" stop-color="#ee3a2c"/><stop offset="0.388" stop-color="#f03f2e"/><stop offset="0.406" stop-color="#f24834"/><stop offset="0.424" stop-color="#f6573e"/><stop offset="0.441" stop-color="#fb6c4c"/><stop offset="0.459" stop-color="#fc8666"/><stop offset="0.476" stop-color="#fca284"/><stop offset="0.494" stop-color="#fcb095"/><stop offset="0.512" stop-color="#fcb69b"/><stop offset="0.529" stop-color="#fcbaa0"/><stop offset="0.547" stop-color="#fcbea6"/><stop offset="0.565" stop-color="#fcc2ab"/><stop offset="0.582" stop-color="#fdc6b0"/><stop offset="0.600" stop-color="#fdcab4"/><stop offset="0.618" stop-color="#fdccb8"/><stop offset="0.635" stop-color="#fdcebb"/><stop offset="0.653" stop-color="#fdd1bd"/><stop offset="0.671" stop-color="#fdd3c0"/><stop offset="0.688" stop-color="#fdd5c3"/><stop offset="0.706" stop-color="#fed7c6"/><stop offset="0.724" stop-color="#fed9c9"/><stop offset="0.741" stop-color="#fedbcc"/><stop offset="0.759" stop-color="#feddce"/><stop offset="0.776" stop-color="#fedfd1"/><stop offset="0.794" stop-color="#fee1d3"/><stop offset="0.812" stop-color="#fee2d4"/><stop offset="0.829" stop-color="#fee2d5"/><stop offset="0.847" stop-color="#fee3d6"/><stop offset="0.865" stop-color="#fee4d7"/><stop offset="0.882" stop-color="#fee4d8"/><stop offset="0.900" stop-color="#fee5d9"/><stop offset="0.918" stop-color="#fee6da"/><stop offset="0.935" stop-color="#fee7db"/><stop offset="0.953" stop-color="#fee7dc"/><stop offset="0.971" stop-color="#fee8dd"/><stop offset="0.988" stop-color="#fee9de"/></linearGradient><linearGradient id="gTR22" gradientUnits="userSpaceOnUse" x1="0" y1="8.3" x2="0" y2="217.0"><stop offset="0.000" stop-color="#ffffff"/><stop offset="0.106" stop-color="#ffffff"/><stop offset="0.124" stop-color="#fff4ef"/><stop offset="0.141" stop-color="#fff1eb"/><stop offset="0.159" stop-color="#ffede4"/><stop offset="0.176" stop-color="#feeae0"/><stop offset="0.194" stop-color="#fee8dd"/><stop offset="0.212" stop-color="#fee6da"/><stop offset="0.229" stop-color="#fee4d8"/><stop offset="0.247" stop-color="#fee2d4"/><stop offset="0.265" stop-color="#fed9c9"/><stop offset="0.282" stop-color="#fcbea5"/><stop offset="0.300" stop-color="#fc9171"/><stop offset="0.318" stop-color="#fb6a4a"/><stop offset="0.335" stop-color="#f44f39"/><stop offset="0.353" stop-color="#f14230"/><stop offset="0.371" stop-color="#ef3c2d"/><stop offset="0.388" stop-color="#f03f2f"/><stop offset="0.406" stop-color="#f24834"/><stop offset="0.424" stop-color="#f6573e"/><stop offset="0.441" stop-color="#fb6b4b"/><stop offset="0.459" stop-color="#fb7d5d"/><stop offset="0.476" stop-color="#fc8e6e"/><stop offset="0.494" stop-color="#fc9c7e"/><stop offset="0.512" stop-color="#fca88b"/><stop offset="0.529" stop-color="#fcaf93"/><stop offset="0.547" stop-color="#fcb398"/><stop offset="0.565" stop-color="#fcb79d"/><stop offset="0.582" stop-color="#fcbba2"/><stop offset="0.600" stop-color="#fcbfa7"/><stop offset="0.618" stop-color="#fcc3ac"/><stop offset="0.635" stop-color="#fdc7b0"/><stop offset="0.653" stop-color="#fdcab5"/><stop offset="0.671" stop-color="#fdcdb9"/><stop offset="0.688" stop-color="#fdd0bd"/><stop offset="0.706" stop-color="#fdd3c1"/><stop offset="0.724" stop-color="#fdd6c5"/><stop offset="0.741" stop-color="#fed9c8"/><stop offset="0.759" stop-color="#fedccc"/><stop offset="0.776" stop-color="#fedfd0"/><stop offset="0.794" stop-color="#fee1d3"/><stop offset="0.812" stop-color="#fee2d4"/><stop offset="0.829" stop-color="#fee2d5"/><stop offset="0.847" stop-color="#fee3d6"/><stop offset="0.865" stop-color="#fee4d7"/><stop offset="0.882" stop-color="#fee4d8"/><stop offset="0.900" stop-color="#fee5d9"/><stop offset="0.918" stop-color="#fee6da"/><stop offset="0.935" stop-color="#fee7db"/><stop offset="0.953" stop-color="#fee7dc"/><stop offset="0.971" stop-color="#fee8dd"/><stop offset="0.988" stop-color="#fee9de"/></linearGradient><linearGradient id="gTR23" gradientUnits="userSpaceOnUse" x1="0" y1="8.3" x2="0" y2="217.0"><stop offset="0.000" stop-color="#ffffff"/><stop offset="0.106" stop-color="#ffffff"/><stop offset="0.124" stop-color="#fff4ef"/><stop offset="0.141" stop-color="#fff1eb"/><stop offset="0.159" stop-color="#ffede5"/><stop offset="0.176" stop-color="#feeae1"/><stop offset="0.194" stop-color="#fee8de"/><stop offset="0.212" stop-color="#fee7db"/><stop offset="0.229" stop-color="#fee5d9"/><stop offset="0.247" stop-color="#fee3d6"/><stop offset="0.265" stop-color="#fedfd1"/><stop offset="0.282" stop-color="#fdceba"/><stop offset="0.300" stop-color="#fca98c"/><stop offset="0.318" stop-color="#fb7c5c"/><stop offset="0.335" stop-color="#f7593f"/><stop offset="0.353" stop-color="#f24533"/><stop offset="0.371" stop-color="#ef3d2d"/><stop offset="0.388" stop-color="#f03f2e"/><stop offset="0.406" stop-color="#f24734"/><stop offset="0.424" stop-color="#f6563d"/><stop offset="0.441" stop-color="#fb6a4a"/><stop offset="0.459" stop-color="#fb7e5e"/><stop offset="0.476" stop-color="#fc9474"/><stop offset="0.494" stop-color="#fca689"/><stop offset="0.512" stop-color="#fcaf94"/><stop offset="0.529" stop-color="#fcb499"/><stop offset="0.547" stop-color="#fcb99f"/><stop offset="0.565" stop-color="#fcbda4"/><stop offset="0.582" stop-color="#fcc1a9"/><stop offset="0.600" stop-color="#fdc5ae"/><stop offset="0.618" stop-color="#fdc9b3"/><stop offset="0.635" stop-color="#fdccb7"/><stop offset="0.653" stop-color="#fdceba"/><stop offset="0.671" stop-color="#fdd1be"/><stop offset="0.688" stop-color="#fdd3c1"/><stop offset="0.706" stop-color="#fdd5c4"/><stop offset="0.724" stop-color="#fed8c7"/><stop offset="0.741" stop-color="#fedaca"/><stop offset="0.759" stop-color="#feddce"/><stop offset="0.776" stop-color="#fedfd1"/><stop offset="0.794" stop-color="#fee1d3"/><stop offset="0.812" stop-color="#fee2d4"/><stop offset="0.829" stop-color="#fee2d5"/><stop offset="0.847" stop-color="#fee3d6"/><stop offset="0.865" stop-color="#fee4d7"/><stop offset="0.882" stop-color="#fee4d8"/><stop offset="0.900" stop-color="#fee5d9"/><stop offset="0.918" stop-color="#fee6da"/><stop offset="0.935" stop-color="#fee7db"/><stop offset="0.953" stop-color="#fee7dc"/><stop offset="0.971" stop-color="#fee8dd"/><stop offset="0.988" stop-color="#fee9de"/></linearGradient><linearGradient id="gTR24" gradientUnits="userSpaceOnUse" x1="0" y1="8.3" x2="0" y2="217.0"><stop offset="0.000" stop-color="#ffffff"/><stop offset="0.106" stop-color="#ffffff"/><stop offset="0.124" stop-color="#fff4ef"/><stop offset="0.141" stop-color="#fff1eb"/><stop offset="0.159" stop-color="#ffece4"/><stop offset="0.176" stop-color="#fee9de"/><stop offset="0.194" stop-color="#fee5da"/><stop offset="0.212" stop-color="#fee1d3"/><stop offset="0.229" stop-color="#fdcfbb"/><stop offset="0.247" stop-color="#fca98c"/><stop offset="0.265" stop-color="#fb7c5c"/><stop offset="0.282" stop-color="#f85e42"/><stop offset="0.300" stop-color="#f4503a"/><stop offset="0.318" stop-color="#f34a36"/><stop offset="0.335" stop-color="#f14432"/><stop offset="0.353" stop-color="#f03f2f"/><stop offset="0.371" stop-color="#ef3b2c"/><stop offset="0.388" stop-color="#ef3b2c"/><stop offset="0.406" stop-color="#f04130"/><stop offset="0.424" stop-color="#f34b36"/><stop offset="0.441" stop-color="#f75b40"/><stop offset="0.459" stop-color="#fb6f4f"/><stop offset="0.476" stop-color="#fc8060"/><stop offset="0.494" stop-color="#fc8d6d"/><stop offset="0.512" stop-color="#fc9879"/><stop offset="0.529" stop-color="#fca284"/><stop offset="0.547" stop-color="#fcaa8d"/><stop offset="0.565" stop-color="#fcaf93"/><stop offset="0.582" stop-color="#fcb398"/><stop offset="0.600" stop-color="#fcb79c"/><stop offset="0.618" stop-color="#fcbba1"/><stop offset="0.635" stop-color="#fcbea5"/><stop offset="0.653" stop-color="#fcc2aa"/><stop offset="0.671" stop-color="#fdc5ae"/><stop offset="0.688" stop-color="#fdc9b3"/><stop offset="0.706" stop-color="#fdccb8"/><stop offset="0.724" stop-color="#fdd1be"/><stop offset="0.741" stop-color="#fdd5c3"/><stop offset="0.759" stop-color="#fed9c9"/><stop offset="0.776" stop-color="#feddce"/><stop offset="0.794" stop-color="#fee0d2"/><stop offset="0.812" stop-color="#fee1d4"/><stop offset="0.829" stop-color="#fee2d5"/><stop offset="0.847" stop-color="#fee3d6"/><stop offset="0.865" stop-color="#fee4d7"/><stop offset="0.882" stop-color="#fee4d8"/><stop offset="0.900" stop-color="#fee5d9"/><stop offset="0.918" stop-color="#fee6da"/><stop offset="0.935" stop-color="#fee7db"/><stop offset="0.953" stop-color="#fee7dc"/><stop offset="0.971" stop-color="#fee8dd"/><stop offset="0.988" stop-color="#fee9de"/></linearGradient><linearGradient id="gTR25" gradientUnits="userSpaceOnUse" x1="0" y1="8.3" x2="0" y2="217.0"><stop offset="0.000" stop-color="#ffffff"/><stop offset="0.124" stop-color="#ffffff"/><stop offset="0.141" stop-color="#fff4ee"/><stop offset="0.159" stop-color="#fff0e9"/><stop offset="0.176" stop-color="#ffece3"/><stop offset="0.194" stop-color="#fee9df"/><stop offset="0.212" stop-color="#fee7dd"/><stop offset="0.229" stop-color="#fee5da"/><stop offset="0.247" stop-color="#fee3d7"/><stop offset="0.265" stop-color="#fee0d2"/><stop offset="0.282" stop-color="#fdd1be"/><stop offset="0.300" stop-color="#fcad91"/><stop offset="0.318" stop-color="#fc8060"/><stop offset="0.335" stop-color="#f85d42"/><stop offset="0.353" stop-color="#f34a35"/><stop offset="0.371" stop-color="#f03f2f"/><stop offset="0.388" stop-color="#ef3c2d"/><stop offset="0.406" stop-color="#f04130"/><stop offset="0.424" stop-color="#f34b36"/><stop offset="0.441" stop-color="#f75b40"/><stop offset="0.459" stop-color="#fb6f4f"/><stop offset="0.476" stop-color="#fc8262"/><stop offset="0.494" stop-color="#fc9475"/><stop offset="0.512" stop-color="#fca486"/><stop offset="0.529" stop-color="#fcad91"/><stop offset="0.547" stop-color="#fcb196"/><stop offset="0.565" stop-color="#fcb59a"/><stop offset="0.582" stop-color="#fcb99f"/><stop offset="0.600" stop-color="#fcbca3"/><stop offset="0.618" stop-color="#fcc0a7"/><stop offset="0.635" stop-color="#fcc3ac"/><stop offset="0.653" stop-color="#fdc6b0"/><stop offset="0.671" stop-color="#fdcab5"/><stop offset="0.688" stop-color="#fdcdb9"/><stop offset="0.706" stop-color="#fdd1be"/><stop offset="0.724" stop-color="#fdd4c2"/><stop offset="0.741" stop-color="#fed7c7"/><stop offset="0.759" stop-color="#fedbcb"/><stop offset="0.776" stop-color="#fedecf"/><stop offset="0.794" stop-color="#fee0d3"/><stop offset="0.812" stop-color="#fee2d4"/><stop offset="0.829" stop-color="#fee2d5"/><stop offset="0.847" stop-color="#fee3d6"/><stop offset="0.865" stop-color="#fee4d7"/><stop offset="0.882" stop-color="#fee4d8"/><stop offset="0.900" stop-color="#fee5d9"/><stop offset="0.918" stop-color="#fee6da"/><stop offset="0.935" stop-color="#fee7db"/><stop offset="0.953" stop-color="#fee7dc"/><stop offset="0.971" stop-color="#fee8dd"/><stop offset="0.988" stop-color="#fee9de"/></linearGradient><linearGradient id="gTR26" gradientUnits="userSpaceOnUse" x1="0" y1="8.3" x2="0" y2="217.0"><stop offset="0.000" stop-color="#ffffff"/><stop offset="0.124" stop-color="#ffffff"/><stop offset="0.141" stop-color="#fff4ef"/><stop offset="0.159" stop-color="#fff1eb"/><stop offset="0.176" stop-color="#ffede4"/><stop offset="0.194" stop-color="#feeae0"/><stop offset="0.212" stop-color="#fee8de"/><stop offset="0.229" stop-color="#fee6db"/><stop offset="0.247" stop-color="#fee4d8"/><stop offset="0.265" stop-color="#fee2d5"/><stop offset="0.282" stop-color="#fedbcc"/><stop offset="0.300" stop-color="#fcc4ad"/><stop offset="0.318" stop-color="#fc997a"/><stop offset="0.335" stop-color="#fb7050"/><stop offset="0.353" stop-color="#f5543c"/><stop offset="0.371" stop-color="#f24734"/><stop offset="0.388" stop-color="#f03e2e"/><stop offset="0.406" stop-color="#ef3b2c"/><stop offset="0.424" stop-color="#f0402f"/><stop offset="0.441" stop-color="#f34a36"/><stop offset="0.459" stop-color="#f75a40"/><stop offset="0.476" stop-color="#fb6e4e"/><stop offset="0.494" stop-color="#fc8161"/><stop offset="0.512" stop-color="#fc9475"/><stop offset="0.529" stop-color="#fca587"/><stop offset="0.547" stop-color="#fcae92"/><stop offset="0.565" stop-color="#fcb398"/><stop offset="0.582" stop-color="#fcb89d"/><stop offset="0.600" stop-color="#fcbca3"/><stop offset="0.618" stop-color="#fcc0a8"/><stop offset="0.635" stop-color="#fdc4ae"/><stop offset="0.653" stop-color="#fdc8b3"/><stop offset="0.671" stop-color="#fdccb7"/><stop offset="0.688" stop-color="#fdcfbc"/><stop offset="0.706" stop-color="#fdd2c0"/><stop offset="0.724" stop-color="#fdd5c4"/><stop offset="0.741" stop-color="#fed8c8"/><stop offset="0.759" stop-color="#fedbcc"/><stop offset="0.776" stop-color="#feded0"/><stop offset="0.794" stop-color="#fee1d3"/><stop offset="0.812" stop-color="#fee2d4"/><stop offset="0.829" stop-color="#fee2d5"/><stop offset="0.847" stop-color="#fee3d6"/><stop offset="0.865" stop-color="#fee4d7"/><stop offset="0.882" stop-color="#fee4d8"/><stop offset="0.900" stop-color="#fee5d9"/><stop offset="0.918" stop-color="#fee6da"/><stop offset="0.935" stop-color="#fee7db"/><stop offset="0.953" stop-color="#fee7dc"/><stop offset="0.971" stop-color="#fee8dd"/><stop offset="0.988" stop-color="#fee9de"/></linearGradient><linearGradient id="gTR27" gradientUnits="userSpaceOnUse" x1="0" y1="8.3" x2="0" y2="217.0"><stop offset="0.000" stop-color="#ffffff"/><stop offset="0.124" stop-color="#ffffff"/><stop offset="0.141" stop-color="#fff4ef"/><stop offset="0.159" stop-color="#fff1eb"/><stop offset="0.176" stop-color="#ffede4"/><stop offset="0.194" stop-color="#fee9df"/><stop offset="0.212" stop-color="#fee7dc"/><stop offset="0.229" stop-color="#fee5d8"/><stop offset="0.247" stop-color="#fee2d4"/><stop offset="0.265" stop-color="#fdd6c4"/><stop offset="0.282" stop-color="#fcb69b"/><stop offset="0.300" stop-color="#fc8969"/><stop offset="0.318" stop-color="#fa6547"/><stop offset="0.335" stop-color="#f5513a"/><stop offset="0.353" stop-color="#f34935"/><stop offset="0.371" stop-color="#f14230"/><stop offset="0.388" stop-color="#ef3c2d"/><stop offset="0.406" stop-color="#ef3b2c"/><stop offset="0.424" stop-color="#f0402f"/><stop offset="0.441" stop-color="#f34a36"/><stop offset="0.459" stop-color="#f75a40"/><stop offset="0.476" stop-color="#fb7050"/><stop offset="0.494" stop-color="#fc8d6d"/><stop offset="0.512" stop-color="#fca78a"/><stop offset="0.529" stop-color="#fcb196"/><stop offset="0.547" stop-color="#fcb69b"/><stop offset="0.565" stop-color="#fcbaa0"/><stop offset="0.582" stop-color="#fcbea6"/><stop offset="0.600" stop-color="#fcc2ab"/><stop offset="0.618" stop-color="#fdc6b0"/><stop offset="0.635" stop-color="#fdcab4"/><stop offset="0.653" stop-color="#fdcdb8"/><stop offset="0.671" stop-color="#fdcfbc"/><stop offset="0.688" stop-color="#fdd2bf"/><stop offset="0.706" stop-color="#fdd4c3"/><stop offset="0.724" stop-color="#fed7c6"/><stop offset="0.741" stop-color="#fedaca"/><stop offset="0.759" stop-color="#fedccd"/><stop offset="0.776" stop-color="#fedfd0"/><stop offset="0.794" stop-color="#fee1d3"/><stop offset="0.812" stop-color="#fee2d4"/><stop offset="0.829" stop-color="#fee2d5"/><stop offset="0.847" stop-color="#fee3d6"/><stop offset="0.865" stop-color="#fee4d7"/><stop offset="0.882" stop-color="#fee4d8"/><stop offset="0.900" stop-color="#fee5d9"/><stop offset="0.918" stop-color="#fee6da"/><stop offset="0.935" stop-color="#fee7db"/><stop offset="0.953" stop-color="#fee7dc"/><stop offset="0.971" stop-color="#fee8dd"/><stop offset="0.988" stop-color="#fee9de"/></linearGradient><linearGradient id="gTR28" gradientUnits="userSpaceOnUse" x1="0" y1="8.3" x2="0" y2="217.0"><stop offset="0.000" stop-color="#ffffff"/><stop offset="0.141" stop-color="#ffffff"/><stop offset="0.159" stop-color="#fff4ee"/><stop offset="0.176" stop-color="#fff0e9"/><stop offset="0.194" stop-color="#ffece3"/><stop offset="0.212" stop-color="#fee9df"/><stop offset="0.229" stop-color="#fee7dc"/><stop offset="0.247" stop-color="#fee5d9"/><stop offset="0.265" stop-color="#fee3d6"/><stop offset="0.282" stop-color="#feded0"/><stop offset="0.300" stop-color="#fdcbb6"/><stop offset="0.318" stop-color="#fca487"/><stop offset="0.335" stop-color="#fb7858"/><stop offset="0.353" stop-color="#f7593f"/><stop offset="0.371" stop-color="#f34a36"/><stop offset="0.388" stop-color="#f14130"/><stop offset="0.406" stop-color="#ef3b2c"/><stop offset="0.424" stop-color="#f03d2d"/><stop offset="0.441" stop-color="#f24533"/><stop offset="0.459" stop-color="#f5523b"/><stop offset="0.476" stop-color="#fa6547"/><stop offset="0.494" stop-color="#fb7959"/><stop offset="0.512" stop-color="#fc8c6c"/><stop offset="0.529" stop-color="#fc9e80"/><stop offset="0.547" stop-color="#fcaa8d"/><stop offset="0.565" stop-color="#fcb094"/><stop offset="0.582" stop-color="#fcb499"/><stop offset="0.600" stop-color="#fcb89d"/><stop offset="0.618" stop-color="#fcbca2"/><stop offset="0.635" stop-color="#fcbfa6"/><stop offset="0.653" stop-color="#fcc2ab"/><stop offset="0.671" stop-color="#fdc6af"/><stop offset="0.688" stop-color="#fdc9b4"/><stop offset="0.706" stop-color="#fdcdb9"/><stop offset="0.724" stop-color="#fdd1be"/><stop offset="0.741" stop-color="#fdd5c4"/><stop offset="0.759" stop-color="#fed9c9"/><stop offset="0.776" stop-color="#feddce"/><stop offset="0.794" stop-color="#fee0d2"/><stop offset="0.812" stop-color="#fee1d4"/><stop offset="0.829" stop-color="#fee2d5"/><stop offset="0.847" stop-color="#fee3d6"/><stop offset="0.865" stop-color="#fee4d7"/><stop offset="0.882" stop-color="#fee4d8"/><stop offset="0.900" stop-color="#fee5d9"/><stop offset="0.918" stop-color="#fee6da"/><stop offset="0.935" stop-color="#fee7db"/><stop offset="0.953" stop-color="#fee7dc"/><stop offset="0.971" stop-color="#fee8dd"/><stop offset="0.988" stop-color="#fee9de"/></linearGradient><linearGradient id="gTR29" gradientUnits="userSpaceOnUse" x1="0" y1="8.3" x2="0" y2="217.0"><stop offset="0.000" stop-color="#ffffff"/><stop offset="0.141" stop-color="#ffffff"/><stop offset="0.159" stop-color="#fff4ef"/><stop offset="0.176" stop-color="#fff1ea"/><stop offset="0.194" stop-color="#ffece4"/><stop offset="0.212" stop-color="#fee9df"/><stop offset="0.229" stop-color="#fee6db"/><stop offset="0.247" stop-color="#fee4d7"/><stop offset="0.265" stop-color="#feded0"/><stop offset="0.282" stop-color="#fdc8b3"/><stop offset="0.300" stop-color="#fc9f81"/><stop offset="0.318" stop-color="#fb7555"/><stop offset="0.335" stop-color="#f7593f"/><stop offset="0.353" stop-color="#f34c37"/><stop offset="0.371" stop-color="#f24532"/><stop offset="0.388" stop-color="#f03f2e"/><stop offset="0.406" stop-color="#ef3b2c"/><stop offset="0.424" stop-color="#ef3d2d"/><stop offset="0.441" stop-color="#f24532"/><stop offset="0.459" stop-color="#f5523a"/><stop offset="0.476" stop-color="#fa6547"/><stop offset="0.494" stop-color="#fb7a5a"/><stop offset="0.512" stop-color="#fc9272"/><stop offset="0.529" stop-color="#fca78a"/><stop offset="0.547" stop-color="#fcb296"/><stop offset="0.565" stop-color="#fcb89d"/><stop offset="0.582" stop-color="#fcbda3"/><stop offset="0.600" stop-color="#fcc2aa"/><stop offset="0.618" stop-color="#fdc6b0"/><stop offset="0.635" stop-color="#fdcab5"/><stop offset="0.653" stop-color="#fdcdb9"/><stop offset="0.671" stop-color="#fdd0bc"/><stop offset="0.688" stop-color="#fdd2c0"/><stop offset="0.706" stop-color="#fdd5c3"/><stop offset="0.724" stop-color="#fed7c7"/><stop offset="0.741" stop-color="#fedaca"/><stop offset="0.759" stop-color="#fedccd"/><stop offset="0.776" stop-color="#fedfd1"/><stop offset="0.794" stop-color="#fee1d3"/><stop offset="0.812" stop-color="#fee2d4"/><stop offset="0.829" stop-color="#fee2d5"/><stop offset="0.847" stop-color="#fee3d6"/><stop offset="0.865" stop-color="#fee4d7"/><stop offset="0.882" stop-color="#fee4d8"/><stop offset="0.900" stop-color="#fee5d9"/><stop offset="0.918" stop-color="#fee6da"/><stop offset="0.935" stop-color="#fee7db"/><stop offset="0.953" stop-color="#fee7dc"/><stop offset="0.971" stop-color="#fee8dd"/><stop offset="0.988" stop-color="#fee9de"/></linearGradient><linearGradient id="gTR30" gradientUnits="userSpaceOnUse" x1="0" y1="8.3" x2="0" y2="217.0"><stop offset="0.000" stop-color="#ffffff"/><stop offset="0.159" stop-color="#ffffff"/><stop offset="0.176" stop-color="#fff4ee"/><stop offset="0.194" stop-color="#fff0e8"/><stop offset="0.212" stop-color="#ffebe2"/><stop offset="0.229" stop-color="#fee9de"/><stop offset="0.247" stop-color="#fee6db"/><stop offset="0.265" stop-color="#fee4d8"/><stop offset="0.282" stop-color="#fee1d3"/><stop offset="0.300" stop-color="#fdd2bf"/><stop offset="0.318" stop-color="#fcaf93"/><stop offset="0.335" stop-color="#fc8161"/><stop offset="0.353" stop-color="#f85f43"/><stop offset="0.371" stop-color="#f34c37"/><stop offset="0.388" stop-color="#f14230"/><stop offset="0.406" stop-color="#ef3c2d"/><stop offset="0.424" stop-color="#f03d2d"/><stop offset="0.441" stop-color="#f24532"/><stop offset="0.459" stop-color="#f5523a"/><stop offset="0.476" stop-color="#fa6446"/><stop offset="0.494" stop-color="#fb7757"/><stop offset="0.512" stop-color="#fc8767"/><stop offset="0.529" stop-color="#fc9374"/><stop offset="0.547" stop-color="#fc9f81"/><stop offset="0.565" stop-color="#fca88b"/><stop offset="0.582" stop-color="#fcae92"/><stop offset="0.600" stop-color="#fcb297"/><stop offset="0.618" stop-color="#fcb69b"/><stop offset="0.635" stop-color="#fcba9f"/><stop offset="0.653" stop-color="#fcbda4"/><stop offset="0.671" stop-color="#fcc0a8"/><stop offset="0.688" stop-color="#fcc4ad"/><stop offset="0.706" stop-color="#fdc7b1"/><stop offset="0.724" stop-color="#fdcbb7"/><stop offset="0.741" stop-color="#fdd1be"/><stop offset="0.759" stop-color="#fdd6c5"/><stop offset="0.776" stop-color="#fedccc"/><stop offset="0.794" stop-color="#fee0d2"/><stop offset="0.812" stop-color="#fee1d4"/><stop offset="0.829" stop-color="#fee2d5"/><stop offset="0.847" stop-color="#fee3d6"/><stop offset="0.865" stop-color="#fee4d7"/><stop offset="0.882" stop-color="#fee4d8"/><stop offset="0.900" stop-color="#fee5d9"/><stop offset="0.918" stop-color="#fee6da"/><stop offset="0.935" stop-color="#fee7db"/><stop offset="0.953" stop-color="#fee7dc"/><stop offset="0.971" stop-color="#fee8dd"/><stop offset="0.988" stop-color="#fee9de"/></linearGradient><linearGradient id="gTR31" gradientUnits="userSpaceOnUse" x1="0" y1="8.3" x2="0" y2="217.0"><stop offset="0.000" stop-color="#ffffff"/><stop offset="0.141" stop-color="#ffffff"/><stop offset="0.159" stop-color="#fff4ef"/><stop offset="0.176" stop-color="#fff1ea"/><stop offset="0.194" stop-color="#ffece3"/><stop offset="0.212" stop-color="#fee7dc"/><stop offset="0.229" stop-color="#fee1d4"/><stop offset="0.247" stop-color="#fdcdb9"/><stop offset="0.265" stop-color="#fca689"/><stop offset="0.282" stop-color="#fb7a5a"/><stop offset="0.300" stop-color="#f85d41"/><stop offset="0.318" stop-color="#f4503a"/><stop offset="0.335" stop-color="#f34b36"/><stop offset="0.353" stop-color="#f24633"/><stop offset="0.371" stop-color="#f04130"/><stop offset="0.388" stop-color="#ef3c2d"/><stop offset="0.406" stop-color="#ee3a2c"/><stop offset="0.424" stop-color="#ef3d2d"/><stop offset="0.441" stop-color="#f24532"/><stop offset="0.459" stop-color="#f5523a"/><stop offset="0.476" stop-color="#fa6446"/><stop offset="0.494" stop-color="#fb7858"/><stop offset="0.512" stop-color="#fc8969"/><stop offset="0.529" stop-color="#fc9879"/><stop offset="0.547" stop-color="#fca587"/><stop offset="0.565" stop-color="#fcad91"/><stop offset="0.582" stop-color="#fcb297"/><stop offset="0.600" stop-color="#fcb69b"/><stop offset="0.618" stop-color="#fcbaa0"/><stop offset="0.635" stop-color="#fcbea5"/><stop offset="0.653" stop-color="#fcc2aa"/><stop offset="0.671" stop-color="#fdc5af"/><stop offset="0.688" stop-color="#fdc9b4"/><stop offset="0.706" stop-color="#fdcdb9"/><stop offset="0.724" stop-color="#fdd1be"/><stop offset="0.741" stop-color="#fdd5c4"/><stop offset="0.759" stop-color="#fed9c9"/><stop offset="0.776" stop-color="#feddce"/><stop offset="0.794" stop-color="#fee0d2"/><stop offset="0.812" stop-color="#fee1d4"/><stop offset="0.829" stop-color="#fee2d5"/><stop offset="0.847" stop-color="#fee3d6"/><stop offset="0.865" stop-color="#fee4d7"/><stop offset="0.882" stop-color="#fee4d8"/><stop offset="0.900" stop-color="#fee5d9"/><stop offset="0.918" stop-color="#fee6da"/><stop offset="0.935" stop-color="#fee7db"/><stop offset="0.953" stop-color="#fee7dc"/><stop offset="0.971" stop-color="#fee8dd"/><stop offset="0.988" stop-color="#fee9de"/></linearGradient><linearGradient id="gTR32" gradientUnits="userSpaceOnUse" x1="0" y1="8.3" x2="0" y2="217.0"><stop offset="0.000" stop-color="#ffffff"/><stop offset="0.141" stop-color="#ffffff"/><stop offset="0.159" stop-color="#fff3ed"/><stop offset="0.176" stop-color="#ffeee6"/><stop offset="0.194" stop-color="#ffebe2"/><stop offset="0.212" stop-color="#fee9df"/><stop offset="0.229" stop-color="#fee7dc"/><stop offset="0.247" stop-color="#fee5d9"/><stop offset="0.265" stop-color="#fee3d6"/><stop offset="0.282" stop-color="#feded0"/><stop offset="0.300" stop-color="#fdcbb6"/><stop offset="0.318" stop-color="#fca487"/><stop offset="0.335" stop-color="#fb7858"/><stop offset="0.353" stop-color="#f7593f"/><stop offset="0.371" stop-color="#f24834"/><stop offset="0.388" stop-color="#f03f2e"/><stop offset="0.406" stop-color="#ef3c2c"/><stop offset="0.424" stop-color="#f0402f"/><stop offset="0.441" stop-color="#f34b36"/><stop offset="0.459" stop-color="#f75a40"/><stop offset="0.476" stop-color="#fb6f4f"/><stop offset="0.494" stop-color="#fc8363"/><stop offset="0.512" stop-color="#fc997a"/><stop offset="0.529" stop-color="#fca88c"/><stop offset="0.547" stop-color="#fcb094"/><stop offset="0.565" stop-color="#fcb499"/><stop offset="0.582" stop-color="#fcb89e"/><stop offset="0.600" stop-color="#fcbca3"/><stop offset="0.618" stop-color="#fcc0a7"/><stop offset="0.635" stop-color="#fcc3ac"/><stop offset="0.653" stop-color="#fdc7b1"/><stop offset="0.671" stop-color="#fdcab6"/><stop offset="0.688" stop-color="#fdceba"/><stop offset="0.706" stop-color="#fdd1be"/><stop offset="0.724" stop-color="#fdd4c3"/><stop offset="0.741" stop-color="#fed8c7"/><stop offset="0.759" stop-color="#fedbcb"/><stop offset="0.776" stop-color="#feded0"/><stop offset="0.794" stop-color="#fee0d3"/><stop offset="0.812" stop-color="#fee2d4"/><stop offset="0.829" stop-color="#fee2d5"/><stop offset="0.847" stop-color="#fee3d6"/><stop offset="0.865" stop-color="#fee4d7"/><stop offset="0.882" stop-color="#fee4d8"/><stop offset="0.900" stop-color="#fee5d9"/><stop offset="0.918" stop-color="#fee6da"/><stop offset="0.935" stop-color="#fee7db"/><stop offset="0.953" stop-color="#fee7dc"/><stop offset="0.971" stop-color="#fee8dd"/><stop offset="0.988" stop-color="#fee9de"/></linearGradient><linearGradient id="gTR33" gradientUnits="userSpaceOnUse" x1="0" y1="8.3" x2="0" y2="217.0"><stop offset="0.000" stop-color="#ffffff"/><stop offset="0.124" stop-color="#ffffff"/><stop offset="0.141" stop-color="#fff3ed"/><stop offset="0.159" stop-color="#ffeee6"/><stop offset="0.176" stop-color="#ffebe1"/><stop offset="0.194" stop-color="#fee8de"/><stop offset="0.212" stop-color="#fee6db"/><stop offset="0.229" stop-color="#fee4d7"/><stop offset="0.247" stop-color="#fee1d3"/><stop offset="0.265" stop-color="#fdd2c0"/><stop offset="0.282" stop-color="#fcb095"/><stop offset="0.300" stop-color="#fc8363"/><stop offset="0.318" stop-color="#f96144"/><stop offset="0.335" stop-color="#f45039"/><stop offset="0.353" stop-color="#f24734"/><stop offset="0.371" stop-color="#f04130"/><stop offset="0.388" stop-color="#ef3b2c"/><stop offset="0.406" stop-color="#ef3c2c"/><stop offset="0.424" stop-color="#f14231"/><stop offset="0.441" stop-color="#f44d38"/><stop offset="0.459" stop-color="#f85f43"/><stop offset="0.476" stop-color="#fb7656"/><stop offset="0.494" stop-color="#fc9474"/><stop offset="0.512" stop-color="#fcac90"/><stop offset="0.529" stop-color="#fcb79c"/><stop offset="0.547" stop-color="#fcbda4"/><stop offset="0.565" stop-color="#fcc3ac"/><stop offset="0.582" stop-color="#fdc8b2"/><stop offset="0.600" stop-color="#fdcbb7"/><stop offset="0.618" stop-color="#fdceba"/><stop offset="0.635" stop-color="#fdd0bc"/><stop offset="0.653" stop-color="#fdd2bf"/><stop offset="0.671" stop-color="#fdd4c1"/><stop offset="0.688" stop-color="#fdd6c4"/><stop offset="0.706" stop-color="#fed8c7"/><stop offset="0.724" stop-color="#fed9c9"/><stop offset="0.741" stop-color="#fedbcc"/><stop offset="0.759" stop-color="#feddcf"/><stop offset="0.776" stop-color="#fedfd1"/><stop offset="0.794" stop-color="#fee1d3"/><stop offset="0.812" stop-color="#fee2d4"/><stop offset="0.829" stop-color="#fee2d5"/><stop offset="0.847" stop-color="#fee3d6"/><stop offset="0.865" stop-color="#fee4d7"/><stop offset="0.882" stop-color="#fee4d8"/><stop offset="0.900" stop-color="#fee5d9"/><stop offset="0.918" stop-color="#fee6da"/><stop offset="0.935" stop-color="#fee7db"/><stop offset="0.953" stop-color="#fee7dc"/><stop offset="0.971" stop-color="#fee8dd"/><stop offset="0.988" stop-color="#fee9de"/></linearGradient><linearGradient id="gTR34" gradientUnits="userSpaceOnUse" x1="0" y1="8.3" x2="0" y2="217.0"><stop offset="0.000" stop-color="#ffffff"/><stop offset="0.141" stop-color="#ffffff"/><stop offset="0.159" stop-color="#fff4ef"/><stop offset="0.176" stop-color="#fff1eb"/><stop offset="0.194" stop-color="#ffede4"/><stop offset="0.212" stop-color="#feeae0"/><stop offset="0.229" stop-color="#fee8dd"/><stop offset="0.247" stop-color="#fee6da"/><stop offset="0.265" stop-color="#fee4d8"/><stop offset="0.282" stop-color="#fee2d4"/><stop offset="0.300" stop-color="#fed9c9"/><stop offset="0.318" stop-color="#fcbfa7"/><stop offset="0.335" stop-color="#fc9272"/><stop offset="0.353" stop-color="#fa6849"/><stop offset="0.371" stop-color="#f24834"/><stop offset="0.388" stop-color="#f03f2e"/><stop offset="0.406" stop-color="#f14331"/><stop offset="0.424" stop-color="#f44f39"/><stop offset="0.441" stop-color="#f96144"/><stop offset="0.459" stop-color="#fb7555"/><stop offset="0.476" stop-color="#fc8868"/><stop offset="0.494" stop-color="#fc9a7b"/><stop offset="0.512" stop-color="#fca88b"/><stop offset="0.529" stop-color="#fcb094"/><stop offset="0.547" stop-color="#fcb59a"/><stop offset="0.565" stop-color="#fcb99f"/><stop offset="0.582" stop-color="#fcbea4"/><stop offset="0.600" stop-color="#fcc2aa"/><stop offset="0.618" stop-color="#fdc6af"/><stop offset="0.635" stop-color="#fdcab4"/><stop offset="0.653" stop-color="#fdcdb8"/><stop offset="0.671" stop-color="#fdcfbc"/><stop offset="0.688" stop-color="#fdd2bf"/><stop offset="0.706" stop-color="#fdd4c3"/><stop offset="0.724" stop-color="#fed7c6"/><stop offset="0.741" stop-color="#fedaca"/><stop offset="0.759" stop-color="#fedccd"/><stop offset="0.776" stop-color="#fedfd0"/><stop offset="0.794" stop-color="#fee1d3"/><stop offset="0.812" stop-color="#fee2d4"/><stop offset="0.829" stop-color="#fee2d5"/><stop offset="0.847" stop-color="#fee3d6"/><stop offset="0.865" stop-color="#fee4d7"/><stop offset="0.882" stop-color="#fee4d8"/><stop offset="0.900" stop-color="#fee5d9"/><stop offset="0.918" stop-color="#fee6da"/><stop offset="0.935" stop-color="#fee7db"/><stop offset="0.953" stop-color="#fee7dc"/><stop offset="0.971" stop-color="#fee8dd"/><stop offset="0.988" stop-color="#fee9de"/></linearGradient><linearGradient id="gTR35" gradientUnits="userSpaceOnUse" x1="0" y1="8.3" x2="0" y2="217.0"><stop offset="0.000" stop-color="#ffffff"/><stop offset="0.124" stop-color="#ffffff"/><stop offset="0.141" stop-color="#fff4ef"/><stop offset="0.159" stop-color="#fff1eb"/><stop offset="0.176" stop-color="#ffede4"/><stop offset="0.194" stop-color="#feeae0"/><stop offset="0.212" stop-color="#fee7dc"/><stop offset="0.229" stop-color="#fee5d9"/><stop offset="0.247" stop-color="#fee2d5"/><stop offset="0.265" stop-color="#fedaca"/><stop offset="0.282" stop-color="#fcbfa7"/><stop offset="0.300" stop-color="#fc9373"/><stop offset="0.318" stop-color="#fb6b4b"/><stop offset="0.335" stop-color="#f5513a"/><stop offset="0.353" stop-color="#f14432"/><stop offset="0.371" stop-color="#ef3d2d"/><stop offset="0.388" stop-color="#ef3c2d"/><stop offset="0.406" stop-color="#f14331"/><stop offset="0.424" stop-color="#f44f39"/><stop offset="0.441" stop-color="#f96144"/><stop offset="0.459" stop-color="#fb7757"/><stop offset="0.476" stop-color="#fc9070"/><stop offset="0.494" stop-color="#fca78a"/><stop offset="0.512" stop-color="#fcb196"/><stop offset="0.529" stop-color="#fcb79c"/><stop offset="0.547" stop-color="#fcbba1"/><stop offset="0.565" stop-color="#fcc0a7"/><stop offset="0.582" stop-color="#fcc4ad"/><stop offset="0.600" stop-color="#fdc8b2"/><stop offset="0.618" stop-color="#fdcbb6"/><stop offset="0.635" stop-color="#fdceba"/><stop offset="0.653" stop-color="#fdd0bd"/><stop offset="0.671" stop-color="#fdd2bf"/><stop offset="0.688" stop-color="#fdd4c2"/><stop offset="0.706" stop-color="#fdd6c5"/><stop offset="0.724" stop-color="#fed9c8"/><stop offset="0.741" stop-color="#fedbcb"/><stop offset="0.759" stop-color="#feddce"/><stop offset="0.776" stop-color="#fedfd1"/><stop offset="0.794" stop-color="#fee1d3"/><stop offset="0.812" stop-color="#fee2d4"/><stop offset="0.829" stop-color="#fee2d5"/><stop offset="0.847" stop-color="#fee3d6"/><stop offset="0.865" stop-color="#fee4d7"/><stop offset="0.882" stop-color="#fee4d8"/><stop offset="0.900" stop-color="#fee5d9"/><stop offset="0.918" stop-color="#fee6da"/><stop offset="0.935" stop-color="#fee7db"/><stop offset="0.953" stop-color="#fee7dc"/><stop offset="0.971" stop-color="#fee8dd"/><stop offset="0.988" stop-color="#fee9de"/></linearGradient><linearGradient id="gTR36" gradientUnits="userSpaceOnUse" x1="0" y1="8.3" x2="0" y2="217.0"><stop offset="0.000" stop-color="#ffffff"/><stop offset="0.124" stop-color="#ffffff"/><stop offset="0.141" stop-color="#fff4ef"/><stop offset="0.159" stop-color="#fff1eb"/><stop offset="0.176" stop-color="#ffede4"/><stop offset="0.194" stop-color="#feeae0"/><stop offset="0.212" stop-color="#fee8dd"/><stop offset="0.229" stop-color="#fee5da"/><stop offset="0.247" stop-color="#fee3d7"/><stop offset="0.265" stop-color="#fee0d2"/><stop offset="0.282" stop-color="#fdd0bd"/><stop offset="0.300" stop-color="#fcac8f"/><stop offset="0.318" stop-color="#fc7f5f"/><stop offset="0.335" stop-color="#f85d42"/><stop offset="0.353" stop-color="#f34c37"/><stop offset="0.371" stop-color="#f14331"/><stop offset="0.388" stop-color="#ef3c2d"/><stop offset="0.406" stop-color="#ef3c2c"/><stop offset="0.424" stop-color="#f14231"/><stop offset="0.441" stop-color="#f44d38"/><stop offset="0.459" stop-color="#f85f43"/><stop offset="0.476" stop-color="#fb7454"/><stop offset="0.494" stop-color="#fc8f6f"/><stop offset="0.512" stop-color="#fca689"/><stop offset="0.529" stop-color="#fcb195"/><stop offset="0.547" stop-color="#fcb69b"/><stop offset="0.565" stop-color="#fcbaa0"/><stop offset="0.582" stop-color="#fcbea5"/><stop offset="0.600" stop-color="#fcc2aa"/><stop offset="0.618" stop-color="#fdc6b0"/><stop offset="0.635" stop-color="#fdcab4"/><stop offset="0.653" stop-color="#fdcdb8"/><stop offset="0.671" stop-color="#fdcfbc"/><stop offset="0.688" stop-color="#fdd2bf"/><stop offset="0.706" stop-color="#fdd4c3"/><stop offset="0.724" stop-color="#fed7c6"/><stop offset="0.741" stop-color="#fedaca"/><stop offset="0.759" stop-color="#fedccd"/><stop offset="0.776" stop-color="#fedfd0"/><stop offset="0.794" stop-color="#fee1d3"/><stop offset="0.812" stop-color="#fee2d4"/><stop offset="0.829" stop-color="#fee2d5"/><stop offset="0.847" stop-color="#fee3d6"/><stop offset="0.865" stop-color="#fee4d7"/><stop offset="0.882" stop-color="#fee4d8"/><stop offset="0.900" stop-color="#fee5d9"/><stop offset="0.918" stop-color="#fee6da"/><stop offset="0.935" stop-color="#fee7db"/><stop offset="0.953" stop-color="#fee7dc"/><stop offset="0.971" stop-color="#fee8dd"/><stop offset="0.988" stop-color="#fee9de"/></linearGradient><linearGradient id="gTR37" gradientUnits="userSpaceOnUse" x1="0" y1="8.3" x2="0" y2="217.0"><stop offset="0.000" stop-color="#ffffff"/><stop offset="0.124" stop-color="#ffffff"/><stop offset="0.141" stop-color="#fff4ef"/><stop offset="0.159" stop-color="#fff1eb"/><stop offset="0.176" stop-color="#ffede4"/><stop offset="0.194" stop-color="#feeae0"/><stop offset="0.212" stop-color="#fee8dd"/><stop offset="0.229" stop-color="#fee6da"/><stop offset="0.247" stop-color="#fee3d7"/><stop offset="0.265" stop-color="#fee0d2"/><stop offset="0.282" stop-color="#fdceba"/><stop offset="0.300" stop-color="#fca98c"/><stop offset="0.318" stop-color="#fb7c5c"/><stop offset="0.335" stop-color="#f75a40"/><stop offset="0.353" stop-color="#f24734"/><stop offset="0.371" stop-color="#f03e2e"/><stop offset="0.388" stop-color="#ef3d2d"/><stop offset="0.406" stop-color="#f14331"/><stop offset="0.424" stop-color="#f44f39"/><stop offset="0.441" stop-color="#f96144"/><stop offset="0.459" stop-color="#fb7555"/><stop offset="0.476" stop-color="#fc8767"/><stop offset="0.494" stop-color="#fc9879"/><stop offset="0.512" stop-color="#fca689"/><stop offset="0.529" stop-color="#fcae92"/><stop offset="0.547" stop-color="#fcb398"/><stop offset="0.565" stop-color="#fcb89d"/><stop offset="0.582" stop-color="#fcbca3"/><stop offset="0.600" stop-color="#fcc0a8"/><stop offset="0.618" stop-color="#fdc4ad"/><stop offset="0.635" stop-color="#fdc8b2"/><stop offset="0.653" stop-color="#fdcbb7"/><stop offset="0.671" stop-color="#fdcebb"/><stop offset="0.688" stop-color="#fdd1be"/><stop offset="0.706" stop-color="#fdd4c2"/><stop offset="0.724" stop-color="#fdd7c5"/><stop offset="0.741" stop-color="#fed9c9"/><stop offset="0.759" stop-color="#fedccd"/><stop offset="0.776" stop-color="#fedfd0"/><stop offset="0.794" stop-color="#fee1d3"/><stop offset="0.812" stop-color="#fee2d4"/><stop offset="0.829" stop-color="#fee2d5"/><stop offset="0.847" stop-color="#fee3d6"/><stop offset="0.865" stop-color="#fee4d7"/><stop offset="0.882" stop-color="#fee4d8"/><stop offset="0.900" stop-color="#fee5d9"/><stop offset="0.918" stop-color="#fee6da"/><stop offset="0.935" stop-color="#fee7db"/><stop offset="0.953" stop-color="#fee7dc"/><stop offset="0.971" stop-color="#fee8dd"/><stop offset="0.988" stop-color="#fee9de"/></linearGradient><linearGradient id="gTR38" gradientUnits="userSpaceOnUse" x1="0" y1="8.3" x2="0" y2="217.0"><stop offset="0.000" stop-color="#ffffff"/><stop offset="0.141" stop-color="#ffffff"/><stop offset="0.159" stop-color="#fff4ee"/><stop offset="0.176" stop-color="#fff0e8"/><stop offset="0.194" stop-color="#ffece3"/><stop offset="0.212" stop-color="#fee9df"/><stop offset="0.229" stop-color="#fee6db"/><stop offset="0.247" stop-color="#fee4d8"/><stop offset="0.265" stop-color="#fee1d4"/><stop offset="0.282" stop-color="#fdd4c2"/><stop offset="0.300" stop-color="#fcb398"/><stop offset="0.318" stop-color="#fc8666"/><stop offset="0.335" stop-color="#f96245"/><stop offset="0.353" stop-color="#f44e38"/><stop offset="0.371" stop-color="#f14432"/><stop offset="0.388" stop-color="#ef3d2d"/><stop offset="0.406" stop-color="#ef3c2d"/><stop offset="0.424" stop-color="#f14231"/><stop offset="0.441" stop-color="#f44d38"/><stop offset="0.459" stop-color="#f85e43"/><stop offset="0.476" stop-color="#fb7353"/><stop offset="0.494" stop-color="#fc8969"/><stop offset="0.512" stop-color="#fc9e80"/><stop offset="0.529" stop-color="#fcac90"/><stop offset="0.547" stop-color="#fcb297"/><stop offset="0.565" stop-color="#fcb79c"/><stop offset="0.582" stop-color="#fcbba1"/><stop offset="0.600" stop-color="#fcbfa6"/><stop offset="0.618" stop-color="#fcc3ab"/><stop offset="0.635" stop-color="#fdc7b0"/><stop offset="0.653" stop-color="#fdcab5"/><stop offset="0.671" stop-color="#fdcdb9"/><stop offset="0.688" stop-color="#fdd0bd"/><stop offset="0.706" stop-color="#fdd3c1"/><stop offset="0.724" stop-color="#fdd6c5"/><stop offset="0.741" stop-color="#fed9c9"/><stop offset="0.759" stop-color="#fedccc"/><stop offset="0.776" stop-color="#fedfd0"/><stop offset="0.794" stop-color="#fee1d3"/><stop offset="0.812" stop-color="#fee2d4"/><stop offset="0.829" stop-color="#fee2d5"/><stop offset="0.847" stop-color="#fee3d6"/><stop offset="0.865" stop-color="#fee4d7"/><stop offset="0.882" stop-color="#fee4d8"/><stop offset="0.900" stop-color="#fee5d9"/><stop offset="0.918" stop-color="#fee6da"/><stop offset="0.935" stop-color="#fee7db"/><stop offset="0.953" stop-color="#fee7dc"/><stop offset="0.971" stop-color="#fee8dd"/><stop offset="0.988" stop-color="#fee9de"/></linearGradient></defs><rect x="423.88" y="8.3" width="6.98" height="208.8" fill="url(#gTR0)"/><rect x="430.51" y="8.3" width="6.98" height="208.8" fill="url(#gTR1)"/><rect x="437.14" y="8.3" width="6.98" height="208.8" fill="url(#gTR2)"/><rect x="443.77" y="8.3" width="6.98" height="208.8" fill="url(#gTR3)"/><rect x="450.40" y="8.3" width="6.98" height="208.8" fill="url(#gTR4)"/><rect x="463.67" y="8.3" width="6.98" height="208.8" fill="url(#gTR6)"/><rect x="470.30" y="8.3" width="6.98" height="208.8" fill="url(#gTR7)"/><rect x="476.93" y="8.3" width="6.98" height="208.8" fill="url(#gTR8)"/><rect x="483.56" y="8.3" width="6.98" height="208.8" fill="url(#gTR9)"/><rect x="490.19" y="8.3" width="6.98" height="208.8" fill="url(#gTR10)"/><rect x="496.81" y="8.3" width="6.98" height="208.8" fill="url(#gTR11)"/><rect x="503.44" y="8.3" width="6.98" height="208.8" fill="url(#gTR12)"/><rect x="510.07" y="8.3" width="6.98" height="208.8" fill="url(#gTR13)"/><rect x="516.70" y="8.3" width="6.98" height="208.8" fill="url(#gTR14)"/><rect x="523.33" y="8.3" width="6.98" height="208.8" fill="url(#gTR15)"/><rect x="529.96" y="8.3" width="6.98" height="208.8" fill="url(#gTR16)"/><rect x="536.59" y="8.3" width="6.98" height="208.8" fill="url(#gTR17)"/><rect x="543.22" y="8.3" width="6.98" height="208.8" fill="url(#gTR18)"/><rect x="549.85" y="8.3" width="6.98" height="208.8" fill="url(#gTR19)"/><rect x="556.48" y="8.3" width="6.98" height="208.8" fill="url(#gTR20)"/><rect x="563.11" y="8.3" width="6.98" height="208.8" fill="url(#gTR21)"/><rect x="569.74" y="8.3" width="6.98" height="208.8" fill="url(#gTR22)"/><rect x="576.38" y="8.3" width="6.98" height="208.8" fill="url(#gTR23)"/><rect x="583.00" y="8.3" width="6.98" height="208.8" fill="url(#gTR24)"/><rect x="589.63" y="8.3" width="6.98" height="208.8" fill="url(#gTR25)"/><rect x="596.26" y="8.3" width="6.98" height="208.8" fill="url(#gTR26)"/><rect x="602.89" y="8.3" width="6.98" height="208.8" fill="url(#gTR27)"/><rect x="609.52" y="8.3" width="6.98" height="208.8" fill="url(#gTR28)"/><rect x="616.15" y="8.3" width="6.98" height="208.8" fill="url(#gTR29)"/><rect x="622.78" y="8.3" width="6.98" height="208.8" fill="url(#gTR30)"/><rect x="629.41" y="8.3" width="6.98" height="208.8" fill="url(#gTR31)"/><rect x="636.04" y="8.3" width="6.98" height="208.8" fill="url(#gTR32)"/><rect x="642.67" y="8.3" width="6.98" height="208.8" fill="url(#gTR33)"/><rect x="649.30" y="8.3" width="6.98" height="208.8" fill="url(#gTR34)"/><rect x="655.93" y="8.3" width="6.98" height="208.8" fill="url(#gTR35)"/><rect x="662.56" y="8.3" width="6.98" height="208.8" fill="url(#gTR36)"/><rect x="669.19" y="8.3" width="6.98" height="208.8" fill="url(#gTR37)"/><rect x="675.82" y="8.3" width="6.98" height="208.8" fill="url(#gTR38)"/></g></g>
<g clip-path="url(#clipTL)"><path d="M34,14 34.7,28 L41.5,28 L45,31.5 L48,28 L51,28 L55,34 L51,37.5 L55,40 L61.5,41 L62.5,70 L66.5,76 L66.3,100 L65.3,118 L65.3,134 L61,135 L61,142 L65.3,143 L65.3,150 L61,151 L61,158 L65.3,159 L65.3,173 L61,174 L61,181 L65.3,182 L65.3,189 L61,190 L61,197 L65.3,198 L65.3,212 L71.6,212 L71.6,43 L75.5,45.2 L79.5,46.0 L84.2,50.6 L88.3,54.5 L112,54.7 L117.5,54.7 L121.6,58.8 L138,58.8 L139.5,55.4 L145,55.4 L146.5,58.8 L158.4,58.8 L159.5,55.4 L164,55.4 L167,59.0 L168.5,65.5 L173,61.0 L204.8,61.0 L207.4,65.5 L219.8,65.5 L223.4,61.0 L227.8,65.5 L231.3,65.5 L233,61.0 L260.5,61.0 L263,65.5 L288.8,65.5 L291.5,59.0 L293,59.0 L293,14 Z" fill="#fff"/></g>
<g clip-path="url(#clipTL)"><rect x="71" y="40" width="3.4" height="172" fill="#fff"/></g>
<g clip-path="url(#clipTL)"><path d="M34.7,28 L41.5,28 L45,31.5 L48,28 L51,28 L55,34 L51,37.5 L55,40 L61.5,41 L62.5,70 L66.5,76 L66.3,100 L65.3,118 L65.3,134 L61,135 L61,142 L65.3,143 L65.3,150 L61,151 L61,158 L65.3,159 L65.3,173 L61,174 L61,181 L65.3,182 L65.3,189 L61,190 L61,197 L65.3,198 L65.3,212" fill="none" stroke="#a3a3a3" stroke-width="3.5" stroke-linejoin="round" filter="url(#gblur)"/></g>
<g clip-path="url(#clipTL)"><path d="M71.6,212 L71.6,43 L75.5,44.2 L79.5,46.0 L84.2,50.6 L88.3,54.5 L112,54.7 L117.5,54.7 L121.6,58.8 L138,58.8 L139.5,55.4 L145,55.4 L146.5,58.8 L158.4,58.8 L159.5,55.4 L164,55.4 L167,59.0 L168.5,65.5 L173,61.0 L204.8,61.0 L207.4,65.5 L219.8,65.5 L223.4,61.0 L227.8,65.5 L231.3,65.5 L233,61.0 L260.5,61.0 L263,65.5 L288.8,65.5 L291.5,59.0 L293,59.0" fill="none" stroke="#a3a3a3" stroke-width="3.5" stroke-linejoin="round" filter="url(#gblur)"/></g>
<g clip-path="url(#clipTL)"><ellipse cx="117.5" cy="54.5" rx="4.3" ry="4.3" fill="none" stroke="#a3a3a3" stroke-width="3.2" filter="url(#gblur)"/></g>
<g clip-path="url(#clipTL)"><path d="M117.5,50.5 L117.5,58.5" fill="none" stroke="#a3a3a3" stroke-width="1.6" stroke-linejoin="round" filter="url(#gblur)"/></g>
<g clip-path="url(#clipTL)"><ellipse cx="137" cy="197.1" rx="3.8" ry="3.8" fill="none" stroke="#a3a3a3" stroke-width="3.2" filter="url(#gblur)"/></g>
<g clip-path="url(#clipTL)"><ellipse cx="157.1" cy="191.8" rx="3.8" ry="3.8" fill="none" stroke="#a3a3a3" stroke-width="3.2" filter="url(#gblur)"/></g>
<g clip-path="url(#clipTL)"><ellipse cx="144.5" cy="208.4" rx="3.8" ry="3.8" fill="none" stroke="#a3a3a3" stroke-width="3.2" filter="url(#gblur)"/></g>
<g clip-path="url(#clipTL)"><ellipse cx="157.1" cy="208.4" rx="3.8" ry="3.8" fill="none" stroke="#a3a3a3" stroke-width="3.2" filter="url(#gblur)"/></g>
<g clip-path="url(#clipTR)"><path d="M424,14 424.5,22.8 L429.4,23.5 L431.5,31.7 L434.2,33 L436.2,27.6 L440.3,27.6 L443,30.3 L444.4,38.5 L447.8,39.2 L450.5,41.2 L458.5,44 L458.5,127 L452.5,131 L452.5,212 L463.5,212 L463.5,34.4 L466.9,33 L470.9,37.1 L474.3,43.9 L478.4,49.4 L482.5,46 L486.6,43.3 L492,45.3 L497.5,48 L501.6,49.4 L503.6,39.9 L507,39.2 L509,48 L513.8,50.7 L519.2,53.5 L525.4,48.5 L529.5,44.4 L533.6,44.4 L537.7,53.3 L540.4,54.6 L543.8,45.8 L547.2,44.4 L551.3,47.1 L556.7,53.3 L560.1,54 L563.5,49.9 L567.6,49.2 L608.6,48.9 L611,44 L614.7,43.4 L619,41.6 L624.5,44.6 L629.4,49.5 L640.4,49.5 L644.7,44 L648.4,45.8 L649,53.2 L655.1,53.2 L656.3,44.6 L672.2,43.4 L677.1,39.1 L683,38.5 L683,14 Z" fill="#fff"/></g>
<g clip-path="url(#clipTR)"><path d="M453,44 L455,49 L455,100 L453.2,110 L453.2,131 L451.5,135 L451.5,212 L464.5,212 L464.5,40 Z" fill="#fff"/></g>
<g clip-path="url(#clipTR)"><path d="M424.5,22.8 L429.4,23.5 L431.5,31.7 L434.2,33 L436.2,27.6 L440.3,27.6 L443,30.3 L444.4,38.5 L447.8,39.2 L450.5,41.2 L453,46 L455,49 L455,100 L453.2,110 L453.2,131 L451.5,135 L451.5,163 L447.5,164 L447.5,170 L451.5,171 L451.5,175 L447.5,176 L447.5,182 L451.5,183 L451.5,186 L447.5,187 L447.5,193 L451.5,194 L451.5,212" fill="none" stroke="#a3a3a3" stroke-width="3.5" stroke-linejoin="round" filter="url(#gblur)"/></g>
<g clip-path="url(#clipTR)"><path d="M463.5,212 L463.5,34.4 L466.9,33 L470.9,37.1 L474.3,43.9 L478.4,49.4 L482.5,46 L486.6,43.3 L492,45.3 L497.5,48 L501.6,49.4 L503.6,39.9 L507,39.2 L509,48 L513.8,50.7 L519.2,53.5 L525.4,48.5 L529.5,44.4 L533.6,44.4 L537.7,53.3 L540.4,54.6 L543.8,45.8 L547.2,44.4 L551.3,47.1 L556.7,53.3 L560.1,54 L563.5,49.9 L567.6,49.2 L608.6,48.9 L611,44 L614.7,43.4 L619,41.6 L624.5,44.6 L629.4,49.5 L640.4,49.5 L644.7,44 L648.4,45.8 L649,53.2 L655.1,53.2 L656.3,44.6 L672.2,43.4 L677.1,39.1 L683,38.5" fill="none" stroke="#a3a3a3" stroke-width="3.5" stroke-linejoin="round" filter="url(#gblur)"/></g>
<g clip-path="url(#clipTR)"><ellipse cx="560.1" cy="36.2" rx="3.9" ry="2.6" fill="none" stroke="#a3a3a3" stroke-width="2.4" filter="url(#gblur)"/></g>
<g clip-path="url(#clipTR)"><ellipse cx="566.3" cy="25.4" rx="3.9" ry="2.6" fill="none" stroke="#a3a3a3" stroke-width="2.4" filter="url(#gblur)"/></g>
<g clip-path="url(#clipTR)"><ellipse cx="586.7" cy="30.8" rx="3.9" ry="2.6" fill="none" stroke="#a3a3a3" stroke-width="2.4" filter="url(#gblur)"/></g>
<g clip-path="url(#clipTR)"><ellipse cx="605.7" cy="36.2" rx="3.9" ry="2.6" fill="none" stroke="#a3a3a3" stroke-width="2.4" filter="url(#gblur)"/></g>
<g clip-path="url(#clipTR)"><ellipse cx="632.4" cy="30.5" rx="3.9" ry="2.6" fill="none" stroke="#a3a3a3" stroke-width="2.4" filter="url(#gblur)"/></g>
<g clip-path="url(#clipTR)"><ellipse cx="659.4" cy="36" rx="3.9" ry="2.6" fill="none" stroke="#a3a3a3" stroke-width="2.4" filter="url(#gblur)"/></g>
<g clip-path="url(#clipTR)"><ellipse cx="619" cy="45" rx="2.6" ry="2.6" fill="none" stroke="#a3a3a3" stroke-width="2.4" filter="url(#gblur)"/></g>
<g clip-path="url(#clipTR)"><ellipse cx="526.9" cy="154.8" rx="2.9" ry="2.9" fill="none" stroke="#a3a3a3" stroke-width="2.4" filter="url(#gblur)"/></g>
<g clip-path="url(#clipTR)"><ellipse cx="513.3" cy="191.5" rx="2.9" ry="2.9" fill="none" stroke="#a3a3a3" stroke-width="2.4" filter="url(#gblur)"/></g>
<g clip-path="url(#clipTR)"><ellipse cx="507.2" cy="208.5" rx="2.7" ry="2.7" fill="none" stroke="#a3a3a3" stroke-width="2.4" filter="url(#gblur)"/></g>
<g clip-path="url(#clipTR)"><ellipse cx="519.4" cy="208.5" rx="2.7" ry="2.7" fill="none" stroke="#a3a3a3" stroke-width="2.4" filter="url(#gblur)"/></g>
<g clip-path="url(#clipTR)"><rect x="503.5" y="173.0" width="6.0" height="11.5" rx="3.0" fill="none" stroke="#a3a3a3" stroke-width="2.2" filter="url(#gblur)"/></g>
<g clip-path="url(#clipTR)"><rect x="523.8" y="178.6" width="13.0" height="5.6" rx="2.8" fill="none" stroke="#a3a3a3" stroke-width="2.2" filter="url(#gblur)"/></g>
<g clip-path="url(#clipTR)"><rect x="497.5" y="189.5" width="5.5" height="10.0" rx="2.7" fill="none" stroke="#a3a3a3" stroke-width="2.2" filter="url(#gblur)"/></g>
<g clip-path="url(#clipTR)"><rect x="543.8" y="185.0" width="5.6" height="9.0" rx="2.8" fill="none" stroke="#a3a3a3" stroke-width="2.2" filter="url(#gblur)"/></g>
<g clip-path="url(#clipTR)"><rect x="484.1" y="204.0" width="5.5" height="13" rx="2.7" fill="none" stroke="#a3a3a3" stroke-width="2.2" filter="url(#gblur)"/></g>
<g clip-path="url(#clipTR)"><path d="M477.5,185.5 L490.5,185.5 L490.5,193.5 L486.5,193.5 L486.5,189.5 L477.5,189.5 Z" fill="none" stroke="#a3a3a3" stroke-width="3.5" stroke-linejoin="round" filter="url(#gblur)"/></g>
<g clip-path="url(#clipTR)"><path d="M532.5,214 L532.5,204 L541,197 L550,204 L550,214" fill="none" stroke="#a3a3a3" stroke-width="3.5" stroke-linejoin="round" filter="url(#gblur)"/></g>
<g clip-path="url(#clipTR)"><path d="M465,195.5 L468,197 L465,198.5" fill="none" stroke="#a3a3a3" stroke-width="3.5" stroke-linejoin="round" filter="url(#gblur)"/></g>
<path d="M47.30,14.20 V211.30 M77.91,14.20 V211.30 M108.52,14.20 V211.30 M139.13,14.20 V211.30 M169.74,14.20 V211.30 M200.35,14.20 V211.30 M230.96,14.20 V211.30 M261.57,14.20 V211.30 M292.18,14.20 V211.30 M34.70,198.42 H292.30 M34.70,173.86 H292.30 M34.70,149.30 H292.30 M34.70,124.74 H292.30 M34.70,100.18 H292.30 M34.70,75.62 H292.30 M34.70,51.06 H292.30 M34.70,26.50 H292.30" stroke="#c2c2c2" stroke-width="0.7" stroke-dasharray="1.6 1.5" fill="none"/>
<path d="M47.30,215.10 V411.70 M77.91,215.10 V411.70 M108.52,215.10 V411.70 M139.13,215.10 V411.70 M169.74,215.10 V411.70 M200.35,215.10 V411.70 M230.96,215.10 V411.70 M261.57,215.10 V411.70 M292.18,215.10 V411.70 M34.70,399.16 H292.30 M34.70,374.58 H292.30 M34.70,350.00 H292.30 M34.70,325.42 H292.30 M34.70,300.84 H292.30 M34.70,276.26 H292.30 M34.70,251.68 H292.30 M34.70,227.10 H292.30" stroke="#c2c2c2" stroke-width="0.7" stroke-dasharray="1.6 1.5" fill="none"/>
<path d="M436.60,14.40 V211.20 M467.21,14.40 V211.20 M497.82,14.40 V211.20 M528.43,14.40 V211.20 M559.04,14.40 V211.20 M589.65,14.40 V211.20 M620.26,14.40 V211.20 M650.87,14.40 V211.20 M681.48,14.40 V211.20 M424.50,198.62 H682.40 M424.50,174.06 H682.40 M424.50,149.50 H682.40 M424.50,124.94 H682.40 M424.50,100.38 H682.40 M424.50,75.82 H682.40 M424.50,51.26 H682.40 M424.50,26.70 H682.40" stroke="#c2c2c2" stroke-width="0.7" stroke-dasharray="1.6 1.5" fill="none"/>
<path d="M436.60,215.10 V411.60 M467.21,215.10 V411.60 M497.82,215.10 V411.60 M528.43,215.10 V411.60 M559.04,215.10 V411.60 M589.65,215.10 V411.60 M620.26,215.10 V411.60 M650.87,215.10 V411.60 M681.48,215.10 V411.60 M424.50,399.16 H682.40 M424.50,374.58 H682.40 M424.50,350.00 H682.40 M424.50,325.42 H682.40 M424.50,300.84 H682.40 M424.50,276.26 H682.40 M424.50,251.68 H682.40 M424.50,227.10 H682.40" stroke="#c2c2c2" stroke-width="0.7" stroke-dasharray="1.6 1.5" fill="none"/>
<g clip-path="url(#clipTL)"><path d="M37.90,54.74 L44.53,61.01 L51.16,58.31 L57.79,69.36 L64.42,89.86 M77.68,68.87 L84.31,83.97 L90.94,82.99 L97.57,79.06 L104.20,79.30 L110.83,77.58 L117.46,80.16 L124.09,81.88 L130.72,87.53 L137.35,82.37 L143.98,80.04 L150.61,83.85 L157.24,81.02 L163.87,81.02 L170.50,87.65 L177.13,86.67 L183.76,83.60 L190.39,85.81 L197.02,84.95 L203.65,87.04 L210.28,89.50 L216.91,87.90 L223.54,87.90 L230.17,89.50 L236.80,90.48 L243.43,89.01 L250.06,87.90 L256.69,86.18 L263.32,90.48 L269.95,87.41 L276.58,87.65 L283.21,88.51 L289.84,90.60" fill="none" stroke="#0000ff" stroke-width="2.0" stroke-linejoin="round"/>
<rect x="35.30" y="52.14" width="5.2" height="5.2" fill="#0000ff"/>
<rect x="41.93" y="58.41" width="5.2" height="5.2" fill="#0000ff"/>
<rect x="48.56" y="55.71" width="5.2" height="5.2" fill="#0000ff"/>
<rect x="55.19" y="66.76" width="5.2" height="5.2" fill="#0000ff"/>
<rect x="61.82" y="87.26" width="5.2" height="5.2" fill="#0000ff"/>
<rect x="75.08" y="66.27" width="5.2" height="5.2" fill="#0000ff"/>
<rect x="81.71" y="81.37" width="5.2" height="5.2" fill="#0000ff"/>
<rect x="88.34" y="80.39" width="5.2" height="5.2" fill="#0000ff"/>
<rect x="94.97" y="76.46" width="5.2" height="5.2" fill="#0000ff"/>
<rect x="101.60" y="76.70" width="5.2" height="5.2" fill="#0000ff"/>
<rect x="108.23" y="74.98" width="5.2" height="5.2" fill="#0000ff"/>
<rect x="114.86" y="77.56" width="5.2" height="5.2" fill="#0000ff"/>
<rect x="121.49" y="79.28" width="5.2" height="5.2" fill="#0000ff"/>
<rect x="128.12" y="84.93" width="5.2" height="5.2" fill="#0000ff"/>
<rect x="134.75" y="79.77" width="5.2" height="5.2" fill="#0000ff"/>
<rect x="141.38" y="77.44" width="5.2" height="5.2" fill="#0000ff"/>
<rect x="148.01" y="81.25" width="5.2" height="5.2" fill="#0000ff"/>
<rect x="154.64" y="78.42" width="5.2" height="5.2" fill="#0000ff"/>
<rect x="161.27" y="78.42" width="5.2" height="5.2" fill="#0000ff"/>
<rect x="167.90" y="85.05" width="5.2" height="5.2" fill="#0000ff"/>
<rect x="174.53" y="84.07" width="5.2" height="5.2" fill="#0000ff"/>
<rect x="181.16" y="81.00" width="5.2" height="5.2" fill="#0000ff"/>
<rect x="187.79" y="83.21" width="5.2" height="5.2" fill="#0000ff"/>
<rect x="194.42" y="82.35" width="5.2" height="5.2" fill="#0000ff"/>
<rect x="201.05" y="84.44" width="5.2" height="5.2" fill="#0000ff"/>
<rect x="207.68" y="86.90" width="5.2" height="5.2" fill="#0000ff"/>
<rect x="214.31" y="85.30" width="5.2" height="5.2" fill="#0000ff"/>
<rect x="220.94" y="85.30" width="5.2" height="5.2" fill="#0000ff"/>
<rect x="227.57" y="86.90" width="5.2" height="5.2" fill="#0000ff"/>
<rect x="234.20" y="87.88" width="5.2" height="5.2" fill="#0000ff"/>
<rect x="240.83" y="86.41" width="5.2" height="5.2" fill="#0000ff"/>
<rect x="247.46" y="85.30" width="5.2" height="5.2" fill="#0000ff"/>
<rect x="254.09" y="83.58" width="5.2" height="5.2" fill="#0000ff"/>
<rect x="260.72" y="87.88" width="5.2" height="5.2" fill="#0000ff"/>
<rect x="267.35" y="84.81" width="5.2" height="5.2" fill="#0000ff"/>
<rect x="273.98" y="85.05" width="5.2" height="5.2" fill="#0000ff"/>
<rect x="280.61" y="85.91" width="5.2" height="5.2" fill="#0000ff"/>
<rect x="287.24" y="88.00" width="5.2" height="5.2" fill="#0000ff"/>
</g>
<g clip-path="url(#clipTL)"><path d="M37.90,48.60 L44.53,52.04 L51.16,54.50 L57.79,65.67 L64.42,76.85 M77.68,59.66 L84.31,72.18 L90.94,70.46 L97.57,69.48 L104.20,68.25 L110.83,68.74 L117.46,70.46 L124.09,70.46 L130.72,75.74 L137.35,71.94 L143.98,70.46 L150.61,72.18 L157.24,70.22 L163.87,72.18 L170.50,75.74 L177.13,74.02 L183.76,73.16 L190.39,74.02 L197.02,74.76 L203.65,76.11 L210.28,77.71 L216.91,76.48 L223.54,77.71 L230.17,79.43 L236.80,79.92 L243.43,79.30 L250.06,78.69 L256.69,76.11 L263.32,80.78 L269.95,77.34 L276.58,77.09 L283.21,78.81 L289.84,80.53" fill="none" stroke="#0000ff" stroke-width="2.0" stroke-linejoin="round" stroke-dasharray="7.4 3.3"/>
</g>
<g clip-path="url(#clipTL)"><path d="M37.90,82.99 L44.53,99.57 L51.16,101.90 L57.79,110.86 L64.42,105.21 M77.68,89.86 L84.31,130.63 L90.94,119.21 L97.57,104.36 L104.20,102.88 L110.83,104.85 L117.46,112.21 L124.09,102.64 L130.72,129.04 L137.35,100.67 L143.98,102.88 L150.61,103.74 L157.24,100.18 L163.87,106.20 L170.50,105.71 L177.13,101.90 L183.76,106.81 L190.39,107.06 L197.02,114.30 L203.65,109.76 L210.28,111.85 L216.91,107.43 L223.54,113.44 L230.17,114.06 L236.80,118.11 L243.43,114.30 L250.06,112.09 L256.69,103.25 L263.32,111.23 L269.95,106.57 L276.58,109.76 L283.21,111.48 L289.84,113.44" fill="none" stroke="#000000" stroke-width="2.0" stroke-linejoin="round"/>
<circle cx="37.90" cy="82.99" r="2.6" fill="#000000"/>
<circle cx="44.53" cy="99.57" r="2.6" fill="#000000"/>
<circle cx="51.16" cy="101.90" r="2.6" fill="#000000"/>
<circle cx="57.79" cy="110.86" r="2.6" fill="#000000"/>
<circle cx="64.42" cy="105.21" r="2.6" fill="#000000"/>
<circle cx="77.68" cy="89.86" r="2.6" fill="#000000"/>
<circle cx="84.31" cy="130.63" r="2.6" fill="#000000"/>
<circle cx="90.94" cy="119.21" r="2.6" fill="#000000"/>
<circle cx="97.57" cy="104.36" r="2.6" fill="#000000"/>
<circle cx="104.20" cy="102.88" r="2.6" fill="#000000"/>
<circle cx="110.83" cy="104.85" r="2.6" fill="#000000"/>
<circle cx="117.46" cy="112.21" r="2.6" fill="#000000"/>
<circle cx="124.09" cy="102.64" r="2.6" fill="#000000"/>
<circle cx="130.72" cy="129.04" r="2.6" fill="#000000"/>
<circle cx="137.35" cy="100.67" r="2.6" fill="#000000"/>
<circle cx="143.98" cy="102.88" r="2.6" fill="#000000"/>
<circle cx="150.61" cy="103.74" r="2.6" fill="#000000"/>
<circle cx="157.24" cy="100.18" r="2.6" fill="#000000"/>
<circle cx="163.87" cy="106.20" r="2.6" fill="#000000"/>
<circle cx="170.50" cy="105.71" r="2.6" fill="#000000"/>
<circle cx="177.13" cy="101.90" r="2.6" fill="#000000"/>
<circle cx="183.76" cy="106.81" r="2.6" fill="#000000"/>
<circle cx="190.39" cy="107.06" r="2.6" fill="#000000"/>
<circle cx="197.02" cy="114.30" r="2.6" fill="#000000"/>
<circle cx="203.65" cy="109.76" r="2.6" fill="#000000"/>
<circle cx="210.28" cy="111.85" r="2.6" fill="#000000"/>
<circle cx="216.91" cy="107.43" r="2.6" fill="#000000"/>
<circle cx="223.54" cy="113.44" r="2.6" fill="#000000"/>
<circle cx="230.17" cy="114.06" r="2.6" fill="#000000"/>
<circle cx="236.80" cy="118.11" r="2.6" fill="#000000"/>
<circle cx="243.43" cy="114.30" r="2.6" fill="#000000"/>
<circle cx="250.06" cy="112.09" r="2.6" fill="#000000"/>
<circle cx="256.69" cy="103.25" r="2.6" fill="#000000"/>
<circle cx="263.32" cy="111.23" r="2.6" fill="#000000"/>
<circle cx="269.95" cy="106.57" r="2.6" fill="#000000"/>
<circle cx="276.58" cy="109.76" r="2.6" fill="#000000"/>
<circle cx="283.21" cy="111.48" r="2.6" fill="#000000"/>
<circle cx="289.84" cy="113.44" r="2.6" fill="#000000"/>
</g>
<g clip-path="url(#clipTL)"><path d="M37.90,67.27 L44.53,80.53 L51.16,83.48 L57.79,95.15 L64.42,121.92 M77.68,74.15 L84.31,110.62 L90.94,97.72 L97.57,84.22 L104.20,84.83 L110.83,88.88 L117.46,91.58 L124.09,84.22 L130.72,104.97 L137.35,83.85 L143.98,85.20 L150.61,86.30 L157.24,83.36 L163.87,85.94 L170.50,86.79 L177.13,85.94 L183.76,88.51 L190.39,89.37 L197.02,95.39 L203.65,90.60 L210.28,92.81 L216.91,89.37 L223.54,92.81 L230.17,93.55 L236.80,97.85 L243.43,95.39 L250.06,92.93 L256.69,87.65 L263.32,91.09 L269.95,89.37 L276.58,91.95 L283.21,93.67 L289.84,94.90" fill="none" stroke="#000000" stroke-width="2.0" stroke-linejoin="round" stroke-dasharray="7.4 3.3"/>
</g>
<g clip-path="url(#clipTL)"><path d="M37.20,66.02 L40.26,66.78 L43.32,67.50 L46.38,68.18 L49.44,68.83 L52.50,69.45 L55.56,70.04 L58.63,70.61 L61.69,71.15 L64.75,71.67 L67.81,72.17 L70.87,72.65 L73.93,73.12 L76.99,73.57 L80.05,74.00 L83.11,74.42 L86.17,74.83 L89.24,75.23 L92.30,75.61 L95.36,75.98 L98.42,76.35 L101.48,76.70 L104.54,77.04 L107.60,77.38 L110.66,77.70 L113.72,78.02 L116.78,78.33 L119.85,78.64 L122.91,78.93 L125.97,79.22 L129.03,79.51 L132.09,79.78 L135.15,80.06 L138.21,80.32 L141.27,80.59 L144.33,80.84 L147.39,81.09 L150.46,81.34 L153.52,81.58 L156.58,81.82 L159.64,82.05 L162.70,82.28 L165.76,82.51 L168.82,82.73 L171.88,82.95 L174.94,83.16 L178.00,83.37 L181.07,83.58 L184.13,83.78 L187.19,83.99 L190.25,84.18 L193.31,84.38 L196.37,84.57 L199.43,84.76 L202.49,84.95 L205.55,85.13 L208.61,85.31 L211.68,85.49 L214.74,85.67 L217.80,85.84 L220.86,86.02 L223.92,86.19 L226.98,86.35 L230.04,86.52 L233.10,86.68 L236.16,86.84 L239.22,87.00 L242.29,87.16 L245.35,87.32 L248.41,87.47 L251.47,87.62 L254.53,87.77 L257.59,87.92 L260.65,88.07 L263.71,88.22 L266.77,88.36 L269.83,88.50 L272.90,88.64 L275.96,88.78 L279.02,88.92 L282.08,89.06 L285.14,89.19 L288.20,89.32 L291.26,89.46" fill="none" stroke="#008000" stroke-width="2.2"/></g>
<g clip-path="url(#clipTR)"><path d="M427.20,53.22 L433.83,57.15 L440.46,56.17 L447.09,61.70 L453.72,69.07 M466.98,58.14 L473.61,70.91 L480.24,73.12 L486.87,70.91 L493.50,70.05 L500.13,68.57 L506.76,66.86 L513.39,71.52 L520.02,77.54 L526.65,70.54 L533.28,68.45 L539.91,74.10 L546.54,71.15 L553.17,73.86 L559.80,65.75 L566.43,60.47 L573.06,71.28 L579.69,73.12 L586.32,62.07 L592.95,73.49 L599.58,75.57 L606.21,70.54 L612.84,76.43 L619.47,72.38 L626.10,77.29 L632.73,65.50 L639.36,76.43 L645.99,70.05 L652.62,78.77 L659.25,71.40 L665.88,73.36 L672.51,73.12 L679.14,73.98" fill="none" stroke="#0000ff" stroke-width="2.0" stroke-linejoin="round"/>
<rect x="424.60" y="50.62" width="5.2" height="5.2" fill="#0000ff"/>
<rect x="431.23" y="54.55" width="5.2" height="5.2" fill="#0000ff"/>
<rect x="437.86" y="53.57" width="5.2" height="5.2" fill="#0000ff"/>
<rect x="444.49" y="59.10" width="5.2" height="5.2" fill="#0000ff"/>
<rect x="451.12" y="66.47" width="5.2" height="5.2" fill="#0000ff"/>
<rect x="464.38" y="55.54" width="5.2" height="5.2" fill="#0000ff"/>
<rect x="471.01" y="68.31" width="5.2" height="5.2" fill="#0000ff"/>
<rect x="477.64" y="70.52" width="5.2" height="5.2" fill="#0000ff"/>
<rect x="484.27" y="68.31" width="5.2" height="5.2" fill="#0000ff"/>
<rect x="490.90" y="67.45" width="5.2" height="5.2" fill="#0000ff"/>
<rect x="497.53" y="65.97" width="5.2" height="5.2" fill="#0000ff"/>
<rect x="504.16" y="64.26" width="5.2" height="5.2" fill="#0000ff"/>
<rect x="510.79" y="68.92" width="5.2" height="5.2" fill="#0000ff"/>
<rect x="517.42" y="74.94" width="5.2" height="5.2" fill="#0000ff"/>
<rect x="524.05" y="67.94" width="5.2" height="5.2" fill="#0000ff"/>
<rect x="530.68" y="65.85" width="5.2" height="5.2" fill="#0000ff"/>
<rect x="537.31" y="71.50" width="5.2" height="5.2" fill="#0000ff"/>
<rect x="543.94" y="68.55" width="5.2" height="5.2" fill="#0000ff"/>
<rect x="550.57" y="71.26" width="5.2" height="5.2" fill="#0000ff"/>
<rect x="557.20" y="63.15" width="5.2" height="5.2" fill="#0000ff"/>
<rect x="563.83" y="57.87" width="5.2" height="5.2" fill="#0000ff"/>
<rect x="570.46" y="68.68" width="5.2" height="5.2" fill="#0000ff"/>
<rect x="577.09" y="70.52" width="5.2" height="5.2" fill="#0000ff"/>
<rect x="583.72" y="59.47" width="5.2" height="5.2" fill="#0000ff"/>
<rect x="590.35" y="70.89" width="5.2" height="5.2" fill="#0000ff"/>
<rect x="596.98" y="72.97" width="5.2" height="5.2" fill="#0000ff"/>
<rect x="603.61" y="67.94" width="5.2" height="5.2" fill="#0000ff"/>
<rect x="610.24" y="73.83" width="5.2" height="5.2" fill="#0000ff"/>
<rect x="616.87" y="69.78" width="5.2" height="5.2" fill="#0000ff"/>
<rect x="623.50" y="74.69" width="5.2" height="5.2" fill="#0000ff"/>
<rect x="630.13" y="62.90" width="5.2" height="5.2" fill="#0000ff"/>
<rect x="636.76" y="73.83" width="5.2" height="5.2" fill="#0000ff"/>
<rect x="643.39" y="67.45" width="5.2" height="5.2" fill="#0000ff"/>
<rect x="650.02" y="76.17" width="5.2" height="5.2" fill="#0000ff"/>
<rect x="656.65" y="68.80" width="5.2" height="5.2" fill="#0000ff"/>
<rect x="663.28" y="70.76" width="5.2" height="5.2" fill="#0000ff"/>
<rect x="669.91" y="70.52" width="5.2" height="5.2" fill="#0000ff"/>
<rect x="676.54" y="71.38" width="5.2" height="5.2" fill="#0000ff"/>
</g>
<g clip-path="url(#clipTR)"><path d="M427.20,49.42 L433.83,52.86 L440.46,54.45 L447.09,62.19 L453.72,76.80 M466.98,56.17 L473.61,69.68 L480.24,71.89 L486.87,69.93 L493.50,69.07 L500.13,67.72 L506.76,66.00 L513.39,70.29 L520.02,76.43 L526.65,69.68 L533.28,67.72 L539.91,73.12 L546.54,70.29 L553.17,72.87 L559.80,73.36 L566.43,75.45 L573.06,75.21 L579.69,75.21 L586.32,75.33 L592.95,75.45 L599.58,77.66 L606.21,75.21 L612.84,77.05 L619.47,77.54 L626.10,78.03 L632.73,78.52 L639.36,79.01 L645.99,76.43 L652.62,78.03 L659.25,77.54 L665.88,77.29 L672.51,78.28 L679.14,80.49" fill="none" stroke="#0000ff" stroke-width="2.0" stroke-linejoin="round" stroke-dasharray="7.4 3.3"/>
</g>
<g clip-path="url(#clipTR)"><path d="M427.20,74.96 L433.83,85.64 L440.46,84.42 L447.09,90.56 L453.72,84.05 M466.98,70.91 L473.61,114.50 L480.24,99.64 L486.87,93.50 L493.50,93.87 L500.13,88.84 L506.76,92.64 L513.39,88.47 L520.02,109.22 L526.65,90.56 L533.28,92.77 L539.91,93.87 L546.54,94.85 L553.17,96.94 L559.80,92.89 L566.43,89.82 L573.06,93.13 L579.69,92.28 L586.32,100.63 L592.95,95.71 L599.58,99.64 L606.21,94.24 L612.84,101.24 L619.47,101.36 L626.10,106.40 L632.73,104.06 L639.36,99.52 L645.99,88.35 L652.62,98.78 L659.25,93.87 L665.88,94.61 L672.51,98.78 L679.14,99.03" fill="none" stroke="#000000" stroke-width="2.0" stroke-linejoin="round"/>
<circle cx="427.20" cy="74.96" r="2.6" fill="#000000"/>
<circle cx="433.83" cy="85.64" r="2.6" fill="#000000"/>
<circle cx="440.46" cy="84.42" r="2.6" fill="#000000"/>
<circle cx="447.09" cy="90.56" r="2.6" fill="#000000"/>
<circle cx="453.72" cy="84.05" r="2.6" fill="#000000"/>
<circle cx="466.98" cy="70.91" r="2.6" fill="#000000"/>
<circle cx="473.61" cy="114.50" r="2.6" fill="#000000"/>
<circle cx="480.24" cy="99.64" r="2.6" fill="#000000"/>
<circle cx="486.87" cy="93.50" r="2.6" fill="#000000"/>
<circle cx="493.50" cy="93.87" r="2.6" fill="#000000"/>
<circle cx="500.13" cy="88.84" r="2.6" fill="#000000"/>
<circle cx="506.76" cy="92.64" r="2.6" fill="#000000"/>
<circle cx="513.39" cy="88.47" r="2.6" fill="#000000"/>
<circle cx="520.02" cy="109.22" r="2.6" fill="#000000"/>
<circle cx="526.65" cy="90.56" r="2.6" fill="#000000"/>
<circle cx="533.28" cy="92.77" r="2.6" fill="#000000"/>
<circle cx="539.91" cy="93.87" r="2.6" fill="#000000"/>
<circle cx="546.54" cy="94.85" r="2.6" fill="#000000"/>
<circle cx="553.17" cy="96.94" r="2.6" fill="#000000"/>
<circle cx="559.80" cy="92.89" r="2.6" fill="#000000"/>
<circle cx="566.43" cy="89.82" r="2.6" fill="#000000"/>
<circle cx="573.06" cy="93.13" r="2.6" fill="#000000"/>
<circle cx="579.69" cy="92.28" r="2.6" fill="#000000"/>
<circle cx="586.32" cy="100.63" r="2.6" fill="#000000"/>
<circle cx="592.95" cy="95.71" r="2.6" fill="#000000"/>
<circle cx="599.58" cy="99.64" r="2.6" fill="#000000"/>
<circle cx="606.21" cy="94.24" r="2.6" fill="#000000"/>
<circle cx="612.84" cy="101.24" r="2.6" fill="#000000"/>
<circle cx="619.47" cy="101.36" r="2.6" fill="#000000"/>
<circle cx="626.10" cy="106.40" r="2.6" fill="#000000"/>
<circle cx="632.73" cy="104.06" r="2.6" fill="#000000"/>
<circle cx="639.36" cy="99.52" r="2.6" fill="#000000"/>
<circle cx="645.99" cy="88.35" r="2.6" fill="#000000"/>
<circle cx="652.62" cy="98.78" r="2.6" fill="#000000"/>
<circle cx="659.25" cy="93.87" r="2.6" fill="#000000"/>
<circle cx="665.88" cy="94.61" r="2.6" fill="#000000"/>
<circle cx="672.51" cy="98.78" r="2.6" fill="#000000"/>
<circle cx="679.14" cy="99.03" r="2.6" fill="#000000"/>
</g>
<g clip-path="url(#clipTR)"><path d="M427.20,68.21 L433.83,80.24 L440.46,83.19 L447.09,93.01 L453.72,122.36 M466.98,68.45 L473.61,112.66 L480.24,97.92 L486.87,88.10 L493.50,88.10 L500.13,89.94 L506.76,89.33 L513.39,86.87 L520.02,105.29 L526.65,84.17 L533.28,83.43 L539.91,85.89 L546.54,83.43 L553.17,86.75 L559.80,85.89 L566.43,85.15 L573.06,89.45 L579.69,90.56 L586.32,96.20 L592.95,91.78 L599.58,93.01 L606.21,89.70 L612.84,94.49 L619.47,95.35 L626.10,97.92 L632.73,95.35 L639.36,93.26 L645.99,86.87 L652.62,92.03 L659.25,91.17 L665.88,93.01 L672.51,94.61 L679.14,95.96" fill="none" stroke="#000000" stroke-width="2.0" stroke-linejoin="round" stroke-dasharray="7.4 3.3"/>
</g>
<g clip-path="url(#clipTR)"><path d="M426.50,66.02 L429.56,66.79 L432.62,67.52 L435.68,68.21 L438.74,68.86 L441.80,69.49 L444.86,70.08 L447.93,70.65 L450.99,71.20 L454.05,71.73 L457.11,72.23 L460.17,72.72 L463.23,73.19 L466.29,73.64 L469.35,74.08 L472.41,74.50 L475.47,74.91 L478.54,75.31 L481.60,75.70 L484.66,76.07 L487.72,76.44 L490.78,76.79 L493.84,77.14 L496.90,77.48 L499.96,77.81 L503.02,78.13 L506.08,78.44 L509.15,78.75 L512.21,79.05 L515.27,79.34 L518.33,79.63 L521.39,79.91 L524.45,80.18 L527.51,80.45 L530.57,80.71 L533.63,80.97 L536.69,81.22 L539.76,81.47 L542.82,81.72 L545.88,81.96 L548.94,82.19 L552.00,82.42 L555.06,82.65 L558.12,82.87 L561.18,83.09 L564.24,83.31 L567.30,83.52 L570.37,83.73 L573.43,83.94 L576.49,84.14 L579.55,84.34 L582.61,84.54 L585.67,84.73 L588.73,84.92 L591.79,85.11 L594.85,85.30 L597.91,85.48 L600.98,85.66 L604.04,85.84 L607.10,86.01 L610.16,86.19 L613.22,86.36 L616.28,86.53 L619.34,86.70 L622.40,86.86 L625.46,87.02 L628.52,87.18 L631.59,87.34 L634.65,87.50 L637.71,87.66 L640.77,87.81 L643.83,87.96 L646.89,88.11 L649.95,88.26 L653.01,88.41 L656.07,88.55 L659.13,88.69 L662.20,88.84 L665.26,88.98 L668.32,89.12 L671.38,89.25 L674.44,89.39 L677.50,89.52 L680.56,89.66" fill="none" stroke="#008000" stroke-width="2.2"/></g>
<g clip-path="url(#clipBL)"><path d="M37.90,255.37 L44.53,261.63 L51.16,258.93 L57.79,269.99 L64.42,290.52 M77.68,269.50 L84.31,284.62 L90.94,283.63 L97.57,279.70 L104.20,279.95 L110.83,278.23 L117.46,280.81 L124.09,282.53 L130.72,288.18 L137.35,283.02 L143.98,280.68 L150.61,284.49 L157.24,281.67 L163.87,281.67 L170.50,288.30 L177.13,287.32 L183.76,284.25 L190.39,286.46 L197.02,285.60 L203.65,287.69 L210.28,290.15 L216.91,288.55 L223.54,288.55 L230.17,290.15 L236.80,291.13 L243.43,289.66 L250.06,288.55 L256.69,286.83 L263.32,291.13 L269.95,288.06 L276.58,288.30 L283.21,289.16 L289.84,291.25" fill="none" stroke="#0000ff" stroke-width="2.0" stroke-linejoin="round"/>
</g>
<g clip-path="url(#clipBL)"><path d="M37.90,283.63 L44.53,300.23 L51.16,302.56 L57.79,311.53 L64.42,305.88 M77.68,290.52 L84.31,331.32 L90.94,319.89 L97.57,305.02 L104.20,303.54 L110.83,305.51 L117.46,312.88 L124.09,303.30 L130.72,329.72 L137.35,301.33 L143.98,303.54 L150.61,304.40 L157.24,300.84 L163.87,306.86 L170.50,306.37 L177.13,302.56 L183.76,307.48 L190.39,307.72 L197.02,314.97 L203.65,310.43 L210.28,312.52 L216.91,308.09 L223.54,314.11 L230.17,314.73 L236.80,318.78 L243.43,314.97 L250.06,312.76 L256.69,303.91 L263.32,311.90 L269.95,307.23 L276.58,310.43 L283.21,312.15 L289.84,314.11" fill="none" stroke="#000000" stroke-width="2.0" stroke-linejoin="round"/>
</g>
<g clip-path="url(#clipBL)"><path d="M37.90,332.79 L44.53,363.89 L51.16,365.98 L57.79,371.38 L64.42,385.27 M77.68,364.87 L84.31,387.36 L90.94,371.38 L97.57,350.37 L104.20,359.22 L110.83,366.47 L117.46,354.55 L124.09,351.11 L130.72,374.21 L137.35,359.59 L143.98,355.41 L150.61,350.25 L157.24,342.50 L163.87,350.25 L170.50,346.31 L177.13,348.53 L183.76,357.87 L190.39,349.02 L197.02,368.19 L203.65,360.45 L210.28,357.13 L216.91,353.56 L223.54,359.59 L230.17,356.14 L236.80,365.49 L243.43,367.33 L250.06,353.56 L256.69,341.64 L263.32,354.18 L269.95,345.94 L276.58,357.13 L283.21,359.59 L289.84,357.13" fill="none" stroke="#a52a2a" stroke-width="2.0" stroke-linejoin="round" stroke-dasharray="7.4 3.3"/>
</g>
<g clip-path="url(#clipBL)"><path d="M37.90,300.72 L44.53,322.10 L51.16,324.31 L57.79,335.01 L64.42,329.60 M77.68,318.91 L84.31,355.28 L90.94,339.18 L97.57,322.47 L104.20,322.72 L110.83,327.14 L117.46,332.18 L124.09,318.66 L130.72,346.80 L137.35,321.12 L143.98,318.66 L150.61,319.40 L157.24,315.96 L163.87,321.98 L170.50,319.27 L177.13,315.96 L183.76,325.67 L190.39,322.35 L197.02,330.46 L203.65,325.42 L210.28,327.14 L216.91,321.12 L223.54,331.44 L230.17,329.72 L236.80,335.74 L243.43,331.44 L250.06,325.42 L256.69,316.82 L263.32,324.56 L269.95,321.12 L276.58,326.28 L283.21,328.86 L289.84,326.28" fill="none" stroke="#00ffff" stroke-width="2.0" stroke-linejoin="round" stroke-dasharray="7.4 3.3"/>
</g>
<g clip-path="url(#clipBL)"><path d="M37.90,276.75 L44.53,291.25 L51.16,295.56 L57.79,301.95 L64.42,300.84 M77.68,281.18 L84.31,320.50 L90.94,307.60 L97.57,296.78 L104.20,296.17 L110.83,297.03 L117.46,302.19 L124.09,298.75 L130.72,319.27 L137.35,297.03 L143.98,297.89 L150.61,297.03 L157.24,295.43 L163.87,299.61 L170.50,300.23 L177.13,297.64 L183.76,299.61 L190.39,300.47 L197.02,305.63 L203.65,304.77 L210.28,305.14 L216.91,302.19 L223.54,308.21 L230.17,307.35 L236.80,309.57 L243.43,306.49 L250.06,304.77 L256.69,298.75 L263.32,304.40 L269.95,302.19 L276.58,304.77 L283.21,306.49 L289.84,308.21" fill="none" stroke="#ff0000" stroke-width="2.0" stroke-linejoin="round" stroke-dasharray="7.4 3.3"/>
</g>
<g clip-path="url(#clipBL)"><path d="M37.90,257.09 L44.53,262.25 L51.16,263.97 L57.79,275.15 L64.42,282.40 M77.68,265.69 L84.31,288.43 L90.94,284.74 L97.57,280.44 L104.20,276.51 L110.83,278.23 L117.46,280.81 L124.09,281.67 L130.72,285.97 L137.35,280.81 L143.98,278.23 L150.61,279.09 L157.24,278.23 L163.87,280.81 L170.50,282.53 L177.13,282.53 L183.76,279.95 L190.39,282.16 L197.02,282.53 L203.65,285.11 L210.28,286.83 L216.91,285.11 L223.54,286.83 L230.17,288.55 L236.80,290.15 L243.43,288.55 L250.06,285.85 L256.69,284.25 L263.32,286.83 L269.95,285.11 L276.58,285.60 L283.21,286.34 L289.84,288.55" fill="none" stroke="#ff00ff" stroke-width="2.0" stroke-linejoin="round" stroke-dasharray="7.4 3.3"/>
</g>
<g clip-path="url(#clipBR)"><path d="M427.20,253.65 L433.83,257.58 L440.46,256.60 L447.09,262.13 L453.72,269.50 M466.98,258.56 L473.61,271.34 L480.24,273.56 L486.87,271.34 L493.50,270.48 L500.13,269.01 L506.76,267.29 L513.39,271.96 L520.02,277.98 L526.65,270.98 L533.28,268.89 L539.91,274.54 L546.54,271.59 L553.17,274.29 L559.80,266.18 L566.43,260.90 L573.06,271.71 L579.69,273.56 L586.32,262.50 L592.95,273.92 L599.58,276.01 L606.21,270.98 L612.84,276.87 L619.47,272.82 L626.10,277.73 L632.73,265.94 L639.36,276.87 L645.99,270.48 L652.62,279.21 L659.25,271.84 L665.88,273.80 L672.51,273.56 L679.14,274.42" fill="none" stroke="#0000ff" stroke-width="2.0" stroke-linejoin="round"/>
</g>
<g clip-path="url(#clipBR)"><path d="M427.20,275.40 L433.83,286.09 L440.46,284.86 L447.09,291.01 L453.72,284.49 M466.98,271.34 L473.61,314.97 L480.24,300.10 L486.87,293.96 L493.50,294.33 L500.13,289.29 L506.76,293.10 L513.39,288.92 L520.02,309.69 L526.65,291.01 L533.28,293.22 L539.91,294.33 L546.54,295.31 L553.17,297.40 L559.80,293.34 L566.43,290.27 L573.06,293.59 L579.69,292.73 L586.32,301.09 L592.95,296.17 L599.58,300.10 L606.21,294.69 L612.84,301.70 L619.47,301.82 L626.10,306.86 L632.73,304.53 L639.36,299.98 L645.99,288.80 L652.62,299.24 L659.25,294.33 L665.88,295.06 L672.51,299.24 L679.14,299.49" fill="none" stroke="#000000" stroke-width="2.0" stroke-linejoin="round"/>
</g>
<g clip-path="url(#clipBR)"><path d="M427.20,329.11 L433.83,364.99 L440.46,341.89 L447.09,353.07 L453.72,377.65 M466.98,328.25 L473.61,369.05 L480.24,345.45 L486.87,336.85 L493.50,345.82 L500.13,335.87 L506.76,339.43 L513.39,338.45 L520.02,360.82 L526.65,359.83 L533.28,336.85 L539.91,341.89 L546.54,335.87 L553.17,338.45 L559.80,337.22 L566.43,333.41 L573.06,344.47 L579.69,338.45 L586.32,353.93 L592.95,348.77 L599.58,346.19 L606.21,341.15 L612.84,353.07 L619.47,340.17 L626.10,359.09 L632.73,353.07 L639.36,347.91 L645.99,330.83 L652.62,341.15 L659.25,335.13 L665.88,341.15 L672.51,342.75 L679.14,344.22" fill="none" stroke="#a52a2a" stroke-width="2.0" stroke-linejoin="round" stroke-dasharray="7.4 3.3"/>
</g>
<g clip-path="url(#clipBR)"><path d="M427.20,293.10 L433.83,310.67 L440.46,305.14 L447.09,312.39 L453.72,312.76 M466.98,288.80 L473.61,340.17 L480.24,322.22 L486.87,306.00 L493.50,307.97 L500.13,302.93 L506.76,311.53 L513.39,305.14 L520.02,331.69 L526.65,307.72 L533.28,309.44 L539.91,309.93 L546.54,307.72 L553.17,312.02 L559.80,309.44 L566.43,302.56 L573.06,312.76 L579.69,308.58 L586.32,319.64 L592.95,313.74 L599.58,317.06 L606.21,310.30 L612.84,318.78 L619.47,315.34 L626.10,324.19 L632.73,321.36 L639.36,315.34 L645.99,304.28 L652.62,312.39 L659.25,307.72 L665.88,311.16 L672.51,313.25 L679.14,313.99" fill="none" stroke="#00ffff" stroke-width="2.0" stroke-linejoin="round" stroke-dasharray="7.4 3.3"/>
</g>
<g clip-path="url(#clipBR)"><path d="M427.20,269.13 L433.83,276.75 L440.46,276.26 L447.09,281.91 L453.72,280.32 M466.98,266.55 L473.61,303.30 L480.24,291.25 L486.87,287.57 L493.50,286.71 L500.13,281.18 L506.76,285.35 L513.39,284.49 L520.02,303.30 L526.65,288.80 L533.28,287.94 L539.91,288.80 L546.54,289.66 L553.17,292.24 L559.80,286.71 L566.43,285.35 L573.06,286.58 L579.69,287.94 L586.32,292.24 L592.95,289.66 L599.58,292.24 L606.21,289.29 L612.84,294.82 L619.47,295.56 L626.10,299.00 L632.73,296.54 L639.36,291.25 L645.99,284.74 L652.62,293.10 L659.25,289.66 L665.88,290.52 L672.51,292.24 L679.14,292.73" fill="none" stroke="#ff0000" stroke-width="2.0" stroke-linejoin="round" stroke-dasharray="7.4 3.3"/>
</g>
<g clip-path="url(#clipBR)"><path d="M427.20,251.56 L433.83,253.28 L440.46,252.79 L447.09,258.81 L453.72,265.69 M466.98,254.51 L473.61,276.75 L480.24,273.43 L486.87,269.99 L493.50,265.69 L500.13,263.97 L506.76,266.55 L513.39,270.85 L520.02,276.75 L526.65,268.27 L533.28,268.27 L539.91,272.57 L546.54,270.85 L553.17,271.71 L559.80,272.57 L566.43,270.85 L573.06,268.27 L579.69,269.13 L586.32,269.13 L592.95,271.71 L599.58,272.57 L606.21,272.57 L612.84,275.15 L619.47,275.89 L626.10,278.72 L632.73,276.75 L639.36,274.17 L645.99,270.48 L652.62,275.89 L659.25,272.57 L665.88,272.20 L672.51,272.94 L679.14,275.15" fill="none" stroke="#ff00ff" stroke-width="2.0" stroke-linejoin="round" stroke-dasharray="7.4 3.3"/>
</g>
<g clip-path="url(#clipBL)"><path d="M37.20,266.65 L40.26,267.41 L43.32,268.13 L46.38,268.82 L49.44,269.47 L52.50,270.09 L55.56,270.68 L58.63,271.24 L61.69,271.79 L64.75,272.31 L67.81,272.81 L70.87,273.29 L73.93,273.76 L76.99,274.21 L80.05,274.64 L83.11,275.06 L86.17,275.47 L89.24,275.87 L92.30,276.25 L95.36,276.62 L98.42,276.99 L101.48,277.34 L104.54,277.68 L107.60,278.02 L110.66,278.34 L113.72,278.66 L116.78,278.97 L119.85,279.28 L122.91,279.58 L125.97,279.87 L129.03,280.15 L132.09,280.43 L135.15,280.70 L138.21,280.97 L141.27,281.23 L144.33,281.49 L147.39,281.74 L150.46,281.98 L153.52,282.23 L156.58,282.46 L159.64,282.70 L162.70,282.93 L165.76,283.15 L168.82,283.37 L171.88,283.59 L174.94,283.81 L178.00,284.02 L181.07,284.23 L184.13,284.43 L187.19,284.63 L190.25,284.83 L193.31,285.03 L196.37,285.22 L199.43,285.41 L202.49,285.60 L205.55,285.78 L208.61,285.96 L211.68,286.14 L214.74,286.32 L217.80,286.49 L220.86,286.66 L223.92,286.83 L226.98,287.00 L230.04,287.17 L233.10,287.33 L236.16,287.49 L239.22,287.65 L242.29,287.81 L245.35,287.97 L248.41,288.12 L251.47,288.27 L254.53,288.42 L257.59,288.57 L260.65,288.72 L263.71,288.87 L266.77,289.01 L269.83,289.15 L272.90,289.29 L275.96,289.43 L279.02,289.57 L282.08,289.71 L285.14,289.84 L288.20,289.98 L291.26,290.11" fill="none" stroke="#008000" stroke-width="2.2"/></g>
<g clip-path="url(#clipBR)"><path d="M426.50,266.46 L429.56,267.23 L432.62,267.95 L435.68,268.64 L438.74,269.30 L441.80,269.92 L444.86,270.52 L447.93,271.09 L450.99,271.64 L454.05,272.16 L457.11,272.67 L460.17,273.15 L463.23,273.62 L466.29,274.08 L469.35,274.52 L472.41,274.94 L475.47,275.35 L478.54,275.75 L481.60,276.14 L484.66,276.51 L487.72,276.88 L490.78,277.23 L493.84,277.58 L496.90,277.92 L499.96,278.25 L503.02,278.57 L506.08,278.88 L509.15,279.19 L512.21,279.49 L515.27,279.78 L518.33,280.07 L521.39,280.35 L524.45,280.62 L527.51,280.89 L530.57,281.16 L533.63,281.42 L536.69,281.67 L539.76,281.92 L542.82,282.16 L545.88,282.40 L548.94,282.64 L552.00,282.87 L555.06,283.10 L558.12,283.32 L561.18,283.54 L564.24,283.76 L567.30,283.97 L570.37,284.18 L573.43,284.38 L576.49,284.59 L579.55,284.79 L582.61,284.98 L585.67,285.18 L588.73,285.37 L591.79,285.56 L594.85,285.74 L597.91,285.93 L600.98,286.11 L604.04,286.29 L607.10,286.46 L610.16,286.64 L613.22,286.81 L616.28,286.98 L619.34,287.14 L622.40,287.31 L625.46,287.47 L628.52,287.63 L631.59,287.79 L634.65,287.95 L637.71,288.11 L640.77,288.26 L643.83,288.41 L646.89,288.56 L649.95,288.71 L653.01,288.86 L656.07,289.00 L659.13,289.14 L662.20,289.29 L665.26,289.43 L668.32,289.57 L671.38,289.70 L674.44,289.84 L677.50,289.97 L680.56,290.11" fill="none" stroke="#008000" stroke-width="2.2"/></g>
<rect x="166.1" y="125.1" width="122.10" height="81.40" rx="2" fill="#fff" fill-opacity="0.8" stroke="#cccccc" stroke-opacity="0.8" stroke-width="0.8"/>
<path d="M170.20,134.20 h18.4" stroke="#0000ff" stroke-width="2.0" fill="none"/>
<rect x="176.80" y="131.60" width="5.2" height="5.2" fill="#0000ff"/>
<text x="197.00" y="138.10" font-size="11.8" font-family="Liberation Serif, serif" textLength="77.4" lengthAdjust="spacingAndGlyphs" fill="#111">mean (<tspan font-style="italic" font-family="Liberation Sans, sans-serif">c</tspan><tspan font-size="6.5" dy="1.8" font-family="Liberation Sans, sans-serif">2</tspan><tspan dy="-1.8" font-family="Liberation Sans, sans-serif"> = 0.34</tspan>)</text>
<path d="M170.20,150.50 h18.4" stroke="#0000ff" stroke-width="2.0" stroke-dasharray="7.4 3.3" fill="none"/>
<text x="197.00" y="154.40" font-size="11.8" font-family="Liberation Serif, serif" textLength="71.9" lengthAdjust="spacingAndGlyphs" fill="#111">mean (<tspan font-style="italic" font-family="Liberation Sans, sans-serif">c</tspan><tspan font-size="6.5" dy="1.8" font-family="Liberation Sans, sans-serif">2</tspan><tspan dy="-1.8" font-family="Liberation Sans, sans-serif"> = 0.2</tspan>)</text>
<path d="M170.20,166.40 h18.4" stroke="#000000" stroke-width="2.0" fill="none"/>
<circle cx="179.40" cy="166.40" r="2.6" fill="#000000"/>
<text x="197.00" y="170.30" font-size="11.8" font-family="Liberation Serif, serif" textLength="87.1" lengthAdjust="spacingAndGlyphs" fill="#111">median (<tspan font-style="italic" font-family="Liberation Sans, sans-serif">c</tspan><tspan font-size="6.5" dy="1.8" font-family="Liberation Sans, sans-serif">2</tspan><tspan dy="-1.8" font-family="Liberation Sans, sans-serif"> = 0.34</tspan>)</text>
<path d="M170.20,182.10 h18.4" stroke="#000000" stroke-width="2.0" stroke-dasharray="7.4 3.3" fill="none"/>
<text x="197.00" y="186.00" font-size="11.8" font-family="Liberation Serif, serif" textLength="80.6" lengthAdjust="spacingAndGlyphs" fill="#111">median (<tspan font-style="italic" font-family="Liberation Sans, sans-serif">c</tspan><tspan font-size="6.5" dy="1.8" font-family="Liberation Sans, sans-serif">2</tspan><tspan dy="-1.8" font-family="Liberation Sans, sans-serif"> = 0.2</tspan>)</text>
<path d="M170.20,196.90 h18.4" stroke="#008000" stroke-width="1.7" fill="none"/>
<text x="197.00" y="200.80" font-size="11.8" font-family="Liberation Serif, serif" textLength="48.9" lengthAdjust="spacingAndGlyphs" fill="#111">lg scale fit</text>
<rect x="555.6" y="124.3" width="121.50" height="80.00" rx="2" fill="#fff" fill-opacity="0.8" stroke="#cccccc" stroke-opacity="0.8" stroke-width="0.8"/>
<path d="M559.30,134.30 h18.4" stroke="#0000ff" stroke-width="2.0" fill="none"/>
<rect x="565.90" y="131.70" width="5.2" height="5.2" fill="#0000ff"/>
<text x="586.70" y="138.20" font-size="11.8" font-family="Liberation Serif, serif" textLength="77.4" lengthAdjust="spacingAndGlyphs" fill="#111">mean (<tspan font-style="italic" font-family="Liberation Sans, sans-serif">c</tspan><tspan font-size="6.5" dy="1.8" font-family="Liberation Sans, sans-serif">2</tspan><tspan dy="-1.8" font-family="Liberation Sans, sans-serif"> = 0.34</tspan>)</text>
<path d="M559.30,150.30 h18.4" stroke="#0000ff" stroke-width="2.0" stroke-dasharray="7.4 3.3" fill="none"/>
<text x="586.70" y="154.20" font-size="11.8" font-family="Liberation Serif, serif" textLength="71.9" lengthAdjust="spacingAndGlyphs" fill="#111">mean (<tspan font-style="italic" font-family="Liberation Sans, sans-serif">c</tspan><tspan font-size="6.5" dy="1.8" font-family="Liberation Sans, sans-serif">2</tspan><tspan dy="-1.8" font-family="Liberation Sans, sans-serif"> = 0.2</tspan>)</text>
<path d="M559.30,165.90 h18.4" stroke="#000000" stroke-width="2.0" fill="none"/>
<circle cx="568.50" cy="165.90" r="2.6" fill="#000000"/>
<text x="586.70" y="169.80" font-size="11.8" font-family="Liberation Serif, serif" textLength="87.1" lengthAdjust="spacingAndGlyphs" fill="#111">median (<tspan font-style="italic" font-family="Liberation Sans, sans-serif">c</tspan><tspan font-size="6.5" dy="1.8" font-family="Liberation Sans, sans-serif">2</tspan><tspan dy="-1.8" font-family="Liberation Sans, sans-serif"> = 0.34</tspan>)</text>
<path d="M559.30,182.10 h18.4" stroke="#000000" stroke-width="2.0" stroke-dasharray="7.4 3.3" fill="none"/>
<text x="586.70" y="186.00" font-size="11.8" font-family="Liberation Serif, serif" textLength="80.6" lengthAdjust="spacingAndGlyphs" fill="#111">median (<tspan font-style="italic" font-family="Liberation Sans, sans-serif">c</tspan><tspan font-size="6.5" dy="1.8" font-family="Liberation Sans, sans-serif">2</tspan><tspan dy="-1.8" font-family="Liberation Sans, sans-serif"> = 0.2</tspan>)</text>
<path d="M559.30,197.10 h18.4" stroke="#008000" stroke-width="1.7" fill="none"/>
<text x="586.70" y="201.00" font-size="11.8" font-family="Liberation Serif, serif" textLength="48.9" lengthAdjust="spacingAndGlyphs" fill="#111">lg scale fit</text>
<rect x="57.7" y="219.4" width="229.90" height="44.90" rx="2" fill="#fff" fill-opacity="0.8" stroke="#cccccc" stroke-opacity="0.8" stroke-width="0.8"/>
<path d="M61.20,227.20 h18.4" stroke="#0000ff" stroke-width="2.0" fill="none"/>
<text x="88.00" y="231.10" font-size="11.8" font-family="Liberation Serif, serif" textLength="25.0" lengthAdjust="spacingAndGlyphs" fill="#111">mean</text>
<path d="M61.20,241.20 h18.4" stroke="#000000" stroke-width="2.0" fill="none"/>
<text x="88.00" y="245.10" font-size="11.8" font-family="Liberation Serif, serif" textLength="34.0" lengthAdjust="spacingAndGlyphs" fill="#111">median</text>
<path d="M61.20,255.10 h18.4" stroke="#a52a2a" stroke-width="2.0" stroke-dasharray="7.4 3.3" fill="none"/>
<text x="88.00" y="259.00" font-size="10.856000000000002" font-family="Liberation Sans, sans-serif" textLength="18.8" lengthAdjust="spacingAndGlyphs" fill="#111">10%</text>
<path d="M142.00,227.20 h18.4" stroke="#00ffff" stroke-width="2.0" stroke-dasharray="7.4 3.3" fill="none"/>
<text x="168.20" y="231.10" font-size="10.856000000000002" font-family="Liberation Sans, sans-serif" textLength="19.5" lengthAdjust="spacingAndGlyphs" fill="#111">30%</text>
<path d="M142.00,241.20 h18.4" stroke="#ff0000" stroke-width="2.0" stroke-dasharray="7.4 3.3" fill="none"/>
<text x="168.20" y="245.10" font-size="10.856000000000002" font-family="Liberation Sans, sans-serif" textLength="19.5" lengthAdjust="spacingAndGlyphs" fill="#111">60%</text>
<path d="M208.20,227.20 h18.4" stroke="#ff00ff" stroke-width="2.0" stroke-dasharray="7.4 3.3" fill="none"/>
<text x="234.60" y="231.10" font-size="10.856000000000002" font-family="Liberation Sans, sans-serif" textLength="20.3" lengthAdjust="spacingAndGlyphs" fill="#111">90%</text>
<path d="M208.20,241.20 h18.4" stroke="#008000" stroke-width="1.7" fill="none"/>
<text x="234.60" y="245.10" font-size="11.8" font-family="Liberation Serif, serif" textLength="49.2" lengthAdjust="spacingAndGlyphs" fill="#111">lg scale fit</text>
<rect x="447.4" y="362.5" width="229.30" height="44.40" rx="2" fill="#fff" fill-opacity="0.8" stroke="#cccccc" stroke-opacity="0.8" stroke-width="0.8"/>
<path d="M450.70,369.30 h18.4" stroke="#0000ff" stroke-width="2.0" fill="none"/>
<text x="477.70" y="373.20" font-size="11.8" font-family="Liberation Serif, serif" textLength="25.0" lengthAdjust="spacingAndGlyphs" fill="#111">mean</text>
<path d="M450.70,383.60 h18.4" stroke="#000000" stroke-width="2.0" fill="none"/>
<text x="477.70" y="387.50" font-size="11.8" font-family="Liberation Serif, serif" textLength="34.0" lengthAdjust="spacingAndGlyphs" fill="#111">median</text>
<path d="M450.70,398.10 h18.4" stroke="#a52a2a" stroke-width="2.0" stroke-dasharray="7.4 3.3" fill="none"/>
<text x="477.70" y="402.00" font-size="10.856000000000002" font-family="Liberation Sans, sans-serif" textLength="18.8" lengthAdjust="spacingAndGlyphs" fill="#111">10%</text>
<path d="M531.50,369.30 h18.4" stroke="#00ffff" stroke-width="2.0" stroke-dasharray="7.4 3.3" fill="none"/>
<text x="558.00" y="373.20" font-size="10.856000000000002" font-family="Liberation Sans, sans-serif" textLength="19.5" lengthAdjust="spacingAndGlyphs" fill="#111">30%</text>
<path d="M531.50,383.60 h18.4" stroke="#ff0000" stroke-width="2.0" stroke-dasharray="7.4 3.3" fill="none"/>
<text x="558.00" y="387.50" font-size="10.856000000000002" font-family="Liberation Sans, sans-serif" textLength="19.5" lengthAdjust="spacingAndGlyphs" fill="#111">60%</text>
<path d="M597.50,369.30 h18.4" stroke="#ff00ff" stroke-width="2.0" stroke-dasharray="7.4 3.3" fill="none"/>
<text x="624.30" y="373.20" font-size="10.856000000000002" font-family="Liberation Sans, sans-serif" textLength="20.3" lengthAdjust="spacingAndGlyphs" fill="#111">90%</text>
<path d="M597.50,383.60 h18.4" stroke="#008000" stroke-width="1.7" fill="none"/>
<text x="624.30" y="387.50" font-size="11.8" font-family="Liberation Serif, serif" textLength="49.2" lengthAdjust="spacingAndGlyphs" fill="#111">lg scale fit</text>
<rect x="34.7" y="14.2" width="257.60" height="197.10" fill="none" stroke="#4a4a4a" stroke-width="1"/>
<path d="M31.50,198.42 h3.2 M31.50,173.86 h3.2 M31.50,149.30 h3.2 M31.50,124.74 h3.2 M31.50,100.18 h3.2 M31.50,75.62 h3.2 M31.50,51.06 h3.2 M31.50,26.50 h3.2 M47.30,211.30 v3.2 M77.91,211.30 v3.2 M108.52,211.30 v3.2 M139.13,211.30 v3.2 M169.74,211.30 v3.2 M200.35,211.30 v3.2 M230.96,211.30 v3.2 M261.57,211.30 v3.2 M292.18,211.30 v3.2" stroke="#4a4a4a" stroke-width="0.8" fill="none"/>
<text x="29.70" y="202.07" font-size="10.8" text-anchor="end" font-family="Liberation Serif, serif" textLength="12.7" lengthAdjust="spacingAndGlyphs" fill="#111">&#8722;6</text>
<text x="29.70" y="177.51" font-size="10.8" text-anchor="end" font-family="Liberation Serif, serif" textLength="12.7" lengthAdjust="spacingAndGlyphs" fill="#111">&#8722;4</text>
<text x="29.70" y="152.95" font-size="10.8" text-anchor="end" font-family="Liberation Serif, serif" textLength="12.7" lengthAdjust="spacingAndGlyphs" fill="#111">&#8722;2</text>
<text x="29.70" y="128.39" font-size="10.8" text-anchor="end" font-family="Liberation Serif, serif" textLength="5.5" lengthAdjust="spacingAndGlyphs" fill="#111">0</text>
<text x="29.70" y="103.83" font-size="10.8" text-anchor="end" font-family="Liberation Serif, serif" textLength="5.5" lengthAdjust="spacingAndGlyphs" fill="#111">2</text>
<text x="29.70" y="79.27" font-size="10.8" text-anchor="end" font-family="Liberation Serif, serif" textLength="5.5" lengthAdjust="spacingAndGlyphs" fill="#111">4</text>
<text x="29.70" y="54.71" font-size="10.8" text-anchor="end" font-family="Liberation Serif, serif" textLength="5.5" lengthAdjust="spacingAndGlyphs" fill="#111">6</text>
<text x="29.70" y="30.15" font-size="10.8" text-anchor="end" font-family="Liberation Serif, serif" textLength="5.5" lengthAdjust="spacingAndGlyphs" fill="#111">8</text>
<rect x="34.7" y="215.1" width="257.60" height="196.60" fill="none" stroke="#4a4a4a" stroke-width="1"/>
<path d="M31.50,399.16 h3.2 M31.50,374.58 h3.2 M31.50,350.00 h3.2 M31.50,325.42 h3.2 M31.50,300.84 h3.2 M31.50,276.26 h3.2 M31.50,251.68 h3.2 M31.50,227.10 h3.2 M47.30,411.70 v3.2 M77.91,411.70 v3.2 M108.52,411.70 v3.2 M139.13,411.70 v3.2 M169.74,411.70 v3.2 M200.35,411.70 v3.2 M230.96,411.70 v3.2 M261.57,411.70 v3.2 M292.18,411.70 v3.2" stroke="#4a4a4a" stroke-width="0.8" fill="none"/>
<text x="29.70" y="402.81" font-size="10.8" text-anchor="end" font-family="Liberation Serif, serif" textLength="12.7" lengthAdjust="spacingAndGlyphs" fill="#111">&#8722;6</text>
<text x="29.70" y="378.23" font-size="10.8" text-anchor="end" font-family="Liberation Serif, serif" textLength="12.7" lengthAdjust="spacingAndGlyphs" fill="#111">&#8722;4</text>
<text x="29.70" y="353.65" font-size="10.8" text-anchor="end" font-family="Liberation Serif, serif" textLength="12.7" lengthAdjust="spacingAndGlyphs" fill="#111">&#8722;2</text>
<text x="29.70" y="329.07" font-size="10.8" text-anchor="end" font-family="Liberation Serif, serif" textLength="5.5" lengthAdjust="spacingAndGlyphs" fill="#111">0</text>
<text x="29.70" y="304.49" font-size="10.8" text-anchor="end" font-family="Liberation Serif, serif" textLength="5.5" lengthAdjust="spacingAndGlyphs" fill="#111">2</text>
<text x="29.70" y="279.91" font-size="10.8" text-anchor="end" font-family="Liberation Serif, serif" textLength="5.5" lengthAdjust="spacingAndGlyphs" fill="#111">4</text>
<text x="29.70" y="255.33" font-size="10.8" text-anchor="end" font-family="Liberation Serif, serif" textLength="5.5" lengthAdjust="spacingAndGlyphs" fill="#111">6</text>
<text x="29.70" y="230.75" font-size="10.8" text-anchor="end" font-family="Liberation Serif, serif" textLength="5.5" lengthAdjust="spacingAndGlyphs" fill="#111">8</text>
<text x="47.30" y="423.90" font-size="10.8" text-anchor="middle" font-family="Liberation Serif, serif" textLength="13.7" lengthAdjust="spacingAndGlyphs" fill="#111">0.2</text>
<text x="77.91" y="423.90" font-size="10.8" text-anchor="middle" font-family="Liberation Serif, serif" textLength="13.7" lengthAdjust="spacingAndGlyphs" fill="#111">0.3</text>
<text x="108.52" y="423.90" font-size="10.8" text-anchor="middle" font-family="Liberation Serif, serif" textLength="13.7" lengthAdjust="spacingAndGlyphs" fill="#111">0.4</text>
<text x="139.13" y="423.90" font-size="10.8" text-anchor="middle" font-family="Liberation Serif, serif" textLength="13.7" lengthAdjust="spacingAndGlyphs" fill="#111">0.5</text>
<text x="169.74" y="423.90" font-size="10.8" text-anchor="middle" font-family="Liberation Serif, serif" textLength="13.7" lengthAdjust="spacingAndGlyphs" fill="#111">0.6</text>
<text x="200.35" y="423.90" font-size="10.8" text-anchor="middle" font-family="Liberation Serif, serif" textLength="13.7" lengthAdjust="spacingAndGlyphs" fill="#111">0.7</text>
<text x="230.96" y="423.90" font-size="10.8" text-anchor="middle" font-family="Liberation Serif, serif" textLength="13.7" lengthAdjust="spacingAndGlyphs" fill="#111">0.8</text>
<text x="261.57" y="423.90" font-size="10.8" text-anchor="middle" font-family="Liberation Serif, serif" textLength="13.7" lengthAdjust="spacingAndGlyphs" fill="#111">0.9</text>
<text x="292.18" y="423.90" font-size="10.8" text-anchor="middle" font-family="Liberation Serif, serif" textLength="13.7" lengthAdjust="spacingAndGlyphs" fill="#111">1.0</text>
<rect x="424.5" y="14.4" width="257.90" height="196.80" fill="none" stroke="#4a4a4a" stroke-width="1"/>
<path d="M421.30,198.62 h3.2 M421.30,174.06 h3.2 M421.30,149.50 h3.2 M421.30,124.94 h3.2 M421.30,100.38 h3.2 M421.30,75.82 h3.2 M421.30,51.26 h3.2 M421.30,26.70 h3.2 M436.60,211.20 v3.2 M467.21,211.20 v3.2 M497.82,211.20 v3.2 M528.43,211.20 v3.2 M559.04,211.20 v3.2 M589.65,211.20 v3.2 M620.26,211.20 v3.2 M650.87,211.20 v3.2 M681.48,211.20 v3.2" stroke="#4a4a4a" stroke-width="0.8" fill="none"/>
<text x="419.50" y="202.27" font-size="10.8" text-anchor="end" font-family="Liberation Serif, serif" textLength="12.7" lengthAdjust="spacingAndGlyphs" fill="#111">&#8722;6</text>
<text x="419.50" y="177.71" font-size="10.8" text-anchor="end" font-family="Liberation Serif, serif" textLength="12.7" lengthAdjust="spacingAndGlyphs" fill="#111">&#8722;4</text>
<text x="419.50" y="153.15" font-size="10.8" text-anchor="end" font-family="Liberation Serif, serif" textLength="12.7" lengthAdjust="spacingAndGlyphs" fill="#111">&#8722;2</text>
<text x="419.50" y="128.59" font-size="10.8" text-anchor="end" font-family="Liberation Serif, serif" textLength="5.5" lengthAdjust="spacingAndGlyphs" fill="#111">0</text>
<text x="419.50" y="104.03" font-size="10.8" text-anchor="end" font-family="Liberation Serif, serif" textLength="5.5" lengthAdjust="spacingAndGlyphs" fill="#111">2</text>
<text x="419.50" y="79.47" font-size="10.8" text-anchor="end" font-family="Liberation Serif, serif" textLength="5.5" lengthAdjust="spacingAndGlyphs" fill="#111">4</text>
<text x="419.50" y="54.91" font-size="10.8" text-anchor="end" font-family="Liberation Serif, serif" textLength="5.5" lengthAdjust="spacingAndGlyphs" fill="#111">6</text>
<text x="419.50" y="30.35" font-size="10.8" text-anchor="end" font-family="Liberation Serif, serif" textLength="5.5" lengthAdjust="spacingAndGlyphs" fill="#111">8</text>
<rect x="424.5" y="215.1" width="257.90" height="196.50" fill="none" stroke="#4a4a4a" stroke-width="1"/>
<path d="M421.30,399.16 h3.2 M421.30,374.58 h3.2 M421.30,350.00 h3.2 M421.30,325.42 h3.2 M421.30,300.84 h3.2 M421.30,276.26 h3.2 M421.30,251.68 h3.2 M421.30,227.10 h3.2 M436.60,411.60 v3.2 M467.21,411.60 v3.2 M497.82,411.60 v3.2 M528.43,411.60 v3.2 M559.04,411.60 v3.2 M589.65,411.60 v3.2 M620.26,411.60 v3.2 M650.87,411.60 v3.2 M681.48,411.60 v3.2" stroke="#4a4a4a" stroke-width="0.8" fill="none"/>
<text x="419.50" y="402.81" font-size="10.8" text-anchor="end" font-family="Liberation Serif, serif" textLength="12.7" lengthAdjust="spacingAndGlyphs" fill="#111">&#8722;6</text>
<text x="419.50" y="378.23" font-size="10.8" text-anchor="end" font-family="Liberation Serif, serif" textLength="12.7" lengthAdjust="spacingAndGlyphs" fill="#111">&#8722;4</text>
<text x="419.50" y="353.65" font-size="10.8" text-anchor="end" font-family="Liberation Serif, serif" textLength="12.7" lengthAdjust="spacingAndGlyphs" fill="#111">&#8722;2</text>
<text x="419.50" y="329.07" font-size="10.8" text-anchor="end" font-family="Liberation Serif, serif" textLength="5.5" lengthAdjust="spacingAndGlyphs" fill="#111">0</text>
<text x="419.50" y="304.49" font-size="10.8" text-anchor="end" font-family="Liberation Serif, serif" textLength="5.5" lengthAdjust="spacingAndGlyphs" fill="#111">2</text>
<text x="419.50" y="279.91" font-size="10.8" text-anchor="end" font-family="Liberation Serif, serif" textLength="5.5" lengthAdjust="spacingAndGlyphs" fill="#111">4</text>
<text x="419.50" y="255.33" font-size="10.8" text-anchor="end" font-family="Liberation Serif, serif" textLength="5.5" lengthAdjust="spacingAndGlyphs" fill="#111">6</text>
<text x="419.50" y="230.75" font-size="10.8" text-anchor="end" font-family="Liberation Serif, serif" textLength="5.5" lengthAdjust="spacingAndGlyphs" fill="#111">8</text>
<text x="436.60" y="423.90" font-size="10.8" text-anchor="middle" font-family="Liberation Serif, serif" textLength="13.7" lengthAdjust="spacingAndGlyphs" fill="#111">0.2</text>
<text x="467.21" y="423.90" font-size="10.8" text-anchor="middle" font-family="Liberation Serif, serif" textLength="13.7" lengthAdjust="spacingAndGlyphs" fill="#111">0.3</text>
<text x="497.82" y="423.90" font-size="10.8" text-anchor="middle" font-family="Liberation Serif, serif" textLength="13.7" lengthAdjust="spacingAndGlyphs" fill="#111">0.4</text>
<text x="528.43" y="423.90" font-size="10.8" text-anchor="middle" font-family="Liberation Serif, serif" textLength="13.7" lengthAdjust="spacingAndGlyphs" fill="#111">0.5</text>
<text x="559.04" y="423.90" font-size="10.8" text-anchor="middle" font-family="Liberation Serif, serif" textLength="13.7" lengthAdjust="spacingAndGlyphs" fill="#111">0.6</text>
<text x="589.65" y="423.90" font-size="10.8" text-anchor="middle" font-family="Liberation Serif, serif" textLength="13.7" lengthAdjust="spacingAndGlyphs" fill="#111">0.7</text>
<text x="620.26" y="423.90" font-size="10.8" text-anchor="middle" font-family="Liberation Serif, serif" textLength="13.7" lengthAdjust="spacingAndGlyphs" fill="#111">0.8</text>
<text x="650.87" y="423.90" font-size="10.8" text-anchor="middle" font-family="Liberation Serif, serif" textLength="13.7" lengthAdjust="spacingAndGlyphs" fill="#111">0.9</text>
<text x="681.48" y="423.90" font-size="10.8" text-anchor="middle" font-family="Liberation Serif, serif" textLength="13.7" lengthAdjust="spacingAndGlyphs" fill="#111">1.0</text>
<rect x="308.6" y="14.6" width="10.30" height="196.40" fill="url(#cbL)" stroke="#4a4a4a" stroke-width="0.8"/>
<path d="M318.90,180.19 h3.2" stroke="#4a4a4a" stroke-width="0.8"/>
<text x="323.70" y="183.84" font-size="10.8" text-anchor="start" font-family="Liberation Serif, serif" textLength="5.5" lengthAdjust="spacingAndGlyphs" fill="#111">2</text>
<path d="M318.90,149.38 h3.2" stroke="#4a4a4a" stroke-width="0.8"/>
<text x="323.70" y="153.03" font-size="10.8" text-anchor="start" font-family="Liberation Serif, serif" textLength="5.5" lengthAdjust="spacingAndGlyphs" fill="#111">4</text>
<path d="M318.90,118.58 h3.2" stroke="#4a4a4a" stroke-width="0.8"/>
<text x="323.70" y="122.23" font-size="10.8" text-anchor="start" font-family="Liberation Serif, serif" textLength="5.5" lengthAdjust="spacingAndGlyphs" fill="#111">6</text>
<path d="M318.90,87.77 h3.2" stroke="#4a4a4a" stroke-width="0.8"/>
<text x="323.70" y="91.42" font-size="10.8" text-anchor="start" font-family="Liberation Serif, serif" textLength="5.5" lengthAdjust="spacingAndGlyphs" fill="#111">8</text>
<path d="M318.90,56.96 h3.2" stroke="#4a4a4a" stroke-width="0.8"/>
<text x="323.70" y="60.61" font-size="10.8" text-anchor="start" font-family="Liberation Serif, serif" textLength="10.9" lengthAdjust="spacingAndGlyphs" fill="#111">10</text>
<path d="M318.90,26.15 h3.2" stroke="#4a4a4a" stroke-width="0.8"/>
<text x="323.70" y="29.80" font-size="10.8" text-anchor="start" font-family="Liberation Serif, serif" textLength="10.9" lengthAdjust="spacingAndGlyphs" fill="#111">12</text>
<text transform="translate(344.4,112.5) rotate(-90)" x="0" y="0" font-size="11.2" text-anchor="middle" font-family="Liberation Serif, serif" textLength="92" lengthAdjust="spacingAndGlyphs" fill="#111">% of measurements</text>
<rect x="698.2" y="14.5" width="10.30" height="196.30" fill="url(#cbR)" stroke="#4a4a4a" stroke-width="0.8"/>
<path d="M708.50,183.85 h3.2" stroke="#4a4a4a" stroke-width="0.8"/>
<text x="713.30" y="187.50" font-size="10.8" text-anchor="start" font-family="Liberation Serif, serif" textLength="5.5" lengthAdjust="spacingAndGlyphs" fill="#111">2</text>
<path d="M708.50,155.48 h3.2" stroke="#4a4a4a" stroke-width="0.8"/>
<text x="713.30" y="159.13" font-size="10.8" text-anchor="start" font-family="Liberation Serif, serif" textLength="5.5" lengthAdjust="spacingAndGlyphs" fill="#111">4</text>
<path d="M708.50,127.12 h3.2" stroke="#4a4a4a" stroke-width="0.8"/>
<text x="713.30" y="130.77" font-size="10.8" text-anchor="start" font-family="Liberation Serif, serif" textLength="5.5" lengthAdjust="spacingAndGlyphs" fill="#111">6</text>
<path d="M708.50,98.75 h3.2" stroke="#4a4a4a" stroke-width="0.8"/>
<text x="713.30" y="102.40" font-size="10.8" text-anchor="start" font-family="Liberation Serif, serif" textLength="5.5" lengthAdjust="spacingAndGlyphs" fill="#111">8</text>
<path d="M708.50,70.38 h3.2" stroke="#4a4a4a" stroke-width="0.8"/>
<text x="713.30" y="74.03" font-size="10.8" text-anchor="start" font-family="Liberation Serif, serif" textLength="10.9" lengthAdjust="spacingAndGlyphs" fill="#111">10</text>
<path d="M708.50,42.02 h3.2" stroke="#4a4a4a" stroke-width="0.8"/>
<text x="713.30" y="45.67" font-size="10.8" text-anchor="start" font-family="Liberation Serif, serif" textLength="10.9" lengthAdjust="spacingAndGlyphs" fill="#111">12</text>
<text transform="translate(735.4,112.5) rotate(-90)" x="0" y="0" font-size="11.2" text-anchor="middle" font-family="Liberation Serif, serif" textLength="92" lengthAdjust="spacingAndGlyphs" fill="#111">% of measurements</text>
<text transform="translate(7.8,109.3) rotate(-90)" x="0" y="0" font-size="11.2" text-anchor="middle" font-family="Liberation Serif, serif" textLength="72" lengthAdjust="spacingAndGlyphs" fill="#111">lg(<tspan font-style="italic">Q</tspan><tspan font-size="7" dy="1.5">&#8869;</tspan><tspan dy="-1.5"> [W/kg])</tspan></text>
<text transform="translate(7.8,313.4) rotate(-90)" x="0" y="0" font-size="11.2" text-anchor="middle" font-family="Liberation Serif, serif" textLength="72" lengthAdjust="spacingAndGlyphs" fill="#111">lg(<tspan font-style="italic">Q</tspan><tspan font-size="7" dy="1.5">&#8869;</tspan><tspan dy="-1.5"> [W/kg])</tspan></text>
<text transform="translate(397.6,109.3) rotate(-90)" x="0" y="0" font-size="11.2" text-anchor="middle" font-family="Liberation Serif, serif" textLength="72" lengthAdjust="spacingAndGlyphs" fill="#111">lg(<tspan font-style="italic">Q</tspan><tspan font-size="7" dy="1.5">&#8869;</tspan><tspan dy="-1.5"> [W/kg])</tspan></text>
<text transform="translate(397.6,313.4) rotate(-90)" x="0" y="0" font-size="11.2" text-anchor="middle" font-family="Liberation Serif, serif" textLength="72" lengthAdjust="spacingAndGlyphs" fill="#111">lg(<tspan font-style="italic">Q</tspan><tspan font-size="7" dy="1.5">&#8869;</tspan><tspan dy="-1.5"> [W/kg])</tspan></text>
<text x="163.50" y="437.20" font-size="11.2" text-anchor="middle" font-family="Liberation Serif, serif" textLength="27.0" lengthAdjust="spacingAndGlyphs" fill="#111">r [au]</text>
<text x="553.50" y="437.20" font-size="11.2" text-anchor="middle" font-family="Liberation Serif, serif" textLength="27.0" lengthAdjust="spacingAndGlyphs" fill="#111">r [au]</text>
<text x="161.50" y="462.40" font-size="12.2" text-anchor="middle" font-family="Liberation Serif, serif" textLength="16.4" lengthAdjust="spacingAndGlyphs" fill="#111">(a)</text>
<text x="553.50" y="462.40" font-size="12.2" text-anchor="middle" font-family="Liberation Serif, serif" textLength="17.5" lengthAdjust="spacingAndGlyphs" fill="#111">(b)</text>
<text x="163.2" y="8.8" font-size="10.5" text-anchor="middle" font-family="Liberation Sans, sans-serif" textLength="43.6" lengthAdjust="spacingAndGlyphs" fill="#111"><tspan font-style="italic">&#946;</tspan><tspan font-size="7.5" dy="2.2">||</tspan><tspan dy="-2.2"> &lt; 0.3</tspan></text>
<text x="552.80" y="9.90" font-size="12.8" text-anchor="middle" font-family="Liberation Serif, serif" textLength="41.9" lengthAdjust="spacingAndGlyphs" fill="#111">all data</text>
</g>
</svg>
</body></html>
